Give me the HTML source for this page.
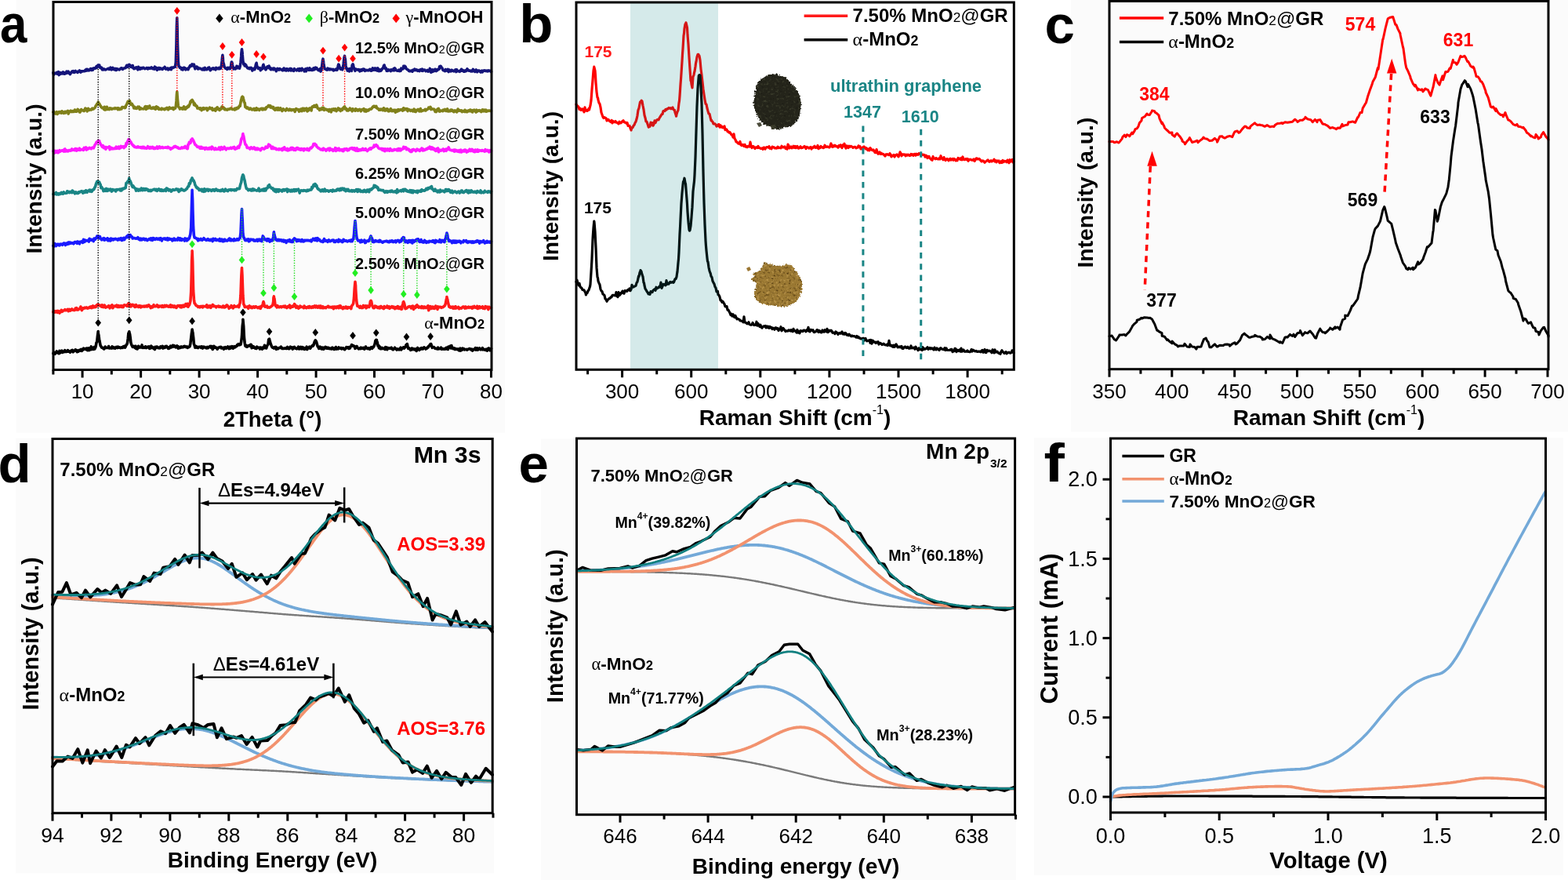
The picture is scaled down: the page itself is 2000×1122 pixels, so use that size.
<!DOCTYPE html>
<html><head><meta charset="utf-8"><title>Figure</title>
<style>html,body{margin:0;padding:0;background:#fff;}svg{display:block;}</style>
</head><body>
<svg width="2000" height="1122" viewBox="0 0 2000 1122">
<rect x="0" y="0" width="2000" height="1122" fill="#fff"/>
<rect x="20.7" y="0" width="623.3" height="551.7" fill="#fbfbfb" stroke="none" stroke-width="0"/>
<rect x="1366" y="0" width="634" height="550.5" fill="#fbfbfb" stroke="none" stroke-width="0"/>
<rect x="20" y="558.5" width="610" height="555" fill="#fbfbfb" stroke="none" stroke-width="0"/>
<rect x="690" y="559.5" width="605.8" height="562.5" fill="#fbfbfb" stroke="none" stroke-width="0"/>
<rect x="1319" y="558.4" width="674.8" height="557.5" fill="#fbfbfb" stroke="none" stroke-width="0"/>
<text x="0" y="54.3" font-size="69" font-weight="bold" text-anchor="start" fill="#000" font-family="'Liberation Sans', Arial, sans-serif" textLength="34.4" lengthAdjust="spacingAndGlyphs">a</text>
<text x="662.3" y="54.4" font-size="68.5" font-weight="bold" text-anchor="start" fill="#000" font-family="'Liberation Sans', Arial, sans-serif" textLength="43.2" lengthAdjust="spacingAndGlyphs">b</text>
<text x="1332.5" y="55" font-size="69" font-weight="bold" text-anchor="start" fill="#000" font-family="'Liberation Sans', Arial, sans-serif">c</text>
<text x="-2.5" y="615" font-size="69" font-weight="bold" text-anchor="start" fill="#000" font-family="'Liberation Sans', Arial, sans-serif">d</text>
<text x="661.5" y="615" font-size="69" font-weight="bold" text-anchor="start" fill="#000" font-family="'Liberation Sans', Arial, sans-serif">e</text>
<text x="1331.5" y="613.5" font-size="69" font-weight="bold" text-anchor="start" fill="#000" font-family="'Liberation Sans', Arial, sans-serif" textLength="26.3" lengthAdjust="spacingAndGlyphs">f</text>
<polyline points="67.9,92.7 68.6,95.1 69.3,93.1 70.1,93.6 70.8,93.7 71.6,93.1 72.3,92.4 73.1,94.2 73.8,93.9 74.6,91.7 75.3,95.6 76,94.3 76.8,92.6 77.5,94.1 78.3,92.8 79,93.1 79.8,93.8 80.5,91.9 81.3,93.5 82,94.2 82.8,94 83.5,92.5 84.2,93.5 85,91.2 85.7,92.4 86.5,92.9 87.2,91.2 88,92.3 88.7,93.9 89.5,94.6 90.2,92.9 90.9,92.8 91.7,91.2 92.4,90.9 93.2,90.6 93.9,92.3 94.7,92.4 95.4,91.1 96.2,90.5 96.9,91.8 97.7,91.7 98.4,91.3 99.1,92.4 99.9,91.1 100.6,91.1 101.4,90 102.1,91.1 102.9,92.1 103.6,90.8 104.4,90.7 105.1,90.9 105.8,90.7 106.6,90.8 107.3,90.7 108.1,90.7 108.8,89.3 109.6,90.2 110.3,88.4 111.1,89.9 111.8,88.5 112.5,89.4 113.3,89.8 114,88.9 114.8,89.3 115.5,87.6 116.3,88.2 117,89.5 117.8,87.7 118.5,89.2 119.3,87.1 120,87.2 120.7,86.7 121.5,87.1 122.2,86.9 123,84.6 123.7,84.5 123.7,86.2 124.5,83.7 125.2,83 125.2,84.1 126,83.8 126.7,83.9 126.7,83 127.4,86.1 128.2,85.6 128.9,86.8 129.7,86.3 130.4,88.8 131.2,88.5 131.9,88.9 132.7,88 133.4,88.5 134.2,88.9 134.9,89 135.6,88.4 136.4,88.1 137.1,87.8 137.9,87.4 138.6,87.2 139.4,88.4 140.1,87.8 140.9,86.2 141.6,87.9 142.3,88.9 143.1,87.7 143.8,86.3 144.6,87.8 145.3,88.6 146.1,88.1 146.8,87.5 147.6,89.5 148.3,89.5 149,87.7 149.8,88.5 150.5,88.1 151.3,88.4 152,89 152.8,88.4 153.5,87.7 154.3,86.9 155,86.7 155.8,87.4 156.5,88.3 157.2,87.4 158,87 158.7,87 159.5,86.5 160.2,86.6 161,84.6 161.7,83.3 162.5,84.2 162.8,83.3 163.2,85.5 163.9,83.6 164.7,83.3 164.7,82.2 165.4,83.9 166.2,83.5 166.6,85.3 166.9,85.3 167.7,84.3 168.4,85.9 169.2,83.5 169.9,85.7 170.7,87.7 171.4,87.5 172.1,87.1 172.9,87 173.6,85.9 174.4,86 175.1,87.4 175.9,88.8 176.6,85.3 177.4,87.9 178.1,87.8 178.8,88.2 179.6,86.5 180.3,86.9 181.1,87.4 181.8,86.4 182.6,86.2 183.3,86.5 184.1,87.3 184.8,87.7 185.5,87.3 186.3,87.3 187,86.6 187.8,86.5 188.5,88 189.3,86.8 190,86.6 190.8,87.3 191.5,87.3 191.5,87.4 192.3,86.4 193,85.9 193,86.2 193.7,86.2 194.5,87.5 194.5,86.5 195.2,87 196,86.7 196.7,88.1 197.5,85.2 198.2,87.5 199,87.9 199.7,86.3 200.4,89.3 201.2,87.2 201.9,87.2 202.7,86.4 203.4,88.2 204.2,87.6 204.9,86.9 205.7,87.6 206.4,88.1 207.2,88.5 207.9,87.6 208.6,86.6 209.4,86.9 210.1,85.4 210.9,86.8 211.6,88.1 212.4,87.8 213.1,87.3 213.9,87.1 214.6,88.8 215.3,87.6 216.1,88.2 216.8,87.7 217.6,86.7 218.3,88.6 219.1,86 219.8,86 220.6,86.5 221.3,86 222,85.8 222.8,85.1 223.5,85.2 224.3,79.2 225,55.9 225.4,33.6 225.8,22.8 225.8,24.5 226.1,34 226.5,56.6 227.3,78.2 228,84.6 228.8,84.9 229.5,86.5 230.2,85.9 231,86.7 231.7,88.5 232.5,86.8 233.2,89 234,86.8 234.7,86.2 235.5,87.3 236.2,86.9 236.9,88.8 237.7,87.9 238.4,88 239.2,87.3 239.9,88.7 240.7,86.8 241.4,86 242.2,84.1 242.9,83.3 243.5,83.8 243.7,84.3 244.4,83.9 245.1,81.9 245.1,83.2 245.9,83.1 246.6,82.5 246.8,84.1 247.4,82.1 248.1,85.2 248.9,87.8 249.6,85.2 250.4,86.6 251.1,85.2 251.8,86.5 252.6,88 253.3,86.5 254.1,87.5 254.8,87.2 255.6,87.3 256.3,87.8 257.1,88.1 257.8,88.8 258.5,88.5 259.3,87.2 260,89 260.8,88.9 261.5,86.4 262.3,88.4 263,88.6 263.8,88.7 264.5,88.3 265.3,86.7 266,87.6 266.7,86 267.5,87.7 268.2,89.7 269,88.5 269.7,88.6 270.5,87.4 271.2,87 272,86.9 272.7,88 273.4,87.2 274.2,87.3 274.9,88.9 275.7,86.4 276.4,86.7 277.2,87.4 277.9,87.7 278.7,87.6 279.4,86.4 280.2,87.7 280.9,87.2 281.6,87.1 282.4,83.6 283.1,78 283.4,74.3 283.9,70.4 283.9,70.8 284.3,73.6 284.6,79 285.4,81.7 286.1,85.4 286.9,85.8 287.6,87.2 288.3,87.1 289.1,87.4 289.8,88.4 290.6,86.3 291.3,87 292.1,87.5 292.8,86.5 293.6,87.6 294.3,86.4 295,81.9 295.3,79 295.8,80.4 295.8,79.4 296.2,80.9 296.5,82.6 297.3,86.1 298,87.9 298.8,87.4 299.5,86.9 300.3,87.9 301,86.7 301.8,84.8 301.9,84.3 302.5,85.6 302.5,85.1 303.1,86.7 303.2,84.8 304,85.5 304.7,86.8 305.5,87.1 306.2,84.5 307,79.5 307.7,71.9 307.9,67.7 308.5,62.8 308.5,63.2 309.1,67.2 309.2,69.4 309.9,77.7 310.7,81.1 310.7,82.1 311.4,81.1 312.2,84 312.2,81.5 312.9,83.9 313.7,82.8 313.7,84 314.4,84.6 315.2,86 315.9,86.9 316.7,86.6 317.4,87.2 318.1,87.7 318.9,86.5 319.6,87.2 320.4,86.4 321.1,88 321.9,90 322.6,88.7 323.4,87.2 324.1,87.3 324.8,88.6 325.6,86.4 326.3,82.6 326.6,81.6 327.1,80.3 327.1,80.3 327.5,83.1 327.8,84.1 328.6,85.5 329.3,87.3 330.1,87 330.8,87 331.5,86.7 332.3,89.7 333,87.7 333.8,88.3 334.5,87.8 335.3,84.3 335.6,83.8 336,82.7 336,82.4 336.5,85.2 336.8,84.8 337.5,86.6 338.3,88 339,88.9 339.7,87.7 340.5,85.8 340.9,85.2 341.2,84.8 342,84.9 342,85.8 342.7,86.5 343.1,84 343.5,86.3 344.2,86 345,88.2 345.7,88.7 346.4,87.4 347.2,87.9 347.9,87.5 348.7,88.8 349.4,87 350.2,87.5 350.9,87.9 351.7,89.6 352.4,90.7 353.2,88.6 353.9,87.5 354.6,88.6 355.4,87.8 356.1,89 356.9,87.6 357.6,88.3 358.4,88.6 359.1,89.1 359.9,88.6 360.6,89.8 361.3,88.8 362.1,87 362.8,89.5 363.6,88.4 364.3,88.1 365.1,90 365.8,87.8 366.6,88.8 367.3,88.1 368,89.9 368.8,88.4 369.5,88.9 370.3,87.5 371,90 371.8,87.8 372.5,89.6 373.3,89.7 374,89.9 374.8,90.4 375.5,87.7 376.2,89.1 377,88.9 377.7,89.1 378.5,89.8 379.2,88.9 380,88 380.7,88.7 381.5,90.2 382.2,87.7 382.9,88.9 383.7,87.9 384.4,89.8 385.2,87.3 385.9,88.5 386.7,88.7 387.4,88.9 388.2,90.9 388.9,90.2 389.7,87.9 390.4,90.8 391.1,87.7 391.9,87.1 392.6,87.5 393.4,89 394.1,89.3 394.9,86.8 395.6,89.2 396.4,88.5 397.1,89.3 397.8,88.3 398.6,89.3 399.3,88.7 400.1,86.8 400.8,88.8 401.2,87.4 401.6,87.7 402.3,88 402.3,86 403.1,87 403.4,86.5 403.8,86.6 404.5,88.1 405.3,88.5 406,89.6 406.8,89.7 407.5,88.5 408.3,87.6 409,91.1 409.8,89.6 410.5,85.4 411.3,79 411.5,77.1 412,75.2 412,76 412.5,78.3 412.7,80.3 413.5,85.3 414.2,87.8 415,88 415.7,88.6 416.5,88.6 417.2,89.2 418,87.1 418.7,88.5 419.4,88.6 420.2,87.9 420.9,88.8 421.7,88 422.4,88.3 423.2,88.7 423.9,88.7 424.7,88.4 425.4,89.9 426.2,89.1 426.9,89.2 427.6,89.1 428.4,88.2 429.1,87.9 429.9,89.3 430.6,87.4 431.4,83.7 431.7,82 432.1,83.1 432.1,82.3 432.6,83.9 432.9,84.8 433.6,87.2 434.3,88.1 435.1,87.2 435.8,88.2 436.6,88.8 437.3,87.4 438.1,81.8 438.8,75.4 439,73.5 439.6,71.4 439.6,72.4 440.1,75 440.3,75 441,83.5 441.8,87.5 442.5,87.6 443.3,90.1 444,88 444.8,89.7 445.5,90.9 446.3,87.6 447,88.4 447.8,88.9 448.5,90.3 449.2,83 449.5,83.9 450,82.4 450,81.8 450.5,82.6 450.7,84.2 451.5,87.2 452.2,87.4 453,90.3 453.7,88 454.5,88.7 455.2,88.5 455.9,88.8 456.7,89.2 457.4,88.5 458.2,89 458.9,90.8 459.7,90.2 460.4,89 461.2,90.1 461.9,88.6 462.7,89.5 463.4,88 464.1,88.2 464.9,88.5 465.6,90.4 466.4,89.5 467.1,89.8 467.9,89.4 468.6,89.6 469.4,89.6 470.1,89.9 470.8,89.4 471.6,88.4 472.3,88.5 473.1,90.2 473.8,90.2 474.6,89.2 475.3,86.9 476.1,89.4 476.4,88 476.8,87.5 477.5,87.4 477.5,87 478.3,89.1 478.7,89.3 479,87 479.8,88.2 480.5,89 481.3,90.1 482,86.9 482.8,90 483.5,90.7 484.3,88.9 485,89.2 485.7,90.3 486.5,89.5 487.2,87.8 488,87.6 488.7,86.5 489.5,83.9 489.7,84.5 490.2,83 490.2,83.5 490.8,85.2 491,86.8 491.7,87.7 492.4,87 493.2,90.3 493.9,89.1 494.7,90.3 495.4,88.9 496.2,89.7 496.9,89.3 497.7,89.4 498.4,90.6 499.2,88.9 499.9,89.6 500.6,89.7 501.4,89.1 502.1,87.5 502.9,89.8 503.6,86.9 504.4,88.1 505.1,89.1 505.9,89.9 506.6,90.2 507.3,90.2 508.1,90 508.8,89.1 509.6,90.5 510.3,89.1 511.1,90.3 511.8,87.2 512.6,88.1 513.3,88 514.1,87.7 514.8,84.3 515.4,86.3 515.5,86.1 516.3,85.3 516.3,84.2 517,86.6 517.2,85 517.8,87.3 518.5,87.6 519.3,88.5 520,88.9 520.8,89.2 521.5,90.4 522.2,90.7 523,90.8 523.7,90.3 524.5,90.2 525.2,90 526,91.2 526.7,89.2 527.5,89.1 528.2,89.7 528.9,88.1 529.7,89.4 530.4,89.6 531.2,88.8 531.9,89.2 532.7,90.3 533.4,89.5 534.2,89.8 534.9,90.6 535.7,89.2 536.4,88.7 537.1,89.7 537.9,90.1 538.6,88.1 539.4,90.3 540.1,89.5 540.9,89.4 541.6,89 542.4,89.6 543.1,90.6 543.8,90.2 544.6,90.5 545.3,89.4 546.1,91.2 546.8,90.9 547.6,89.7 548.3,87.4 549.1,89.8 549.8,92.2 550.6,89.7 551.3,88.8 552,91.3 552.8,89.2 553.5,90.1 554.3,90.4 555,88.3 555.8,89.7 556.5,90.5 557.3,88.9 558,89.5 558.7,88.2 559.5,88.3 560.2,88 560.6,84.8 561,85.1 561.7,85.3 561.7,84.3 562.5,84.6 562.8,85.5 563.2,86.1 564,86.8 564.7,88.6 565.4,89.6 566.2,90 566.9,90.1 567.7,90.7 568.4,88.5 569.2,89.7 569.9,90 570.7,90.3 571.4,88.4 572.2,91.6 572.9,89.1 573.6,90.1 574.4,90.6 575.1,90.9 575.9,89.3 576.6,89.5 577.4,90.3 578.1,90.5 578.9,90.8 579.6,89.9 580.3,89.4 581.1,88.8 581.8,91.6 582.6,88.8 583.3,90.7 584.1,90.3 584.8,90.7 585.6,90.9 586.3,91.3 587.1,90 587.8,90.4 588.5,88.3 589.3,90.1 590,89.3 590.8,89.9 591.5,91.2 592.3,90.2 593,91.1 593.8,89.9 594.5,90.5 595.2,89.7 596,87.8 596.7,89.5 597.5,89.9 598.2,90.3 599,90.1 599.7,90 600.5,91 601.2,90.7 601.9,89.8 602.7,90.9 603.4,88.4 604.2,89.9 604.9,90 605.7,91.4 606.4,89.7 607.2,88.9 607.9,90.4 608.7,91.7 609.4,90 610.1,90.1 610.9,90 611.6,90.3 612.4,91.4 613.1,92 613.9,90.7 614.6,90.1 615.4,91.9 616.1,90.3 616.8,90.3 617.6,89.9 618.3,90 619.1,90.5 619.8,90 620.6,90.6 621.3,90.4 622.1,90.8 622.8,89.9 623.6,90.1 624.3,90.5 625,90.4 625.8,90.4 626.5,91.4" fill="none" stroke="#14147a" stroke-width="3.6" stroke-linejoin="round" stroke-linecap="round"/>
<polyline points="67.9,143 68.6,142.2 69.3,144.5 70.1,143.6 70.8,145 71.6,143.6 72.3,142.6 73.1,145.5 73.8,143.9 74.6,143 75.3,142.7 76,143.8 76.8,142.6 77.5,143.5 78.3,144.2 79,141.8 79.8,142.7 80.5,143.4 81.3,144.4 82,143.6 82.8,142.3 83.5,144 84.2,142.3 85,142.4 85.7,142.8 86.5,141.4 87.2,145.1 88,143.4 88.7,142.4 89.5,141.7 90.2,141.1 90.9,142.4 91.7,142.6 92.4,141.5 93.2,141.7 93.9,142.3 94.7,141.6 95.4,140 96.2,142.2 96.9,141.7 97.7,142.1 98.4,140.7 99.1,139.4 99.9,140.1 100.6,141.4 101.4,142.9 102.1,143.1 102.9,141.2 103.6,139.5 104.4,140.4 105.1,141 105.8,140.9 106.6,140.5 107.3,141.6 108.1,139.5 108.8,138.2 109.6,139.3 110.3,138.9 111.1,141.9 111.8,139.6 112.5,138.4 113.3,140.2 114,140.4 114.8,139.5 115.5,139.5 116.3,140.1 117,139.5 117.8,138.2 118.5,139.1 119.3,139 120,138 120.7,137.8 121.5,136.7 122.2,134.9 123,133.9 123.5,133.7 123.7,132.4 124.5,133.2 125.2,132.9 125.2,130 126,132 126.7,132.2 126.9,132.5 127.4,134 128.2,134.8 128.9,136.4 129.7,137 130.4,137.7 131.2,137.1 131.9,137.8 132.7,139.6 133.4,136.2 134.2,140.1 134.9,138.1 135.6,139.7 136.4,136.3 137.1,138.3 137.9,139.4 138.6,138.8 139.4,139.6 140.1,137.9 140.9,138.2 141.6,138.1 142.3,139.1 143.1,139 143.8,138.5 144.6,138.4 145.3,138.3 146.1,138.6 146.8,137.7 147.6,138.5 148.3,138.3 149,138 149.8,137.9 150.5,139.7 151.3,137.8 152,138.7 152.8,139.5 153.5,138.8 154.3,138.1 155,138.9 155.8,136.6 156.5,136.6 157.2,137.1 158,136.8 158.7,136.5 159.5,137.6 160.2,136.6 161,134 161.7,133.1 162.5,130.9 162.8,131.4 163.2,129.4 163.9,131.1 164.7,129 164.7,130 165.4,128.6 166.2,131.8 166.6,131.7 166.9,133.4 167.7,132.9 168.4,132.5 169.2,134.3 169.9,134.7 170.7,137.9 171.4,136.4 172.1,136.6 172.9,138.1 173.6,137.9 174.4,138.3 175.1,137.5 175.9,136.2 176.6,136.8 177.4,136.1 178.1,139.3 178.8,139 179.6,137.8 180.3,138.7 181.1,138.8 181.8,138.8 182.6,138.7 183.3,139 184.1,138.3 184.8,136.2 185.5,135.7 186.3,139.3 187,138.7 187.8,135.8 188.5,138.1 189.3,137 190,137.1 190.8,135 191.5,137.8 191.5,137.1 192.3,137.7 193,137.9 193,138.1 193.7,138.5 194.5,137.4 194.5,137.4 195.2,136.8 196,138.1 196.7,137.7 197.5,137 198.2,139.2 199,138.9 199.7,135.9 200.4,136.6 201.2,138.1 201.9,137.1 202.7,139.5 203.4,138.5 204.2,138.9 204.9,139.3 205.7,139.6 206.4,138.2 207.2,139 207.9,138.7 208.6,139.2 209.4,138.9 210.1,139.7 210.9,138.9 211.6,138 212.4,138.5 213.1,137.4 213.9,138.7 214.6,139.8 215.3,137.9 216.1,136.9 216.8,138.3 217.6,137.9 218.3,138.4 219.1,137.8 219.8,138.4 220.6,137.3 221.3,139.6 222,137.9 222.8,138.3 223.5,138.1 224.3,135.6 225,128.4 225.4,121 225.8,117 225.8,117.2 226.1,121.7 226.5,126.8 227.3,134.8 228,136.6 228.8,137.3 229.5,139 230.2,138 231,137.8 231.7,138.3 232.5,139.1 233.2,137.4 234,139 234.7,135.9 235.5,137.1 236.2,139.1 236.9,139 237.7,137.4 238.4,136.4 239.2,137 239.9,135.1 240.7,135.9 241.4,134.3 242.2,132.6 242.9,129.7 243.3,130.6 243.7,128.9 244.4,127.9 245.1,127.4 245.1,127.7 245.9,128.6 246.6,129.9 247,130.6 247.4,133.6 248.1,131.6 248.9,134.4 249.6,134 250.4,135.4 251.1,135.3 251.8,138.1 252.6,137.7 253.3,137.9 254.1,137.9 254.8,139 255.6,137.8 256.3,138.7 257.1,140.7 257.8,138.4 258.5,138 259.3,137.7 260,139.4 260.8,138.7 261.5,138 262.3,138 263,138.8 263.8,137.9 264.5,140.7 265.3,138.6 266,138.7 266.7,138.8 267.5,137.2 268.2,137.6 269,138.6 269.7,138.9 270.5,137.8 271.2,140.5 272,139.3 272.7,140.1 273.4,140 274.2,138.8 274.9,141.2 275.7,139.1 276.4,137.3 277.2,136.9 277.9,139 278.7,139.7 279.4,139 280.2,140.5 280.9,138.6 281.6,139.2 282.4,138.7 283.1,136 283.3,136.9 283.9,136.4 283.9,137 284.4,137.7 284.6,137.8 285.4,137.4 286.1,139.3 286.9,139.8 287.6,139 288.3,139.7 289.1,139.7 289.8,140.1 290.6,139.1 291.3,139.4 292.1,139.2 292.8,139.1 293.6,138.4 294.3,138.7 295,138 295.8,138.8 296.5,139.5 297.3,139.5 298,139.5 298.8,138.7 299.5,140 300.3,138.2 301,139.2 301.8,138.8 302.5,137.5 303.2,137.2 304,137.9 304.7,136.3 305.5,135 306.2,135.4 307,130.4 307.7,127.1 307.9,126.9 308.5,123.9 309.2,123.2 309.2,123.8 309.9,123.7 310.5,126.2 310.7,126.8 311.4,130.1 312.2,131.1 312.9,136.4 313.7,136.3 314.4,137.8 315.2,137 315.9,137.1 316.7,138.5 317.4,138.4 318.1,139.4 318.9,138.1 319.6,138.1 320.4,139.3 321.1,139.7 321.9,140 322.6,139.1 323.4,139.4 324.1,138.5 324.8,140.4 325.6,140.3 326.3,140.3 327.1,137.8 327.8,140.1 328.6,138.6 329.3,139.8 330.1,139.7 330.8,140.4 331.5,139.1 332.3,139 333,138.4 333.8,138.2 334.5,139.8 335.3,138.4 336,139.7 336.8,138.7 337.5,138.4 338.3,139.5 339,139 339.7,136.8 340.5,136.9 341.2,136.3 342,136.1 342,134.8 342.7,134.5 343.5,134.5 343.5,135.2 344.2,135.6 345,135 345,137.1 345.7,136.7 346.4,136.4 347.2,136.4 347.9,137.9 348.7,136.6 349.4,139.1 350.2,139.6 350.9,140.4 351.7,139.8 352.4,137.9 353.2,139.2 353.9,140.1 354.6,137.6 355.4,138.8 356.1,140.1 356.9,139.6 357.6,137.8 358.4,139.1 359.1,139.6 359.9,141.5 360.6,139.2 361.3,138.8 362.1,139.9 362.8,140 363.6,140.2 364.3,141 365.1,139.6 365.8,138.5 366.6,139.7 367.3,139.7 368,140.6 368.8,140.5 369.5,139.1 370.3,140.4 371,140.6 371.8,139.6 372.5,140.6 373.3,139.9 374,139.9 374.8,139.6 375.5,140.5 376.2,142.4 377,140 377.7,138.7 378.5,139.6 379.2,139.3 380,140.1 380.7,139.7 381.5,142.1 382.2,140.5 382.9,141.5 383.7,139.2 384.4,139.6 385.2,141.6 385.9,138.3 386.7,139.9 387.4,138.4 388.2,141.1 388.9,138.5 389.7,139.5 390.4,139.6 391.1,138.2 391.9,141.9 392.6,139.5 393.4,141 394.1,138.8 394.9,138 395.6,139.3 396.4,138.9 397.1,141 397.8,136.8 398.6,135.7 399.3,135.8 399.9,136.2 400.1,136.2 400.8,134.5 401.6,134.7 401.6,135.5 402.3,136.2 403.1,135.2 403.2,136 403.8,133.9 404.5,136.3 405.3,138.2 406,138.4 406.8,138.6 407.5,140.5 408.3,139 409,138.4 409.8,139.6 410.5,139.3 411.3,137.3 411.4,139.1 412,139.4 412,137.3 412.6,137.4 412.7,138.4 413.5,140.4 414.2,139.1 415,139.1 415.7,139.3 416.5,140.1 417.2,140.1 418,139.8 418.7,141.1 419.4,142 420.2,139.5 420.9,141 421.7,140.3 422.4,142.8 423.2,139.3 423.9,139.8 424.7,140.2 425.4,138.8 426.2,139.9 426.9,140.7 427.6,138.8 428.4,140.2 429.1,141.7 429.9,139.6 430.6,139.3 431.4,137.8 432.1,140 432.9,138.6 433.6,140.6 434.3,141.5 435.1,140.5 435.8,139.2 436.6,140.3 437.3,138.7 438.1,137.2 438.8,136.5 438.8,137.2 439.6,135.9 439.6,136.7 440.3,138.9 440.3,137.5 441,138.9 441.8,138.6 442.5,140.9 443.3,140.3 444,141 444.8,139.4 445.5,140.3 446.3,138 447,139.9 447.8,139.4 448.5,139.3 449.2,141.8 450,138.8 450.7,140.1 451.5,140.1 452.2,140.7 453,141.2 453.7,138.8 454.5,139.8 455.2,139.6 455.9,140.9 456.7,141.1 457.4,139.9 458.2,139.8 458.9,139.4 459.7,140.6 460.4,141.8 461.2,140.6 461.9,139.6 462.7,139.5 463.4,139.6 464.1,138.7 464.9,141.8 465.6,140.2 466.4,139.9 467.1,142.1 467.9,140.3 468.6,141.3 469.4,140.2 470.1,140.8 470.8,139.7 471.6,139 472.3,139.3 473.1,139.2 473.8,138.9 474.6,137.5 475.3,136.5 475.7,136 476.1,136.4 476.8,135.2 477.5,135.2 477.5,136 478.3,136.2 479,136.6 479.4,135.7 479.8,135.4 480.5,137.6 481.3,138.1 482,138.2 482.8,139.2 483.5,140.2 484.3,139.5 485,140.2 485.7,139.1 486.5,139.9 487.2,139.5 488,139 488.7,140.7 489.5,137.8 490.2,140.3 491,141.1 491.7,140.8 492.4,139 493.2,140.7 493.9,138.8 494.7,139.7 495.4,141.8 496.2,140.6 496.9,141.6 497.7,139.5 498.4,138.6 499.2,139.9 499.9,141.7 500.6,141.4 501.4,141.5 502.1,140.4 502.9,140.5 503.6,140.4 504.4,143.2 505.1,140.6 505.9,142.1 506.6,140.4 507.3,141.8 508.1,139.6 508.8,140.1 509.6,140.8 510.3,139.9 511.1,139.9 511.8,140 512.6,139.5 513.3,141.1 514.1,140.4 514.8,137.8 514.8,140.6 515.5,138.8 516.3,138.7 516.3,138.6 517,139.6 517.8,139.7 517.8,138.6 518.5,139.5 519.3,138.6 520,141.7 520.8,139.5 521.5,139.6 522.2,139.9 523,140.7 523.7,141.3 524.5,140.3 525.2,140.7 526,140.4 526.7,141.9 527.5,140.9 528.2,139.2 528.9,142.1 529.7,141.1 530.4,142.5 531.2,140.2 531.9,140.3 532.7,140.6 533.4,139.5 534.2,140.4 534.9,141.9 535.7,141.4 536.4,138.6 537.1,141.9 537.9,141.1 538.6,141.4 539.4,140.7 540.1,140.8 540.9,140.6 541.6,140.5 542.4,139.3 543.1,141 543.8,140 544.6,139.8 545.3,139.4 546.1,138.4 546.5,138.5 546.8,137.1 547.6,138.3 548.3,138.2 548.3,137.8 549.1,136.5 549.8,139.6 550.2,138.4 550.6,138.7 551.3,138.9 552,139 552.8,139.5 553.5,139.1 554.3,139.8 555,142.4 555.8,141.7 556.5,142.5 557.3,140.2 558,139.1 558.7,139.7 559.5,138.5 560.2,141.9 561,142.1 561.7,141.1 562.5,141.3 563.2,141.3 564,140.9 564.7,141.7 565.4,140.1 566.2,140.7 566.9,140.9 567.7,139.5 568.4,140.2 569.2,141.5 569.9,141.4 570.7,138.9 571.4,141.9 572.2,141.4 572.9,141.8 573.6,141.1 574.4,141.7 575.1,140 575.9,141 576.6,140.2 577.4,140.7 578.1,142.2 578.9,142.6 579.6,141.2 580.3,140.8 581.1,141.9 581.8,141.6 582.6,142.9 583.3,141.8 584.1,139.1 584.8,141.3 585.6,140.9 586.3,140.5 587.1,141.4 587.8,141.3 588.5,140.9 589.3,142.6 590,141.6 590.8,141.6 591.5,141.4 592.3,142.4 593,140.3 593.8,142.4 594.5,141.1 595.2,142.6 596,142.6 596.7,141.8 597.5,140.9 598.2,141.6 599,141.7 599.7,140 600.5,141.1 601.2,140.7 601.9,142.6 602.7,142.9 603.4,140.7 604.2,140.9 604.9,140.2 605.7,141.6 606.4,142.1 607.2,143 607.9,140.2 608.7,142.2 609.4,141.3 610.1,140.8 610.9,141.1 611.6,140.7 612.4,141.8 613.1,141.4 613.9,142.5 614.6,141 615.4,139.8 616.1,140.6 616.8,141.8 617.6,140.1 618.3,140.8 619.1,141.9 619.8,140.2 620.6,142.2 621.3,141.8 622.1,141 622.8,141.5 623.6,141 624.3,141.1 625,141.2 625.8,141.5 626.5,141.4" fill="none" stroke="#80801a" stroke-width="3.6" stroke-linejoin="round" stroke-linecap="round"/>
<polyline points="67.9,192.8 68.6,192.5 69.3,195.2 70.1,192.3 70.8,193.1 71.6,194.2 72.3,194 73.1,192.4 73.8,194.7 74.6,194.5 75.3,192.5 76,191.6 76.8,193.2 77.5,192.4 78.3,192.3 79,191.8 79.8,191.9 80.5,192.5 81.3,193.1 82,190.4 82.8,190 83.5,193 84.2,191.3 85,192.6 85.7,192 86.5,193 87.2,192.6 88,191.5 88.7,191.5 89.5,191.9 90.2,192.2 90.9,190.9 91.7,190 92.4,191.4 93.2,191.2 93.9,191.1 94.7,190.3 95.4,191.6 96.2,189.5 96.9,190.6 97.7,192.1 98.4,189.9 99.1,191.2 99.9,191.1 100.6,191.1 101.4,189.1 102.1,191.5 102.9,190.6 103.6,190.9 104.4,190.6 105.1,190.3 105.8,191.3 106.6,191.4 107.3,188.4 108.1,189.3 108.8,189.8 109.6,187.9 110.3,191.1 111.1,189 111.8,190.1 112.5,189.7 113.3,189.3 114,188.4 114.8,188.9 115.5,189.2 116.3,189.7 117,188.6 117.8,188.2 118.5,188 119.3,188.9 120,187.4 120.7,185.6 121.5,184 122.2,183.4 123,181.4 123.5,180.8 123.7,182.1 124.5,180.4 125.2,179.5 125.2,179.7 126,181.3 126.7,179.7 126.9,181.5 127.4,181.9 128.2,183.7 128.9,184.9 129.7,185.7 130.4,187.3 131.2,185.5 131.9,188.1 132.7,188.7 133.4,187.4 134.2,187.5 134.9,190.2 135.6,187.7 136.4,188.2 137.1,187.9 137.9,188.1 138.6,188 139.4,186.8 140.1,190.8 140.9,188 141.6,189 142.3,188.6 143.1,189.8 143.8,189.2 144.6,189.6 145.3,189.6 146.1,189.3 146.8,188.6 147.6,189.3 148.3,187.1 149,189.3 149.8,189.1 150.5,188.7 151.3,187.2 152,189.5 152.8,187.6 153.5,188.7 154.3,186.4 155,187.8 155.8,187.3 156.5,187 157.2,186.8 158,188.6 158.7,186.4 159.5,186.1 160.2,186.8 161,182.5 161.7,184 162.5,181 162.8,180.2 163.2,179.8 163.9,177.7 164.7,177.7 164.7,178 165.4,178.8 166.2,180.8 166.6,181.7 166.9,181 167.7,182.9 168.4,184.2 169.2,184.6 169.9,185.9 170.7,185.8 171.4,187.4 172.1,187 172.9,187.5 173.6,187.9 174.4,188 175.1,187.3 175.9,186.8 176.6,188 177.4,187.6 178.1,187.7 178.8,188.1 179.6,187.6 180.3,188.6 181.1,188.6 181.8,187.5 182.6,188.6 183.3,187.4 184.1,189 184.8,188.9 185.5,188.3 186.3,189.1 187,189.3 187.8,188.8 188.5,186.7 189.3,188.5 190,188.6 190.8,189.1 191.5,187.5 192.3,189 193,188.7 193.7,188.8 194.5,187.3 195.2,187.7 196,189.4 196.7,189.2 197.5,188.4 198.2,189.4 199,188.7 199.7,188.1 200.4,187 201.2,189.4 201.9,188.3 202.7,188.7 203.4,186.9 204.2,188 204.9,188.7 205.7,188.3 206.4,187.8 207.2,187.5 207.9,188.7 208.6,188.2 209.4,188.2 210.1,188.2 210.9,187.9 211.6,188.2 212.4,188 213.1,188.5 213.9,187.3 214.6,187.5 215.3,188.6 216.1,188.4 216.8,188.7 217.6,190.3 218.3,189.2 219.1,189.5 219.8,188.9 220.6,188.4 221.3,187.8 222,186.9 222.8,187.3 223.5,186.4 224.3,187.5 225,187.1 225.8,187.7 226.5,188.5 227.3,188.1 228,189.3 228.8,189.3 229.5,189.4 230.2,189.2 231,188.7 231.7,187.9 232.5,188.8 233.2,188.1 234,188.1 234.7,188.5 235.5,187.1 236.2,186.5 236.9,188 237.7,189 238.4,188 239.2,189.7 239.9,184.4 240.7,184 241.4,181.3 242.2,181.3 242.9,182.3 243.3,181.3 243.7,178.3 244.4,178 245.1,177.2 245.1,176.7 245.9,178.1 246.6,179 247,180 247.4,180.9 248.1,182.7 248.9,184.7 249.6,184.6 250.4,185.5 251.1,186.5 251.8,187.5 252.6,187.5 253.3,187 254.1,187.7 254.8,189 255.6,187.5 256.3,189.2 257.1,187.3 257.8,189.2 258.5,189.2 259.3,188.6 260,188.8 260.8,188.6 261.5,190.4 262.3,188.5 263,188.3 263.8,189.3 264.5,190 265.3,189.3 266,188.9 266.7,190 267.5,188.4 268.2,188.4 269,188 269.7,190.2 270.5,187.2 271.2,188 272,189.4 272.7,189.5 273.4,190.7 274.2,189.6 274.9,188.8 275.7,190.5 276.4,190.2 277.2,190.3 277.9,190.2 278.7,189.7 279.4,188 280.2,188.3 280.9,191 281.6,189.3 282.4,187.7 283.1,189.4 283.9,190.2 284.6,189.7 285.4,189.4 286.1,187.3 286.9,189.4 287.6,189.2 288.3,190.8 289.1,189.4 289.8,189.3 290.6,189 291.3,189.2 292.1,189.6 292.8,188.9 293.6,188.6 294.3,188.2 295,189.4 295.8,189 296.5,189 297.3,187.9 298,188.5 298.8,187.5 299.5,190 300.3,190.1 301,189.3 301.8,188.8 302.5,189.1 303.2,187.1 304,186.9 304.7,188.5 305.5,185.5 306.2,184.8 307,182 307.7,177.5 308.5,175.9 308.6,176.5 309.2,175 309.9,170.5 309.9,171.3 310.7,173.3 311.3,176.7 311.4,177.7 312.2,181.2 312.9,184.2 313.7,184.5 314.4,185.6 315.2,188.4 315.9,188 316.7,188.6 317.4,188.5 318.1,188.7 318.9,190 319.6,188.4 320.4,187.8 321.1,188.8 321.9,189.6 322.6,189.2 323.4,189.4 324.1,187.8 324.8,188.8 325.6,190.6 326.3,189.5 327.1,189.1 327.8,190.7 328.6,189.2 329.3,190.4 330.1,189.9 330.8,190.1 331.5,190.6 332.3,191.7 333,190.8 333.8,188.9 334.5,188.7 335.3,189.3 336,189.4 336.8,190.1 337.5,189.3 338.3,189.2 339,187.1 339.7,188.1 340.5,188 341.2,188.2 342,186.6 342,186 342.7,184.2 343.5,185 343.5,185 344.2,185.1 345,186.1 345,186.4 345.7,187.1 346.4,189.5 347.2,187.4 347.9,187.4 348.7,189.5 349.4,188.3 350.2,189.4 350.9,189.6 351.7,189.1 352.4,190.6 353.2,190.5 353.9,190.1 354.6,190.5 355.4,190.8 356.1,189.7 356.9,190.6 357.6,190.2 358.4,190.1 359.1,189.7 359.9,191.6 360.6,190.4 361.3,188.8 362.1,190.6 362.8,187.8 363.6,190.4 364.3,190.8 365.1,191.4 365.8,190.4 366.6,189.5 367.3,191.9 368,191.1 368.8,191.4 369.5,190 370.3,190.8 371,188.6 371.8,190.7 372.5,188.3 373.3,189.3 374,188.9 374.8,191.3 375.5,191.1 376.2,189.7 377,191.4 377.7,190.3 378.5,188.5 379.2,189.9 380,188.7 380.7,190.3 381.5,190.6 382.2,189.6 382.9,191 383.7,191.2 384.4,189.5 385.2,190.8 385.9,190.2 386.7,190 387.4,191.8 388.2,189.6 388.9,189.9 389.7,190.2 390.4,190.7 391.1,190.9 391.9,189.3 392.6,191.3 393.4,191.6 394.1,191.7 394.9,189.8 395.6,189 396.4,188.1 397.1,188.9 397.8,187.8 398.6,187.1 399.3,185.7 399.9,183.6 400.1,185.2 400.8,184.6 401.6,184.2 401.6,183.3 402.3,184.5 403.1,185.3 403.2,184.6 403.8,186.9 404.5,187.1 405.3,188.1 406,189 406.8,188.9 407.5,189.5 408.3,190.3 409,190.7 409.8,190.9 410.5,190.1 411.3,191 412,191.4 412.7,189.1 413.5,190.1 414.2,190.4 415,190.5 415.7,192.1 416.5,191.6 417.2,190.4 418,190.5 418.7,189.3 419.4,189.7 420.2,191.8 420.9,189.1 421.7,191.2 422.4,190 423.2,190.4 423.9,190.6 424.7,192.3 425.4,191 426.2,191.2 426.9,191.6 427.6,188.7 428.4,192.4 429.1,189.2 429.9,190.1 430.6,191.4 431.4,189.6 432.1,189.2 432.9,191.8 433.6,190.5 434.3,191.6 435.1,191.2 435.8,190.6 436.6,192.3 437.3,190.5 438.1,192.6 438.8,190 439.6,189.9 440.3,190.1 441,190.9 441.8,189.7 442.5,190 443.3,191.9 444,190.6 444.8,191.4 445.5,190.5 446.3,189.4 447,189 447.8,189.6 448.1,189.4 448.5,188.7 449.2,188.5 450,190.3 450,189.9 450.7,189.3 451.5,188.9 451.9,188.9 452.2,191.3 453,189.2 453.7,192.1 454.5,189.6 455.2,189 455.9,192.3 456.7,190.5 457.4,192.1 458.2,191.2 458.9,190.6 459.7,191.7 460.4,190.6 461.2,191.3 461.9,190.8 462.7,189.3 463.4,191.2 464.1,190.4 464.9,190.7 465.6,191.2 466.4,189.6 467.1,191.3 467.9,191.3 468.6,192.5 469.4,191.4 470.1,190.9 470.8,189.9 471.6,190.3 472.3,188.9 473.1,190.2 473.8,189.2 474.6,188.5 475.3,188.2 476.1,187.8 476.8,186.9 477.2,185.2 477.5,187.1 478.3,185.4 479,185.5 479,185.2 479.8,184.6 480.5,186.2 480.9,185.9 481.3,185.9 482,187.6 482.8,188.9 483.5,189.4 484.3,189.6 485,189.3 485.7,189.9 486.5,190.3 487.2,189.4 488,191.5 488.7,190.9 489.5,189.8 490.2,192.3 491,192.7 491.7,189.9 492.4,190.9 493.2,190.4 493.9,191.8 494.7,189.9 495.4,191.6 496.2,191.5 496.9,192.2 497.7,189.5 498.4,190.5 499.2,191 499.9,192.1 500.6,191.3 501.4,191.9 502.1,191.6 502.9,190.4 503.6,191.1 504.4,190.9 505.1,191 505.9,190.4 506.6,191.9 507.3,191.5 508.1,189.5 508.8,191.8 509.6,190.6 510.3,189.7 511.1,191.9 511.8,190.6 512.6,190.6 513.3,189.8 514.1,189.4 514.8,187.3 514.8,189.6 515.5,187.9 516.3,188.4 516.3,188.4 517,187.7 517.8,187.9 517.8,188.8 518.5,190.6 519.3,189.4 520,189.8 520.8,190.8 521.5,190.4 522.2,192.2 523,191.6 523.7,193.5 524.5,191.5 525.2,193.3 526,190.8 526.7,191.6 527.5,190.4 528.2,191.1 528.9,191.1 529.7,192 530.4,192.6 531.2,191.2 531.9,190.1 532.7,191.4 533.4,191.3 534.2,191 534.9,192.2 535.7,192.4 536.4,190.7 537.1,190.7 537.9,189 538.6,190.7 539.4,191.9 540.1,190.2 540.9,191.7 541.6,191.3 542.4,190.9 543.1,190.7 543.8,189.6 544.6,190.2 545.3,189.8 546.1,188.8 546.1,188.4 546.8,189.3 547.6,189.2 548.3,187.2 548.3,188.5 549.1,187.9 549.8,190.2 550.6,188.2 550.6,187.9 551.3,188.1 552,190.2 552.8,188.8 553.5,190.7 554.3,190 555,192 555.8,192.4 556.5,192.2 557.3,189.5 558,190.1 558.7,189 559.5,193.8 560.2,191 561,191.2 561.7,191.6 562.5,192.1 563.2,191.2 564,191.5 564.7,191.3 565.4,190 566.2,192.7 566.9,192.4 567.7,190.6 568.4,190.2 568.8,191.9 569.2,192.3 569.9,190 570.7,190.4 570.7,189.5 571.4,190.3 572.2,187.9 572.5,188.3 572.9,190.8 573.6,190.5 574.4,191.3 575.1,191.2 575.9,191.9 576.6,191.8 577.4,191.5 578.1,192.1 578.9,191.2 579.6,193.1 580.3,191 581.1,191.5 581.8,192.7 582.6,191.6 583.3,192.8 584.1,193.3 584.8,192.7 585.6,191.6 586.3,193.7 587.1,192.5 587.8,191.2 588.5,193.9 589.3,192.2 590,192.6 590.8,192.9 591.5,191.6 592.3,192.9 593,191 593.8,191.2 594.5,191.8 595.2,194.1 596,192.7 596.7,193.2 597.5,191.8 598.2,192.7 599,190.3 599.7,192 600.5,192.6 601.2,191.7 601.9,190.4 602.7,190.7 603.4,192.8 604.2,193.4 604.9,191.9 605.7,193.7 606.4,191.1 607.2,192.8 607.9,192.5 608.7,193.2 609.4,190.9 610.1,193.2 610.9,192.4 611.6,191.5 612.4,191.9 613.1,192.1 613.9,192.5 614.6,191.5 615.4,191.5 616.1,192.4 616.8,192.2 617.6,192.7 618.3,193.1 619.1,190.6 619.8,192.2 620.6,192.5 621.3,192.3 622.1,191.3 622.8,192.9 623.6,193.8 624.3,192.1 625,191.6 625.8,193 626.5,192.3" fill="none" stroke="#ff1aff" stroke-width="3.6" stroke-linejoin="round" stroke-linecap="round"/>
<polyline points="67.9,247.6 68.6,247.6 69.3,246.9 70.1,247.3 70.8,246.6 71.6,245.4 72.3,248 73.1,247.3 73.8,246.9 74.6,248.1 75.3,246.7 76,247.7 76.8,247.4 77.5,246.3 78.3,245.4 79,246.9 79.8,246.6 80.5,247.2 81.3,244.9 82,246.1 82.8,246.3 83.5,246.4 84.2,246.1 85,246.2 85.7,243.8 86.5,245.5 87.2,245.1 88,244.3 88.7,245.7 89.5,245.2 90.2,244.5 90.9,244.2 91.7,245.7 92.4,243 93.2,245.2 93.9,244.2 94.7,245.3 95.4,246.8 96.2,245.9 96.9,244.9 97.7,246.3 98.4,246.5 99.1,245.7 99.9,246.4 100.6,244.8 101.4,245.2 102.1,244.4 102.9,244.1 103.6,244.4 104.4,243.6 105.1,244.1 105.8,246.2 106.6,244.7 107.3,243.8 108.1,245.5 108.8,245.2 109.6,242.8 110.3,243.1 111.1,245.2 111.8,243.6 112.5,243.6 113.3,242.9 114,242.2 114.8,244.2 115.5,242.3 116.3,243.3 117,244.3 117.8,242.8 118.5,241.8 119.3,242 120,241.1 120.7,239.1 121.5,238.4 122.2,235.5 123,233.2 123.5,233 123.7,231.5 124.5,231.2 125.2,231.2 125.2,231.5 126,233.5 126.7,232.2 126.9,233 127.4,234.2 128.2,235.5 128.9,239.8 129.7,238.5 130.4,240 131.2,240.8 131.9,243.7 132.7,241.6 133.4,241.4 134.2,243.4 134.9,241.7 135.6,240.5 136.4,243.5 137.1,243.3 137.9,241.2 138.6,241.4 139.4,242.5 140.1,241.6 140.9,241.1 141.6,241.4 142.3,244.1 143.1,243.5 143.8,241.5 144.6,242.3 145.3,242.5 146.1,242.1 146.8,242.3 147.6,244 148.3,241.7 149,241.6 149.8,242.2 150.5,241.6 151.3,241.7 152,241.7 152.8,241.1 153.5,243 154.3,241.2 155,242.9 155.8,240.7 156.5,240.4 157.2,241.1 158,240.1 158.7,240.4 159.5,239.3 160.2,239.6 161,233.3 161.7,233.4 162.5,232.6 162.8,231.6 163.2,231 163.9,232.3 164.7,227.4 164.7,230.1 165.4,229.7 166.2,231 166.6,232.8 166.9,232.5 167.7,235 168.4,237.1 169.2,238.5 169.9,236.8 170.7,238.9 171.4,239 172.1,240 172.9,240.9 173.6,243.2 174.4,240.9 175.1,241.3 175.9,241.6 176.6,243.2 177.4,241.3 178.1,242.3 178.8,242.7 179.6,242.5 180.3,240.1 181.1,240.8 181.8,242.7 182.6,240.5 183.3,241.9 184.1,240.7 184.8,242.5 185.5,242.1 186.3,240.7 187,241.9 187.8,241.2 188.5,241.7 189.3,243.4 190,242.5 190.8,242.5 191.5,243.6 192.3,242.3 193,243.4 193.7,242.6 194.5,242.5 195.2,241.9 196,241.5 196.7,241.3 197.5,241.4 198.2,242.7 199,242.6 199.7,241.5 200.4,243.4 201.2,241.7 201.9,241.9 202.7,241 203.4,241.5 204.2,243.1 204.9,242.7 205.7,241.7 206.4,243.4 207.2,242.2 207.9,242.4 208.6,243.3 209.4,242.7 210.1,242 210.9,241.3 211.6,243.5 212.4,240.1 213.1,241.7 213.9,240.7 214.6,241.7 215.3,243 216.1,242 216.8,241.9 217.6,242.2 218.3,244.1 219.1,243.5 219.8,242.5 220.6,241.6 221.3,241.9 222,242.5 222.8,242 223.5,242.1 224.3,241.2 225,240.9 225.8,241.2 226.5,242.4 227.3,241.3 228,244.4 228.8,242.6 229.5,242.7 230.2,242.9 231,241 231.7,240.9 232.5,241.7 233.2,242.4 234,242.2 234.7,243.1 235.5,242.8 236.2,242.2 236.9,242 237.7,240.8 238.4,240.8 239.2,238.9 239.9,237.7 240.7,237.6 241.4,233.6 242.2,234.5 242.9,232.9 243.3,229.9 243.7,230.1 244.4,228.3 245.1,226.8 245.1,228 245.9,228.6 246.6,230.4 247,230.1 247.4,231.4 248.1,232.7 248.9,236.1 249.6,236.8 250.4,239 251.1,238.7 251.8,240.2 252.6,239.9 253.3,240.5 254.1,242.5 254.8,241.5 255.6,241.7 256.3,242.6 257.1,241.3 257.8,243.9 258.5,241.5 259.3,241.9 260,244.3 260.8,240.8 261.5,244 262.3,242.7 263,242.9 263.8,241.5 264.5,242.6 265.3,241.3 266,243.4 266.7,242.3 267.5,241.9 268.2,242.1 269,242.4 269.7,243.4 270.5,242.9 271.2,241.9 272,241.8 272.7,241.7 273.4,243.3 274.2,243 274.9,241.6 275.7,241.1 276.4,242.6 277.2,242.1 277.9,243.1 278.7,242.5 279.4,243 280.2,243.4 280.9,243.6 281.6,242.4 282.4,243.3 283.1,242.1 283.9,241.5 284.6,242.8 285.4,243.7 286.1,243.9 286.9,242.6 287.6,241.1 288.3,242.9 289.1,242.4 289.8,243.2 290.6,243.6 291.3,242.2 292.1,241.9 292.8,242.2 293.6,241.9 294.3,241.6 295,242.7 295.8,241.8 296.5,242.2 297.3,242.1 298,241.8 298.8,242.8 299.5,241.8 300.3,242 301,242.7 301.8,241.7 302.5,240.4 303.2,241 304,240.5 304.7,240.8 305.5,240.5 306.2,237.3 307,234.3 307.7,232.4 308.5,226.7 308.6,226.7 309.2,224.6 309.9,222.8 309.9,222.7 310.7,224.3 311.3,227.8 311.4,227.8 312.2,230.5 312.9,234.7 313.7,238 314.4,240.6 315.2,240.9 315.9,241.1 316.7,242.7 317.4,242.5 318.1,242.1 318.9,241.5 319.6,242.3 320.4,243.1 321.1,241.4 321.9,241 322.6,242.9 323.4,241.1 324.1,241.4 324.8,242.4 325.6,242.4 326.3,242.6 327.1,242.7 327.8,243.1 328.6,242.5 329.3,241.9 330.1,240.1 330.8,243.7 331.5,243.3 332.3,243.2 333,242.6 333.8,241.8 334.5,242.9 335.3,242.4 336,241.2 336.8,243.2 337.5,240.8 338.3,241.4 339,242.9 339.7,240 340.5,240 341.2,239.9 342,238 342,236.7 342.7,236.8 343.5,236.9 343.5,235.6 344.2,238.5 345,238.3 345,238.6 345.7,239.2 346.4,240.3 347.2,240.4 347.9,240 348.7,242.4 349.4,242.2 350.2,243.8 350.9,241.4 351.7,242.7 352.4,244.6 353.2,241.5 353.9,241.7 354.6,243 355.4,244.3 356.1,241.7 356.9,242.9 357.6,242.7 358.4,242.4 359.1,242.6 359.9,244 360.6,243 361.3,241.7 362.1,242.3 362.8,243 363.6,241.7 364.3,242.3 365.1,242.6 365.8,241 366.6,244.6 367.3,241.5 368,243 368.8,242.8 369.5,242.4 370.3,244 371,243 371.8,242.2 372.5,244 373.3,243.5 374,242 374.8,241.6 375.5,243.8 376.2,242.9 377,241.7 377.7,243.5 378.5,241.7 379.2,242.4 380,242.2 380.7,241.2 381.5,243.6 382.2,246.1 382.9,243.5 383.7,243.3 384.4,242.7 385.2,242.9 385.9,243.2 386.7,243.5 387.4,242.5 388.2,242.9 388.9,242.7 389.7,243.4 390.4,243.7 391.1,243.8 391.9,242.3 392.6,242.2 393.4,243.2 394.1,242.2 394.9,242 395.6,242.2 396.4,241.6 397.1,241.8 397.8,238.6 398.6,239.7 399.3,237.1 399.9,237.3 400.1,235.3 400.8,235.5 401.6,234.7 401.6,236.9 402.3,234.7 403.1,237.5 403.2,236 403.8,236.6 404.5,239 405.3,240.8 406,240.6 406.8,241.9 407.5,242.1 408.3,242.2 409,243.8 409.8,242.7 410.5,243.6 411.3,241.8 412,242.8 412.7,243.8 413.5,242.6 414.2,241.1 415,243.8 415.7,243.6 416.5,242.9 417.2,243.3 418,242.9 418.7,243.5 419.4,244.2 420.2,243.5 420.9,243.1 421.7,242.8 422.4,243.1 423.2,242.8 423.9,244.1 424.7,242.2 425.4,242.6 426.2,243.4 426.9,243.4 427.6,243.2 428.4,242.6 429.1,243 429.9,241.4 430.6,241.1 431.4,241.1 432.1,242.3 432.9,242.9 433.6,240.9 434.3,240.5 434.3,240.8 435.1,242.4 435.8,240.8 436.6,240.6 436.6,240 437.3,241 438.1,242 438.8,241.2 438.8,240.3 439.6,242.6 440.3,241.7 441,243.7 441.8,241.4 442.5,242.4 443.3,243 444,241.4 444.8,243.2 445.5,243.7 446.3,243.1 447,243.7 447.8,243.5 448.5,242.6 449.2,244.1 450,242.8 450.7,243.2 451.5,242.8 452.2,244 453,243.1 453.7,243.1 454.5,241.6 455.2,243.3 455.9,244.4 456.7,241.6 457.4,243.8 458.2,243.5 458.9,242 459.7,243.1 460.4,244.4 461.2,243.5 461.9,243.8 462.7,244.5 463.4,243.2 464.1,244.3 464.9,242.3 465.6,242.7 466.4,244.7 467.1,244.6 467.9,244.2 468.6,242 469.4,243.1 470.1,242.4 470.8,244.7 471.6,241.6 472.3,241.4 473.1,241.7 473.8,242 474.6,240.5 475.3,240 476.1,239.7 476.8,238.5 477.2,236.4 477.5,236.5 478.3,238.5 479,236.9 479,238.5 479.8,238.4 480.5,238.7 480.9,238.2 481.3,239.9 482,239.1 482.8,242.4 483.5,241.7 484.3,242.3 485,242 485.7,242.2 486.5,242.8 487.2,242.7 488,242.6 488.7,242.5 489.5,243.7 490.2,244.7 491,245.4 491.7,244.4 492.4,243.6 493.2,244.3 493.9,245.3 494.7,243.9 495.4,244.7 496.2,244.2 496.9,244 497.7,243.4 498.4,244.5 499.2,243.2 499.9,243 500.6,244.2 501.4,244.8 502.1,244.8 502.9,244.7 503.6,243.7 504.4,243.8 505.1,245 505.9,245.8 506.6,241.6 507.3,245 508.1,244.1 508.8,243.9 509.6,243.3 510.3,243.3 511.1,242.7 511.8,243.9 512.6,242.7 513.3,243.2 514.1,241.7 514.8,243.8 515.5,243.1 515.5,241.4 516.3,242.6 517,241.7 517,241.3 517.8,242.3 518.5,243.2 518.5,243.8 519.3,243 520,244.2 520.8,244 521.5,244.2 522.2,244.6 523,242.6 523.7,243.6 524.5,245.3 525.2,242.8 526,243.3 526.7,245.7 527.5,243.1 528.2,244.2 528.9,244.3 529.7,243.8 530.4,244.9 531.2,244.8 531.9,243.4 532.7,245.6 533.4,243.3 534.2,243.6 534.9,243.9 535.7,244.1 536.4,242.9 537.1,244.1 537.9,241.8 538.6,243.3 539.4,242.8 540.1,242.8 540.9,243.1 541.6,243.2 542.4,242 543.1,242.2 543.8,240.4 544.6,240.9 545.3,241.5 546.1,239.5 546.1,239.9 546.8,239.7 547.6,240.1 548.3,239.6 548.3,239.1 549.1,238.5 549.8,239.9 550.6,237.6 550.6,240.5 551.3,240 552,241.8 552.8,241.7 553.5,243.4 554.3,242.1 555,241.2 555.8,243.3 556.5,243 557.3,243.5 558,244.8 558.7,243 559.5,244.5 560.2,244.7 561,244.9 561.7,242.2 562.5,244.1 563.2,243.3 564,243.7 564.7,243.1 565.4,243.4 566.2,244.3 566.9,244.8 567.7,243.7 568.4,241.7 568.8,243.8 569.2,241.5 569.9,242.1 570.7,243.4 570.7,241.8 571.4,243.1 572.2,242.4 572.5,241.7 572.9,243.1 573.6,242.7 574.4,245 575.1,245.3 575.9,245.2 576.6,243.1 577.4,245.8 578.1,244.5 578.9,244.7 579.6,244.5 580.3,243.9 581.1,244.5 581.8,245.2 582.6,245.8 583.3,245 584.1,244.5 584.8,244.1 585.6,244.2 586.3,246 587.1,245.1 587.8,244.7 588.5,243.1 589.3,243 590,245.2 590.8,245.1 591.5,245.6 592.3,244.8 593,244 593.8,243.1 594.5,243.8 595.2,242.6 596,244.9 596.7,245.1 597.5,245.9 598.2,243 599,243.4 599.7,245.2 600.5,245 601.2,242.9 601.9,244.1 602.7,244.8 603.4,244.4 604.2,245.1 604.9,244.8 605.7,244.2 606.4,245.1 607.2,244.7 607.9,245.8 608.7,243.5 609.4,244.6 610.1,244.2 610.9,244.6 611.6,245.2 612.4,245.4 613.1,242.9 613.9,245.8 614.6,245.3 615.4,245.3 616.1,244.9 616.8,245.7 617.6,245.2 618.3,243.3 619.1,244.3 619.8,244.6 620.6,244.6 621.3,244.5 622.1,245.4 622.8,243.9 623.6,244.2 624.3,244 625,244.9 625.8,245.3 626.5,244.1" fill="none" stroke="#1a8585" stroke-width="3.6" stroke-linejoin="round" stroke-linecap="round"/>
<polyline points="67.9,313.3 68.6,312.4 69.3,314 70.1,310.6 70.8,312.5 71.6,313.5 72.3,312 73.1,311.2 73.8,311.4 74.6,312.5 75.3,311.5 76,312.8 76.8,311.8 77.5,311.1 78.3,311.2 79,311.9 79.8,312.3 80.5,310.5 81.3,310.1 82,310 82.8,311.4 83.5,312.5 84.2,310.3 85,311.3 85.7,310.2 86.5,311.3 87.2,309 88,310.8 88.7,309 89.5,309.3 90.2,310.3 90.9,309.6 91.7,309.7 92.4,310.1 93.2,309.7 93.9,310.8 94.7,310 95.4,308.5 96.2,309.1 96.9,308.6 97.7,308.6 98.4,310.4 99.1,308 99.9,309.8 100.6,309.9 101.4,310.8 102.1,308.3 102.9,308.4 103.6,308.3 104.4,307.6 105.1,309.4 105.8,309.4 106.6,305.4 107.3,307.1 108.1,308.3 108.8,306.2 109.6,306.4 110.3,306.9 111.1,306.7 111.8,306.5 112.5,306.4 113.3,308.1 114,304.2 114.8,305.7 115.5,305.1 116.3,306.2 117,305.5 117.8,306.2 118.5,305.6 119.3,307.6 120,304 120.7,304.5 121.5,305.2 122.2,303.5 123,303.4 123.7,301.2 123.7,303.2 124.5,301.9 125.2,302.3 125.2,300.9 126,301.5 126.7,301.7 126.7,304 127.4,301.5 128.2,304.1 128.9,304.4 129.7,305.8 130.4,305.1 131.2,304.1 131.9,305.6 132.7,303.7 133.4,306.2 134.2,305.2 134.9,304.6 135.6,304.9 136.4,305.8 137.1,303.8 137.9,306.8 138.6,304.6 139.4,306.7 140.1,305.4 140.9,307 141.6,304.1 142.3,306 143.1,305.2 143.8,304.6 144.6,305.9 145.3,304.9 146.1,304.5 146.8,304.9 147.6,304.4 148.3,304.9 149,305 149.8,306 150.5,304.9 151.3,304.3 152,305.6 152.8,304.6 153.5,304 154.3,303.7 155,306.4 155.8,304.6 156.5,306.1 157.2,303.6 158,303.3 158.7,305.6 159.5,303.5 160.2,303.1 161,302.6 161.7,301.3 162.5,302.5 162.8,300.2 163.2,301.7 163.9,299.7 164.7,302.9 164.7,301.1 165.4,301.6 166.2,299.5 166.6,301.6 166.9,301 167.7,301.4 168.4,301.9 169.2,304 169.9,303.7 170.7,303.5 171.4,303.6 172.1,303.8 172.9,304 173.6,304.3 174.4,303.6 175.1,303.8 175.9,302.7 176.6,304.7 177.4,305.3 178.1,304.3 178.8,306 179.6,304.1 180.3,304.8 181.1,305.9 181.8,305 182.6,304.1 183.3,305.2 184.1,304.5 184.8,305.9 185.5,305.6 186.3,304.7 187,305.4 187.8,306.5 188.5,305.9 189.3,305.7 190,304.7 190.8,304.4 191.5,304.2 192.3,305.9 193,303.9 193.7,305.3 194.5,306.4 195.2,303.5 196,305.3 196.7,304 197.5,304.8 198.2,305.4 199,304.1 199.7,303.8 200.4,304.6 201.2,305.2 201.9,304.6 202.7,304.1 203.4,305.6 204.2,304 204.9,303.7 205.7,305.1 206.4,307 207.2,304.6 207.9,304.9 208.6,304.1 209.4,304.5 210.1,304 210.9,305.3 211.6,304.4 212.4,304.3 213.1,305.9 213.9,303.7 214.6,305.9 215.3,304.9 216.1,304.2 216.8,305.1 217.6,304.8 218.3,305.4 219.1,304.9 219.8,306.8 220.6,306.1 221.3,306.1 222,304 222.8,304.8 223.5,306.2 224.3,305.7 225,305.1 225.8,305.1 226.5,306.1 227.3,303.4 228,304.3 228.8,303.9 229.5,306.2 230.2,303.9 231,304.9 231.7,306.4 232.5,304.8 233.2,305.4 234,305.1 234.7,305.7 235.5,307 236.2,303.9 236.9,304.9 237.7,306.3 238.4,306.9 239.2,304.4 239.9,305.6 240.7,304.6 241.4,304 242.2,301.1 242.9,298.3 243.7,290.3 244.4,265.3 244.7,254.5 245.1,242.4 245.1,244.8 245.6,254.4 245.9,267.9 246.6,290 247.4,300.1 248.1,303.2 248.9,303.2 249.6,303.2 250.4,304 251.1,304.7 251.8,304.4 252.6,306.8 253.3,304.7 254.1,305.9 254.8,306 255.6,305.5 256.3,304.4 257.1,305.9 257.8,306.3 258.5,305.6 259.3,305.5 260,303.6 260.8,304.5 261.5,305.4 262.3,305.8 263,306.3 263.8,305.3 264.5,305.8 265.3,304.7 266,306.2 266.7,306.3 267.5,305.6 268.2,306.6 269,305.4 269.7,305.3 270.5,305.5 271.2,307.6 272,304.3 272.7,306 273.4,305.5 274.2,305.9 274.9,304.5 275.7,306.5 276.4,306.4 277.2,305.6 277.9,305.5 278.7,305.9 279.4,306.8 280.2,304.5 280.9,307.2 281.6,305.6 282.4,306.7 283.1,305.2 283.9,307.7 284.6,306.2 285.4,307.6 286.1,305.4 286.9,305.4 287.6,307 288.3,306.7 289.1,306.3 289.8,307.2 290.6,306.4 291.3,305.7 292.1,304.3 292.8,304 293.6,306.6 294.3,306.6 295,305.2 295.8,306.5 296.5,305.9 297.3,306.1 298,306.9 298.8,304.6 299.5,306.3 300.3,306.4 301,305.7 301.8,306 302.5,304.7 303.2,305.7 304,306 304.7,305.7 305.5,303.7 306.2,303.4 307,296.8 307.7,281.1 308,273.5 308.5,266.9 308.5,266.5 308.9,275.7 309.2,280.2 309.9,297.6 310.7,302.7 311.4,303.1 312.2,305.5 312.9,306.6 313.7,306.4 314.4,306.6 315.2,305.2 315.9,306.3 316.7,304.9 317.4,307.8 318.1,307.6 318.9,305.3 319.6,305.9 320.4,305.2 321.1,305.6 321.9,305.9 322.6,305.3 323.4,305.9 324.1,307 324.8,306.1 325.6,307.1 326.3,306.3 327.1,306.5 327.8,305.3 328.6,307.3 329.3,305.4 330.1,306.1 330.8,305.2 331.5,306.8 332.3,305.3 333,306.7 333.8,307.6 334.5,305.2 335.3,300.9 335.5,303.3 336,301.7 336,302.1 336.6,302.8 336.8,304 337.5,305.8 338.3,305.8 339,305.1 339.7,306.3 340.5,307.1 341.2,304.7 342,306.6 342.7,304.8 343.5,307.5 344.2,308.1 345,307.2 345.7,305.9 346.4,306.9 347.2,307 347.9,305.7 348.7,301.5 348.9,299.5 349.4,295.8 349.4,296.6 349.9,298.9 350.2,300.3 350.9,302.5 351.7,305.6 352.4,305.6 353.2,306.6 353.9,306.8 354.6,305.3 355.4,305.9 356.1,306.8 356.9,305.7 357.6,306.7 358.4,305.9 359.1,306.1 359.9,307.5 360.6,306.6 361.3,306.2 362.1,308.1 362.8,306.5 363.6,306.7 364.3,306.8 365.1,309.5 365.8,307.4 366.6,307.6 367.3,306.4 368,307.6 368.8,307.8 369.5,305.7 370.3,307.2 371,308.2 371.8,308.4 372.5,306.8 373.3,308.5 374,305.3 374.8,306.2 374.8,305.7 375.5,303.9 375.5,305.8 376.2,304.1 376.2,304.7 377,305.8 377.7,305.3 378.5,307.7 379.2,306.4 380,305.7 380.7,307.1 381.5,306.9 382.2,305.9 382.9,306.4 383.7,307.7 384.4,307.7 385.2,305.5 385.9,307.8 386.7,307.8 387.4,308 388.2,306.5 388.9,306.2 389.7,306.9 390.4,306.4 391.1,306.7 391.9,306.4 392.6,306.7 393.4,306.4 394.1,306.9 394.9,306.9 395.6,306.5 396.4,306.1 397.1,307.8 397.8,306.9 398.6,306.1 399.3,304.3 400.1,305.2 400.1,304.5 400.8,304.8 401.6,304.3 401.6,306.4 402.3,304.3 403.1,303.8 403.1,305.7 403.8,306.2 404.5,306.9 405.3,303.7 406,305.5 406.8,305.9 407.5,305.3 408.3,307 409,307.5 409.8,308 410.5,307.9 411.3,307.1 412,308.5 412.7,307.3 413.5,304.5 414.2,306.8 415,306.4 415.7,307.4 416.5,306.8 417.2,306.8 418,308.4 418.7,306.5 419.4,305.9 420.2,307.4 420.9,307.8 421.7,307.1 422.4,307.2 423.2,306.6 423.9,306 424.7,306.5 425.4,306.2 426.2,308.3 426.9,307 427.6,308.5 428.4,307.1 429.1,306.4 429.9,307.4 430.6,307.4 431.4,308.4 432.1,305.4 432.9,306.8 433.6,307.6 434.3,306.5 435.1,307.3 435.8,307 436.6,308.6 437.3,308.4 438.1,305.4 438.8,305.8 439.6,306.5 440.3,307.2 441,307.1 441.8,306.8 442.5,307.8 443.3,308 444,307.3 444.8,306.9 445.5,307.1 446.3,306.3 447,307.7 447.8,307.6 448.5,305.8 449.2,307.7 450,305.7 450.7,304.9 451.5,299.3 452.2,289.4 452.4,287.6 453,281.5 453,282.2 453.5,285.8 453.7,290.1 454.5,299.1 455.2,303.9 455.9,305.3 456.7,307 457.4,307 458.2,306.7 458.9,306.6 459.7,308.8 460.4,308.6 461.2,306.2 461.9,308.4 462.7,307.8 463.4,307.6 464.1,307.8 464.9,306.1 465.6,309.6 466.4,309.3 467.1,307.4 467.9,307.4 468.6,307.5 469.4,306.7 470.1,307.6 470.8,306.7 471.6,304.6 472.3,302.8 472.5,302 473.1,301 473.1,301.2 473.6,303.2 473.8,302.9 474.6,304.1 475.3,308.1 476.1,306.6 476.8,308.6 477.5,307.6 478.3,308 479,306.7 479.8,307.6 480.5,307.2 481.3,307.5 482,308 482.8,307.2 483.5,308.3 484.3,306.3 485,306.6 485.7,308 486.5,308.1 487.2,308.6 488,309.1 488.7,308.1 489.5,308.4 490.2,307.9 491,307.8 491.7,307.6 492.4,307.8 493.2,307.2 493.9,307.6 494.7,308.4 495.4,308.2 496.2,308.8 496.9,307.3 497.7,307.4 498.4,308.1 499.2,307 499.9,306.9 500.6,308.3 501.4,307.5 502.1,308.5 502.9,307.8 503.6,307.4 504.4,306.8 505.1,308.8 505.9,307.7 506.6,306.9 507.3,306.4 508.1,306.6 508.8,307.4 509.6,308.8 510.3,306.8 511.1,307.9 511.8,307.7 512.6,304.3 513.3,305.3 514.1,305.7 514.2,302.6 514.8,304.8 514.8,303.8 515.4,303 515.5,306.6 516.3,306.4 517,308.7 517.8,307.7 518.5,306.9 519.3,308.7 520,309.3 520.8,308.9 521.5,306.7 522.2,308.3 523,306.7 523.7,307.2 524.5,309 525.2,306.5 526,310 526.7,306.4 527.5,306.6 528.2,308.4 528.9,307.4 529.7,307.2 530.4,306 531.2,306.9 531.2,306.4 531.9,305.8 531.9,305.1 532.7,304.9 532.7,306.2 533.4,304.9 534.2,306.8 534.9,308.2 535.7,308.4 536.4,307.4 537.1,305.5 537.9,308.4 538.6,308.7 539.4,307.9 540.1,309.1 540.9,308.8 541.6,306.4 542.4,307.7 543.1,307.5 543.8,309.4 544.6,308.9 545.3,308 546.1,308.5 546.8,308.8 547.6,307.3 548.3,307.8 549.1,307.9 549.8,307.6 550.6,307.7 551.3,308.2 552,306.8 552.8,306.9 553.5,308.7 554.3,309.4 555,309.7 555.8,306.4 556.5,308.3 557.3,307.2 558,307.5 558.7,307.8 559.5,308.3 560.2,308.5 561,305.7 561.7,307.4 562.5,308.9 563.2,308 564,306.3 564.7,306.9 565.4,306.9 566.2,308.4 566.9,308.7 567.7,305 568.4,304.2 569.2,300 569.2,300.4 569.9,297.9 569.9,297.1 570.6,299.3 570.7,299.6 571.4,305.1 572.2,305.4 572.9,307.6 573.6,306.7 574.4,307.1 575.1,308 575.9,307.4 576.6,309.7 577.4,309.2 578.1,307 578.9,308.5 579.6,309.4 580.3,307 581.1,307.7 581.8,309.4 582.6,307.3 583.3,308.7 584.1,308 584.8,308.3 585.6,307.2 586.3,308.1 587.1,307.7 587.8,309.8 588.5,308.7 589.3,308.3 590,308.2 590.8,308.8 591.5,306.7 592.3,307.3 593,307.3 593.8,307.5 594.5,306.7 595.2,308.7 596,307.8 596.7,309.4 597.5,308.1 598.2,307.9 599,308.6 599.7,308.6 600.5,308 601.2,308.8 601.9,309.4 602.7,307.8 603.4,309.4 604.2,308.1 604.9,309 605.7,308.2 606.4,307.9 607.2,308.5 607.9,307.2 608.7,306.8 609.4,308.2 610.1,308.1 610.9,307.3 611.6,310.2 612.4,308.7 613.1,307.6 613.9,308.8 614.6,308.8 615.4,307.9 616.1,308.1 616.8,306.6 617.6,308.5 618.3,310 619.1,309.4 619.8,309.3 620.6,307.8 621.3,307.3 622.1,309.1 622.8,308.6 623.6,308.2 624.3,308.1 625,309.2 625.8,308.9 626.5,307.9" fill="none" stroke="#1a1aff" stroke-width="3.6" stroke-linejoin="round" stroke-linecap="round"/>
<polyline points="67.9,397.8 68.6,396.3 69.3,396.6 70.1,398.1 70.8,397.1 71.6,396.7 72.3,397.6 73.1,398.4 73.8,396.4 74.6,396.8 75.3,396.8 76,399.2 76.8,397.8 77.5,397 78.3,395.4 79,397.3 79.8,397 80.5,396.3 81.3,395.7 82,395.8 82.8,394.7 83.5,395.7 84.2,395.6 85,395.1 85.7,395.5 86.5,394.3 87.2,396.7 88,395.4 88.7,394.4 89.5,396.1 90.2,395.8 90.9,394.7 91.7,393.9 92.4,394.9 93.2,395.3 93.9,395.4 94.7,395.6 95.4,395.4 96.2,393.2 96.9,394.5 97.7,392.6 98.4,395.1 99.1,394.5 99.9,394.9 100.6,394 101.4,393.8 102.1,393.2 102.9,391 103.6,393.3 104.4,395.6 105.1,394.4 105.8,392.9 106.6,393.2 107.3,393.2 108.1,392.2 108.8,392.6 109.6,392.8 110.3,391.9 111.1,392.6 111.8,393.2 112.5,392.7 113.3,392.1 114,391.6 114.8,392.3 115.5,391.1 116.3,390.9 117,392.6 117.8,391 118.5,390 119.3,391.9 120,391.6 120.7,391.8 121.5,390.5 122.2,391.3 123,389.8 123.7,388.7 123.7,389.4 124.5,389.6 125.2,388.2 125.2,389 126,389.5 126.7,389.1 126.7,389.6 127.4,389.8 128.2,389.4 128.9,390.7 129.7,391.1 130.4,388.9 131.2,390.2 131.9,391.6 132.7,391.3 133.4,389.2 134.2,391.1 134.9,392.1 135.6,391.6 136.4,391.5 137.1,390.7 137.9,390.9 138.6,389.8 139.4,390.8 140.1,392.9 140.9,390.8 141.6,389.9 142.3,391.2 143.1,388.9 143.8,392.8 144.6,391.3 145.3,390.5 146.1,390.4 146.8,389.9 147.6,390.8 148.3,390.7 149,389.2 149.8,391.5 150.5,390.3 151.3,389.6 152,391.4 152.8,391.2 153.5,390 154.3,389.9 155,391.5 155.8,390.1 156.5,390.6 157.2,391.6 158,389.1 158.7,388.8 159.5,389.2 160.2,389.3 161,389.6 161.7,390.2 162.5,388.6 162.8,390.4 163.2,389 163.9,386.8 164.7,388.5 164.7,389.2 165.4,389.6 166.2,388.1 166.6,388.8 166.9,391 167.7,389.4 168.4,388.7 169.2,388.4 169.9,389.5 170.7,390.4 171.4,389.2 172.1,391.5 172.9,389.6 173.6,388.6 174.4,390.9 175.1,390.4 175.9,390.2 176.6,391.5 177.4,389.9 178.1,391 178.8,389.9 179.6,391.9 180.3,390.4 181.1,390.5 181.8,391 182.6,390.4 183.3,390.9 184.1,390.2 184.8,391 185.5,390.5 186.3,390 187,391 187.8,390.9 188.5,389.5 189.3,390.2 190,389 190.8,390.6 191.5,391.2 192.3,392.7 193,390.8 193.7,391.4 194.5,391.8 195.2,391.2 196,388.8 196.7,390.1 197.5,390.8 198.2,390.8 199,390.6 199.7,389.7 200.4,388.8 201.2,390.9 201.9,391.6 202.7,390.1 203.4,391 204.2,390.1 204.9,390.4 205.7,390 206.4,391.3 207.2,389.7 207.9,390.7 208.6,391.4 209.4,390.5 210.1,389.5 210.9,390.9 211.6,390.4 212.4,389.4 213.1,390.4 213.9,390.3 214.6,391.1 215.3,390.1 216.1,390.7 216.8,391.1 217.6,388.9 218.3,391.5 219.1,390.6 219.8,389.7 220.6,390.7 221.3,391.5 222,390 222.8,390.1 223.5,391.8 224.3,392 225,392.4 225.8,390.6 226.5,389.7 227.3,389.7 228,390.3 228.8,389.7 229.5,391 230.2,391.7 231,389.6 231.7,391.8 232.5,389.7 233.2,389.9 234,389.2 234.7,391.1 235.5,390.3 236.2,390.3 236.9,387.6 237.7,389.6 238.4,390.2 239.2,387.3 239.9,391.2 240.7,389.3 241.4,389.2 242.2,386.6 242.9,383.9 243.7,372 244.4,345.4 244.6,332.5 245.1,322.7 245.1,319.9 245.7,333.6 245.9,342.8 246.6,370.7 247.4,381.5 248.1,386.7 248.9,387.3 249.6,388.9 250.4,389.8 251.1,390 251.8,390 252.6,391.5 253.3,390.7 254.1,391 254.8,391.8 255.6,390.6 256.3,390.8 257.1,391.3 257.8,390.5 258.5,391.9 259.3,390.3 260,390.7 260.8,390.8 261.5,390.6 262.3,390.9 263,390.5 263.8,388.8 264.5,392 265.3,390.6 266,391.7 266.7,390 267.5,391.5 268.2,389.9 269,392.3 269.7,390.9 270.5,390.6 271.2,388.5 272,389 272.7,390.6 273.4,390.5 274.2,390.5 274.9,390.6 275.7,391.9 276.4,390.7 277.2,390.7 277.9,390.4 278.7,390.1 279.4,391.4 280.2,390.7 280.9,390.8 281.6,391.4 282.4,391.2 283.1,391.8 283.9,391.8 284.6,390 285.4,390.4 286.1,392 286.9,390.8 287.6,391.7 288.3,390.4 289.1,389 289.8,389.2 290.6,390.5 291.3,390.8 292.1,393.3 292.8,391.8 293.6,391.8 294.3,392 295,389.7 295.8,391.2 296.5,391 297.3,392.9 298,390.5 298.8,389.7 299.5,391.1 300.3,390.8 301,391 301.8,391 302.5,390.8 303.2,389.9 304,389.7 304.7,391.7 305.5,388 306.2,386.4 307,376.2 307.7,355.8 307.9,351.2 308.5,341.6 308.5,342.6 309,351.4 309.2,357.6 309.9,376.5 310.7,387.7 311.4,388.8 312.2,391.6 312.9,390.9 313.7,391.4 314.4,391.4 315.2,391.4 315.9,390.9 316.7,393.3 317.4,390.5 318.1,390 318.9,391.6 319.6,390.8 320.4,392.3 321.1,391.3 321.9,392.5 322.6,391.6 323.4,390.8 324.1,391.2 324.8,392.2 325.6,391 326.3,390.8 327.1,391.4 327.8,391.8 328.6,392.6 329.3,391.9 330.1,392.3 330.8,391.3 331.5,393.1 332.3,393.3 333,390.6 333.8,391.1 334.5,389.6 335.3,387.6 335.5,386.4 336,385 336,384.5 336.6,386.3 336.8,387.4 337.5,390.6 338.3,391.3 339,390.9 339.7,390.8 340.5,390.1 341.2,392.1 342,391.6 342.7,392 343.5,392.1 344.2,391.9 345,391.2 345.7,391 346.4,390.1 347.2,389.8 347.9,388.6 348.7,384.7 348.9,379.8 349.4,377.9 349.4,380.5 349.9,380.3 350.2,382.3 350.9,388.3 351.7,390.2 352.4,389.3 353.2,392 353.9,389.8 354.6,390.9 355.4,391.1 356.1,391.9 356.9,391.3 357.6,391.1 358.4,390.8 359.1,391.8 359.9,391.3 360.6,390.9 361.3,390.4 362.1,390.8 362.8,391.7 363.6,390.2 364.3,391.7 365.1,391.7 365.8,392.6 366.6,391 367.3,390.7 368,391.5 368.8,391.2 369.5,389.2 370.3,392.6 371,391.7 371.8,391.5 372.5,390.5 373.3,391.2 374,389.9 374.8,390.6 374.8,389.8 375.5,389.9 375.5,387.5 376.2,388.4 376.2,388.8 377,389.6 377.7,392.3 378.5,391.6 379.2,390.5 380,391.3 380.7,393.2 381.5,391.3 382.2,392.1 382.9,390.1 383.7,391.1 384.4,391.5 385.2,391.4 385.9,391.6 386.7,392 387.4,392.7 388.2,390.1 388.9,391.7 389.7,392.3 390.4,391.9 391.1,392.7 391.9,391.6 392.6,391.3 393.4,391 394.1,392.5 394.9,390.6 395.6,391.3 396.4,391.7 397.1,392.3 397.8,391.4 398.6,390.9 399.3,392.2 400.1,390.7 400.8,391.1 401.6,389.9 402.3,391.9 403.1,391.8 403.8,390.2 404.5,391.5 405.3,392.2 406,391.1 406.8,390.2 407.5,391.6 408.3,392.3 409,390 409.8,392.5 410.5,391.7 411.3,392.5 412,390.8 412.7,392.6 413.5,392 414.2,392.4 415,391.8 415.7,392.6 416.5,391.6 417.2,391.3 418,390.8 418.7,390.3 419.4,391.8 420.2,391.4 420.9,391.7 421.7,391.5 422.4,392.1 423.2,391.8 423.9,391.2 424.7,392.4 425.4,393.6 426.2,391 426.9,391.4 427.6,392.3 428.4,391.1 429.1,392.7 429.9,391.2 430.6,390.7 431.4,390.9 432.1,392.7 432.9,390 433.6,391.9 434.3,389.9 435.1,392.4 435.8,392.1 436.6,392.4 437.3,393.7 438.1,391.7 438.8,392.8 439.6,392.3 440.3,392.7 441,391.1 441.8,392.8 442.5,391.5 443.3,393.1 444,392.5 444.8,391.7 445.5,392.1 446.3,392 447,391.6 447.8,393.6 448.5,390.2 449.2,389.3 450,388.4 450.7,386.8 451.5,380 452.2,368.2 452.4,365.9 453,359.3 453,359.2 453.6,364.2 453.7,368.5 454.5,381.3 455.2,386.9 455.9,390.3 456.7,390 457.4,391 458.2,391.4 458.9,392.3 459.7,390.3 460.4,391.8 461.2,392.6 461.9,392.1 462.7,392.4 463.4,389.6 464.1,391.1 464.9,391.5 465.6,391.2 466.4,389.8 467.1,392.8 467.9,392 468.6,390 469.4,391.2 470.1,391.4 470.8,391.5 471.6,389.4 472.3,384.5 472.5,384.1 473.1,383.3 473.1,383.9 473.7,384.3 473.8,384.8 474.6,389.3 475.3,390.8 476.1,392.6 476.8,392.1 477.5,392.7 478.3,390.1 479,390.7 479.8,390.6 480.5,391.3 481.3,392.3 482,391.7 482.8,392.5 483.5,391.3 484.3,392.9 485,392.8 485.7,390.5 486.5,391.1 487.2,391.5 488,392.8 488.7,392.7 489.5,393.7 490.2,390.7 491,392.2 491.7,392 492.4,391.8 493.2,391.9 493.9,390.2 494.7,392.3 495.4,391.7 496.2,390.9 496.9,393.3 497.7,391.4 498.4,392.3 499.2,391.4 499.9,390.6 500.6,391.6 501.4,392.3 502.1,391.1 502.9,392.5 503.6,393.6 504.4,393.1 505.1,391.7 505.9,391.3 506.6,392.9 507.3,390.7 508.1,391 508.8,393.5 509.6,392.3 510.3,392.3 511.1,391.5 511.8,394.2 512.6,394 513.3,389.4 514.1,387.2 514.2,385.3 514.8,384.6 514.8,385.4 515.4,386.8 515.5,386.3 516.3,390 517,393.7 517.8,392.6 518.5,393.2 519.3,392.5 520,391.9 520.8,391.1 521.5,391.2 522.2,390.6 523,391.1 523.7,391.3 524.5,392.8 525.2,390.6 526,392.5 526.7,390.2 527.5,394.4 528.2,391.3 528.9,391.7 529.7,392.7 530.4,390.2 531,389.9 531.2,389.7 531.9,389.8 531.9,388.8 532.7,391.2 532.9,390.8 533.4,390.5 534.2,392.2 534.9,391.5 535.7,391.4 536.4,391.9 537.1,392.5 537.9,390.7 538.6,391.9 539.4,392.6 540.1,391.2 540.9,392.5 541.6,391.2 542.4,392.4 543.1,392.2 543.8,392.5 544.6,391.6 545.3,390.4 546.1,389.8 546.8,395.7 547.6,390.9 548.3,391.4 549.1,390.7 549.8,393.5 550.6,392.9 551.3,393 552,391.2 552.8,393.2 553.5,391.5 554.3,393.4 555,392.1 555.8,390.1 556.5,392.1 557.3,391.4 558,394.4 558.7,390.9 559.5,391.9 560.2,391.9 561,391.3 561.7,391.4 562.5,392 563.2,392.3 564,391.5 564.7,391.5 565.4,391.6 566.2,390.4 566.9,390.3 567.7,388.9 568.4,386.7 569.2,382.2 569.2,382.1 569.9,380.1 569.9,378.5 570.7,382.7 570.7,381.3 571.4,385.6 572.2,388.5 572.9,391.2 573.6,390.7 574.4,392.1 575.1,391.5 575.9,391.4 576.6,392.3 577.4,391.2 578.1,393.2 578.9,391.4 579.6,391.7 580.3,393.2 581.1,390.8 581.8,393 582.6,392.2 583.3,392.3 584.1,392.4 584.8,391.4 585.6,393.7 586.3,392.7 587.1,392.8 587.8,393 588.5,393.1 589.3,392.5 590,391.4 590.8,391 591.5,391 592.3,391.8 593,393.1 593.8,391 594.5,391.9 595.2,392.8 596,391.9 596.7,392 597.5,391.2 598.2,392.4 599,391.7 599.7,391.6 600.5,391.8 601.2,392.6 601.9,393.1 602.7,391.2 603.4,392.7 604.2,391.2 604.9,390.5 605.7,391.6 606.4,392.3 607.2,392.2 607.9,392.6 608.7,390.4 609.4,393.5 610.1,393 610.9,392.8 611.6,390.8 612.4,392.6 613.1,391.8 613.9,391.8 614.6,392.2 615.4,390.8 616.1,393.2 616.8,393.2 617.6,393 618.3,393.5 619.1,390.7 619.8,392 620.6,391.9 621.3,391.1 622.1,393 622.8,394.6 623.6,391.3 624.3,392.8 625,392.3 625.8,392.4 626.5,392.4" fill="none" stroke="#ff1a1a" stroke-width="3.6" stroke-linejoin="round" stroke-linecap="round"/>
<polyline points="67.9,450.6 68.6,449.3 69.3,449.5 70.1,451.3 70.8,449.7 71.6,449.6 72.3,447.9 73.1,449.9 73.8,449.9 74.6,449.6 75.3,450.7 76,447.4 76.8,449.9 77.5,447.5 78.3,448 79,447.1 79.8,449.5 80.5,448.6 81.3,448.2 82,448.6 82.8,446.6 83.5,447.8 84.2,448.5 85,447.7 85.7,448.1 86.5,446.6 87.2,448.1 88,447.6 88.7,448 89.5,449.2 90.2,447.7 90.9,447 91.7,447.9 92.4,446.4 93.2,448.8 93.9,447.3 94.7,447.2 95.4,447.5 96.2,445.9 96.9,446.9 97.7,446.6 98.4,448.7 99.1,448 99.9,448.2 100.6,446.5 101.4,446.5 102.1,447.2 102.9,445.6 103.6,445.3 104.4,447.4 105.1,446.3 105.8,446.2 106.6,444.1 107.3,445.2 108.1,445 108.8,444.7 109.6,445.5 110.3,444.3 111.1,444 111.8,446.7 112.5,445.3 113.3,443.8 114,446.6 114.8,445.1 115.5,444.8 116.3,441.9 117,445.6 117.8,444.3 118.5,445.1 119.3,445.4 120,442.5 120.7,445 121.5,443.6 122.2,441.7 123,436.9 123.7,435.8 124.5,427.7 124.5,428 125.2,422.6 125.2,424.3 126,427.9 126,428.7 126.7,433.1 127.4,436.8 128.2,440.8 128.9,441.6 129.7,443.2 130.4,443.1 131.2,443.5 131.9,444.6 132.7,445 133.4,443.6 134.2,442.1 134.9,443.6 135.6,443.4 136.4,443.5 137.1,443.4 137.9,443.5 138.6,441.5 139.4,444 140.1,443.9 140.9,443.8 141.6,443.3 142.3,444.2 143.1,441.9 143.8,443.3 144.6,443.9 145.3,442.9 146.1,443.2 146.8,444.2 147.6,443.1 148.3,442.4 149,442.7 149.8,443.5 150.5,442.2 151.3,443.1 152,442.7 152.8,443 153.5,443.6 154.3,443.6 155,442.9 155.8,443 156.5,443.4 157.2,441.9 158,442.6 158.7,441.3 159.5,443.2 160.2,441.9 161,439.9 161.7,439.2 162.5,437.3 163.2,431.9 163.9,424.7 163.9,427.2 164.7,422.7 164.7,422.8 165.4,425.3 165.5,425.4 166.2,430.2 166.9,436.7 167.7,439.5 168.4,440.8 169.2,442.4 169.9,442.3 170.7,441.3 171.4,442 172.1,443.5 172.9,441.3 173.6,444.5 174.4,442.1 175.1,445 175.9,443.1 176.6,441.3 177.4,443.2 178.1,442.9 178.8,442.4 179.6,442.9 180.3,442.9 181.1,439.9 181.8,443.5 182.6,442.6 183.3,442.9 184.1,443.5 184.8,442.9 185.5,441.8 186.3,443.6 187,442.6 187.8,443.1 188.5,442.2 189.3,442.7 190,442 190.8,444.3 191.5,442 192.3,443.8 193,441.2 193.7,443.1 194.5,442.7 195.2,443.8 196,443.1 196.7,444.9 197.5,445.5 198.2,442.4 199,443.5 199.7,442.1 200.4,442.1 201.2,442.9 201.9,443.7 202.7,443.5 203.4,442.8 204.2,443.9 204.9,441.9 205.7,442.1 206.4,442.9 207.2,441.3 207.9,444.1 208.6,442.8 209.4,442.6 210.1,443.3 210.9,441.7 211.6,442.8 212.4,441.4 213.1,442.8 213.9,443 214.6,444.3 215.3,442.9 216.1,444 216.8,442.7 217.6,441.1 218.3,443 219.1,442.1 219.8,441.1 220.2,442.2 220.6,440.2 221.3,440.6 221.3,441.6 222,441.9 222.4,440.8 222.8,441.8 223.5,442.1 224.3,442.9 225,442.4 225.8,440.8 226.5,442.5 227.3,444.2 228,442.1 228.8,442.7 229.5,443.6 230.2,442.7 231,441.9 231.7,442.9 232.5,442.7 233.2,442.1 234,442.7 234.7,441.6 235.5,441.4 236.2,441.7 236.9,442.5 237.7,442.6 238.4,442 239.2,443.4 239.9,442.7 240.7,442 241.4,442.4 242.2,441.4 242.9,437.8 243.7,431.1 244.4,425 244.4,425.3 245.1,420.5 245.1,420 245.9,424.5 245.9,424.6 246.6,430 247.4,438.6 248.1,440.2 248.9,443.2 249.6,442 250.4,441.6 251.1,443.2 251.8,442.7 252.6,443.5 253.3,442.4 254.1,442.4 254.8,442.3 255.6,442.3 256.3,443.3 257.1,441.9 257.8,443.2 258.5,444 259.3,442.2 260,442.9 260.8,442.4 261.5,442.7 262.3,443.2 263,443.7 263.8,443.9 264.5,442.5 265.3,443.7 266,442.6 266.7,442.1 267.5,442.3 268.2,441.4 269,443.2 269.7,441.5 270.5,443.3 271.2,445.5 272,442.3 272.7,441.3 273.4,443.5 274.2,442.2 274.9,443.1 275.7,443.2 276.4,443.4 277.2,445.2 277.9,443.5 278.7,443.4 279.4,443.1 280.2,442.5 280.9,442.6 281.6,442.3 282.4,444 283.1,443.1 283.9,443.8 284.6,443.5 285.4,445.2 286.1,443.1 286.9,443.8 287.6,442.7 288.3,444.3 289.1,443 289.8,443.3 290.6,442 291.3,443.7 292.1,444.7 292.8,444.4 293.6,442.2 294.3,444 295,442.5 295.8,441.6 296.5,442 297.3,444.2 298,442.7 298.8,441.7 299.5,443 300.3,442.6 301,441.5 301.8,441.5 302.5,439.8 302.9,440.7 303.2,439.9 304,438.7 304,439 304.7,439.7 305.1,439 305.5,439.8 306.2,439.6 307,439.1 307.7,435.4 308.5,429 309.2,416.2 309.4,414.3 309.9,410.4 309.9,407.2 310.5,414 310.7,416 311.4,430 312.2,437.5 312.9,441.1 313.7,440.2 314.4,442.3 315.2,442.3 315.9,441.8 316.7,440.7 317.4,440.5 318.1,440.7 318.5,441.1 318.9,440.2 319.6,439.4 319.6,440.4 320.4,439.5 320.7,441.4 321.1,443.7 321.9,441.2 322.6,443.2 323.4,441.8 324.1,443 324.8,443.5 325.6,444.2 326.3,443.2 327.1,444.4 327.8,442.1 328.6,443.1 329.3,443.3 330.1,443.4 330.8,443.2 331.5,445 332.3,443 333,444.2 333.8,443.7 334.5,445.1 335.3,443.1 336,443.9 336.8,443.7 337.5,440.2 338.3,443.4 339,443.8 339.7,444 340.5,441 341.2,440.3 342,438.7 342.7,432.7 342.7,433 343.5,432.1 343.5,432.2 344.2,434.9 344.2,434.8 345,437.8 345.7,439.5 346.4,441.4 347.2,442.7 347.9,443.3 348.7,443.2 349.4,444 350.2,442.7 350.9,443 351.7,442.3 352.4,445.3 353.2,443.4 353.9,444.4 354.6,444.7 355.4,443.9 356.1,443.4 356.9,443.2 357.6,443.4 358.4,442.1 359.1,443.2 359.9,444.4 360.6,443.9 361.3,444.4 362.1,444.4 362.8,444.3 363.6,443.8 364.3,443.9 365.1,444.5 365.8,443.4 366.6,442.5 367.3,444.5 368,443.8 368.8,444.7 369.5,443.1 370.3,442.2 371,443.6 371.8,443.2 372.5,442.9 373.3,445.1 374,444 374.8,442.7 375.5,442.3 376.2,443.7 377,444.3 377.7,444 378.5,444.8 379.2,444.1 380,444.2 380.7,442.1 381.5,444.9 382.2,443.3 382.9,444.6 383.7,442.4 384.4,443 385.2,444.9 385.9,442.7 386.7,443.9 387.4,443.4 388.2,445.4 388.9,444.1 389.7,444.9 390.4,443.7 391.1,442.2 391.9,445.6 392.6,443.2 393.4,443.7 394.1,443.6 394.9,442.2 395.6,444.2 396.4,443.1 397.1,441.7 397.8,441.7 398.6,440.5 399.3,441 400.1,439.8 400.8,436.8 401.4,435.7 401.6,434.8 402.3,434.4 402.3,433.9 403.1,435 403.2,435 403.8,436.6 404.5,439.2 405.3,442 406,442.2 406.8,444.4 407.5,444.1 408.3,442.2 409,444 409.8,444.8 410.5,443.1 411.3,444.9 412,443.1 412.7,445.2 413.5,444.3 414.2,443.6 415,442.3 415.7,443.8 416.5,443.2 417.2,444.2 418,443.1 418.7,444.3 419.4,443.5 420.2,444.5 420.9,444.7 421.7,444.1 422.4,444.4 423.2,445 423.9,443.1 424.7,444.5 425.4,444.2 426.2,445.4 426.9,443.8 427.6,444.9 428.4,442.5 429.1,445.1 429.9,444.4 430.6,444.4 431.4,444.8 432.1,442.9 432.9,443.8 433.6,444.1 434.3,443.7 435.1,443.5 435.8,444.9 436.6,444 437.3,443.8 438.1,444 438.8,445.2 439.6,445.7 440.3,444.9 441,444.4 441.8,442.7 442.5,443.3 443.3,442.9 444,442.8 444.8,444.5 445.5,442.6 446.3,444 447,442.3 447.8,441.4 448.5,440.7 448.5,439.6 449.2,440 450,441 450,440.8 450.7,440.5 451.5,441.5 451.5,441.1 452.2,441.9 453,444.4 453.7,442.9 454.5,441.6 455.2,441.6 455.9,443 456.7,444 457.4,444.8 458.2,444 458.9,444.2 459.7,444.6 460.4,443.2 461.2,444.1 461.9,444.4 462.7,443.8 463.4,443.4 464.1,444.6 464.9,445.2 465.6,444.2 466.4,442 467.1,443.4 467.9,443.8 468.6,444.5 469.4,443.7 470.1,443.7 470.8,445 471.6,445.2 472.3,444.1 473.1,442.9 473.8,442.7 474.6,444.3 475.3,442.7 476.1,442.9 476.8,441.7 477.5,440.2 478.3,437.8 478.9,434.4 479,434.1 479.8,433.5 479.8,433.4 480.5,433.5 480.7,437.1 481.3,436.2 482,441 482.8,440.4 483.5,443.8 484.3,441.9 485,444.6 485.7,444.1 486.5,444.7 487.2,443.4 488,444.4 488.7,444.4 489.5,444.4 490.2,443.8 491,445.5 491.7,442.7 492.4,442.9 493.2,443 493.9,445.7 494.7,443.6 495.4,443.7 496.2,443.7 496.9,444.1 497.7,444.2 498.4,444 499.2,443.1 499.9,444.8 500.6,444.5 501.4,445.8 502.1,444.9 502.9,444.4 503.6,443.2 504.4,444.6 505.1,445 505.9,446 506.6,444.9 507.3,445.2 508.1,445.1 508.8,446 509.6,445.5 510.3,444.6 511.1,443.2 511.8,446 512.6,444.5 513.3,443.7 514.1,443.1 514.8,442.6 515.5,444.2 516.3,443.2 517,442.4 517.8,441.7 517.8,440 518.5,439.9 518.5,439.2 519.3,439.8 519.3,438.5 520,441.5 520.8,444.4 521.5,443.6 522.2,444.6 523,444.5 523.7,446.4 524.5,445.9 525.2,444 526,444.2 526.7,445.7 527.5,444.9 528.2,444.8 528.9,445.8 529.7,445.2 530.4,444.9 531.2,447.5 531.9,445.1 532.7,443.5 533.4,445.1 534.2,445 534.9,446.3 535.7,445.1 536.4,444.2 537.1,445.1 537.9,443.6 538.6,444.4 539.4,445 540.1,443.9 540.9,442.8 541.6,443.7 542.4,443.8 543.1,445 543.8,443.9 544.6,444 545.3,442.8 546.1,443 546.8,441.3 547.6,441.1 547.9,440.2 548.3,440.7 549.1,439.4 549.1,438.6 549.8,438.6 550.2,440.2 550.6,441.3 551.3,443.3 552,442.5 552.8,442.5 553.5,442.5 554.3,443.5 555,444.3 555.8,444.4 556.5,444.4 557.3,444.7 558,445 558.7,443.2 559.5,444.8 560.2,444.6 561,444.6 561.7,444.4 562.5,443.1 563.2,445.2 564,444.4 564.7,444.7 565.4,445.1 566.2,444.8 566.9,445.1 567.7,445.1 568.4,443.8 569.2,443.4 569.9,445 570.7,443.2 571.4,445.5 572.2,442.1 572.9,442.7 572.9,442.5 573.6,442.4 574.4,441.2 574.4,442.4 575.1,444 575.9,442.1 575.9,440.6 576.6,443.7 577.4,444 578.1,444.6 578.9,443.6 579.6,444.9 580.3,445.5 581.1,444.4 581.8,445 582.6,445.4 583.3,445.7 584.1,444.8 584.8,445.2 585.6,446.9 586.3,446.9 587.1,444.2 587.8,447.1 588.5,444.8 589.3,446.1 590,444.1 590.8,445 591.5,444.6 592.3,445.9 593,445.4 593.8,445.6 594.5,445.6 595.2,445.4 596,446.1 596.7,445.4 597.5,445.2 598.2,444.7 599,444.5 599.7,444.8 600.5,445.6 601.2,446.2 601.9,445.2 602.7,447.1 603.4,446.4 604.2,445.4 604.9,445.7 605.7,445.3 606.4,443.7 607.2,446.1 607.9,445.6 608.7,443.9 609.4,446.2 610.1,444.9 610.9,445.2 611.6,443.9 612.4,445.4 613.1,445.8 613.9,445 614.6,445.4 615.4,443.7 616.1,445.9 616.8,445.4 617.6,445.4 618.3,446.1 619.1,446.4 619.8,445.4 620.6,446.3 621.3,447.1 622.1,444.5 622.8,445.6 623.6,444 624.3,445.8 625,446.8 625.8,445.4 626.5,444.5" fill="none" stroke="#000" stroke-width="3.6" stroke-linejoin="round" stroke-linecap="round"/>
<line x1="125.2" y1="88" x2="125.2" y2="410" stroke="#000" stroke-width="1.4" stroke-dasharray="1.4,1.8"/>
<line x1="164.7" y1="87" x2="164.7" y2="406" stroke="#000" stroke-width="1.4" stroke-dasharray="1.4,1.8"/>
<line x1="225.8" y1="22" x2="225.8" y2="118" stroke="#ff0000" stroke-width="1.4" stroke-dasharray="1.4,1.8"/>
<line x1="283.9" y1="72" x2="283.9" y2="137" stroke="#ff0000" stroke-width="1.4" stroke-dasharray="1.4,1.8"/>
<line x1="295.8" y1="80" x2="295.8" y2="138" stroke="#ff0000" stroke-width="1.4" stroke-dasharray="1.4,1.8"/>
<line x1="412" y1="76" x2="412" y2="136" stroke="#ff0000" stroke-width="1.4" stroke-dasharray="1.4,1.8"/>
<line x1="439.6" y1="71" x2="439.6" y2="134" stroke="#ff0000" stroke-width="1.4" stroke-dasharray="1.4,1.8"/>
<line x1="308.5" y1="266" x2="308.5" y2="331" stroke="#22dd22" stroke-width="1.4" stroke-dasharray="1.4,1.8"/>
<line x1="336" y1="302" x2="336" y2="373" stroke="#22dd22" stroke-width="1.4" stroke-dasharray="1.4,1.8"/>
<line x1="349.4" y1="297" x2="349.4" y2="367" stroke="#22dd22" stroke-width="1.4" stroke-dasharray="1.4,1.8"/>
<line x1="375.5" y1="306" x2="375.5" y2="378" stroke="#22dd22" stroke-width="1.4" stroke-dasharray="1.4,1.8"/>
<line x1="453" y1="282" x2="453" y2="348" stroke="#22dd22" stroke-width="1.4" stroke-dasharray="1.4,1.8"/>
<line x1="473.1" y1="301" x2="473.1" y2="370" stroke="#22dd22" stroke-width="1.4" stroke-dasharray="1.4,1.8"/>
<line x1="514.8" y1="303" x2="514.8" y2="375" stroke="#22dd22" stroke-width="1.4" stroke-dasharray="1.4,1.8"/>
<line x1="531.9" y1="306" x2="531.9" y2="376" stroke="#22dd22" stroke-width="1.4" stroke-dasharray="1.4,1.8"/>
<line x1="569.9" y1="298" x2="569.9" y2="368" stroke="#22dd22" stroke-width="1.4" stroke-dasharray="1.4,1.8"/>
<polygon points="225.8,8.9 229.6,13.8 225.8,18.7 222,13.8" fill="#ff0000"/>
<polygon points="283.9,54.1 287.7,59 283.9,63.9 280.1,59" fill="#ff0000"/>
<polygon points="295.8,64.9 299.6,69.8 295.8,74.7 292,69.8" fill="#ff0000"/>
<polygon points="308.5,49.1 312.3,54 308.5,58.9 304.7,54" fill="#ff0000"/>
<polygon points="327.1,64.1 330.9,69 327.1,73.9 323.3,69" fill="#ff0000"/>
<polygon points="336,67.5 339.8,72.4 336,77.3 332.2,72.4" fill="#ff0000"/>
<polygon points="412,59.7 415.8,64.6 412,69.5 408.2,64.6" fill="#ff0000"/>
<polygon points="432.1,69.8 435.9,74.7 432.1,79.6 428.3,74.7" fill="#ff0000"/>
<polygon points="439.6,55.7 443.4,60.6 439.6,65.5 435.8,60.6" fill="#ff0000"/>
<polygon points="450,69.8 453.8,74.7 450,79.6 446.2,74.7" fill="#ff0000"/>
<polygon points="245.1,306.4 248.9,311.3 245.1,316.2 241.3,311.3" fill="#22ee22"/>
<polygon points="308.5,326.5 312.3,331.4 308.5,336.3 304.7,331.4" fill="#22ee22"/>
<polygon points="336,368.8 339.8,373.7 336,378.6 332.2,373.7" fill="#22ee22"/>
<polygon points="349.4,362.1 353.2,367 349.4,371.9 345.6,367" fill="#22ee22"/>
<polygon points="375.5,373.3 379.3,378.2 375.5,383.1 371.7,378.2" fill="#22ee22"/>
<polygon points="453,343.2 456.8,348.1 453,353 449.2,348.1" fill="#22ee22"/>
<polygon points="473.1,365.1 476.9,370 473.1,374.9 469.3,370" fill="#22ee22"/>
<polygon points="514.8,370 518.6,374.9 514.8,379.8 511,374.9" fill="#22ee22"/>
<polygon points="531.9,371.1 535.7,376 531.9,380.9 528.1,376" fill="#22ee22"/>
<polygon points="569.9,363.7 573.7,368.6 569.9,373.5 566.1,368.6" fill="#22ee22"/>
<polygon points="125.2,406.7 129,411.6 125.2,416.5 121.4,411.6" fill="#000"/>
<polygon points="164.7,403.4 168.5,408.3 164.7,413.2 160.9,408.3" fill="#000"/>
<polygon points="245.1,404.5 248.9,409.4 245.1,414.3 241.3,409.4" fill="#000"/>
<polygon points="309.9,393.4 313.7,398.3 309.9,403.2 306.1,398.3" fill="#000"/>
<polygon points="343.5,417.9 347.3,422.8 343.5,427.7 339.7,422.8" fill="#000"/>
<polygon points="402.3,419 406.1,423.9 402.3,428.8 398.5,423.9" fill="#000"/>
<polygon points="450,423 453.8,427.9 450,432.8 446.2,427.9" fill="#000"/>
<polygon points="479.8,419.4 483.6,424.3 479.8,429.2 476,424.3" fill="#000"/>
<polygon points="518.5,424.6 522.3,429.5 518.5,434.4 514.7,429.5" fill="#000"/>
<polygon points="549.1,424.1 552.9,429 549.1,433.9 545.3,429" fill="#000"/>
<rect x="68" y="2.5" width="559" height="469" fill="none" stroke="#000" stroke-width="3"/>
<line x1="105.1" y1="471.5" x2="105.1" y2="481.5" stroke="#000" stroke-width="3"/>
<line x1="179.6" y1="471.5" x2="179.6" y2="481.5" stroke="#000" stroke-width="3"/>
<line x1="254.1" y1="471.5" x2="254.1" y2="481.5" stroke="#000" stroke-width="3"/>
<line x1="328.6" y1="471.5" x2="328.6" y2="481.5" stroke="#000" stroke-width="3"/>
<line x1="403.1" y1="471.5" x2="403.1" y2="481.5" stroke="#000" stroke-width="3"/>
<line x1="477.5" y1="471.5" x2="477.5" y2="481.5" stroke="#000" stroke-width="3"/>
<line x1="552" y1="471.5" x2="552" y2="481.5" stroke="#000" stroke-width="3"/>
<line x1="626.5" y1="471.5" x2="626.5" y2="481.5" stroke="#000" stroke-width="3"/>
<line x1="67.9" y1="471.5" x2="67.9" y2="477.5" stroke="#000" stroke-width="3"/>
<line x1="142.3" y1="471.5" x2="142.3" y2="477.5" stroke="#000" stroke-width="3"/>
<line x1="216.8" y1="471.5" x2="216.8" y2="477.5" stroke="#000" stroke-width="3"/>
<line x1="291.3" y1="471.5" x2="291.3" y2="477.5" stroke="#000" stroke-width="3"/>
<line x1="365.8" y1="471.5" x2="365.8" y2="477.5" stroke="#000" stroke-width="3"/>
<line x1="440.3" y1="471.5" x2="440.3" y2="477.5" stroke="#000" stroke-width="3"/>
<line x1="514.8" y1="471.5" x2="514.8" y2="477.5" stroke="#000" stroke-width="3"/>
<line x1="589.3" y1="471.5" x2="589.3" y2="477.5" stroke="#000" stroke-width="3"/>
<text x="105.1" y="508" font-size="26" font-weight="normal" text-anchor="middle" fill="#000" font-family="'Liberation Sans', Arial, sans-serif">10</text>
<text x="179.6" y="508" font-size="26" font-weight="normal" text-anchor="middle" fill="#000" font-family="'Liberation Sans', Arial, sans-serif">20</text>
<text x="254.1" y="508" font-size="26" font-weight="normal" text-anchor="middle" fill="#000" font-family="'Liberation Sans', Arial, sans-serif">30</text>
<text x="328.6" y="508" font-size="26" font-weight="normal" text-anchor="middle" fill="#000" font-family="'Liberation Sans', Arial, sans-serif">40</text>
<text x="403.1" y="508" font-size="26" font-weight="normal" text-anchor="middle" fill="#000" font-family="'Liberation Sans', Arial, sans-serif">50</text>
<text x="477.5" y="508" font-size="26" font-weight="normal" text-anchor="middle" fill="#000" font-family="'Liberation Sans', Arial, sans-serif">60</text>
<text x="552" y="508" font-size="26" font-weight="normal" text-anchor="middle" fill="#000" font-family="'Liberation Sans', Arial, sans-serif">70</text>
<text x="626.5" y="508" font-size="26" font-weight="normal" text-anchor="middle" fill="#000" font-family="'Liberation Sans', Arial, sans-serif">80</text>
<text x="347.5" y="543.5" font-size="27.5" font-weight="bold" text-anchor="middle" fill="#000" font-family="'Liberation Sans', Arial, sans-serif">2Theta (°)</text>
<text x="53.3" y="228" font-size="28.2" font-weight="bold" text-anchor="middle" fill="#000" font-family="'Liberation Sans', Arial, sans-serif" transform="rotate(-90 53.3 228)">Intensity (a.u.)</text>
<text x="618" y="68" font-size="20" font-weight="bold" text-anchor="end" fill="#000" font-family="'Liberation Sans', Arial, sans-serif">12.5% MnO<tspan font-size="14.4" font-weight="normal">2</tspan><tspan font-weight="normal">@</tspan>GR</text>
<text x="618" y="124.8" font-size="20" font-weight="bold" text-anchor="end" fill="#000" font-family="'Liberation Sans', Arial, sans-serif">10.0% MnO<tspan font-size="14.4" font-weight="normal">2</tspan><tspan font-weight="normal">@</tspan>GR</text>
<text x="618" y="178.3" font-size="20" font-weight="bold" text-anchor="end" fill="#000" font-family="'Liberation Sans', Arial, sans-serif">7.50% MnO<tspan font-size="14.4" font-weight="normal">2</tspan><tspan font-weight="normal">@</tspan>GR</text>
<text x="618" y="227.8" font-size="20" font-weight="bold" text-anchor="end" fill="#000" font-family="'Liberation Sans', Arial, sans-serif">6.25% MnO<tspan font-size="14.4" font-weight="normal">2</tspan><tspan font-weight="normal">@</tspan>GR</text>
<text x="618" y="277.5" font-size="20" font-weight="bold" text-anchor="end" fill="#000" font-family="'Liberation Sans', Arial, sans-serif">5.00% MnO<tspan font-size="14.4" font-weight="normal">2</tspan><tspan font-weight="normal">@</tspan>GR</text>
<text x="618" y="343.2" font-size="20" font-weight="bold" text-anchor="end" fill="#000" font-family="'Liberation Sans', Arial, sans-serif">2.50% MnO<tspan font-size="14.4" font-weight="normal">2</tspan><tspan font-weight="normal">@</tspan>GR</text>
<text x="618" y="419.2" font-size="22" font-weight="bold" text-anchor="end" fill="#000" font-family="'Liberation Sans', Arial, sans-serif"><tspan font-family="'Liberation Serif', 'Times New Roman', serif" font-weight="normal">α</tspan>-MnO<tspan font-size="16.3">2</tspan></text>
<polygon points="279.9,17.5 284.6,23.4 279.9,29.2 275.2,23.4" fill="#000"/>
<text x="294.3" y="28.8" font-size="22" font-weight="bold" text-anchor="start" fill="#000" font-family="'Liberation Sans', Arial, sans-serif"><tspan font-family="'Liberation Serif', 'Times New Roman', serif" font-weight="normal">α</tspan>-MnO<tspan font-size="16.3">2</tspan></text>
<polygon points="394.2,17.5 398.9,23.4 394.2,29.2 389.5,23.4" fill="#22ee22"/>
<text x="407.7" y="28.8" font-size="22" font-weight="bold" text-anchor="start" fill="#000" font-family="'Liberation Sans', Arial, sans-serif"><tspan font-family="'Liberation Serif', 'Times New Roman', serif" font-weight="normal">β</tspan>-MnO<tspan font-size="16.3">2</tspan></text>
<polygon points="505.2,17.5 509.9,23.4 505.2,29.2 500.5,23.4" fill="#ff0000"/>
<text x="517.5" y="28.8" font-size="22" font-weight="bold" text-anchor="start" fill="#000" font-family="'Liberation Sans', Arial, sans-serif"><tspan font-family="'Liberation Serif', 'Times New Roman', serif" font-weight="normal">γ</tspan>-MnOOH</text>
<polyline points="735,132.9 736,135.8 737,135.2 738,136.5 739,139.6 740,138.3 741,140.4 742,139.5 743,139 744,140.9 745,142.8 746,136.9 747,141.1 748,140.2 749,141.4 750,140.6 751,138.3 751.5,140 752,138 753,134.4 754,128 755,114.2 756,102.5 757,90 757.8,85.2 758,86.4 759,90.2 759.5,96.3 760,105.6 761,117.1 762,124.4 762.5,124.6 763,127.4 764,131.1 765,132.5 766,136.8 767,143.5 768,146.2 769,149 770,150.5 771,149.6 772,150.1 773,150.6 774,153.9 775,152.3 776,152.3 777,154 778,154.8 779,155.5 780,153.3 781,156.9 782,154.5 783,155.7 784,155.6 785,154.5 786,156.1 787,156.1 788,157 789,157.9 790,155.2 791,157 792,156.8 793,155.7 794,154.4 795,153.7 796,155.6 797,156.1 798,156 799,157.2 800,156.4 801,160.3 802,160.2 803,160.3 804,163.4 805,166 806,162.5 807,162.7 808,160.3 809,159.4 810,156.8 811,155.1 812,151.8 813,147.3 814,140.3 815,137.8 816,132.5 816.5,130.2 817,129.7 818,130 818.1,128 819,129 820,134.7 821,139.6 822,146.7 823,150.2 824,154.8 825,155.3 826,158.1 827,161.4 827.3,162.2 828,160.5 829,161.3 830,156 831,159 832,156.6 833,160.2 834,158.5 835,153.9 836,156.6 837,154.2 838,152.8 839,152.4 840,152.8 841,150.6 842,149 843,147.5 844,145.8 845,145.5 846,141.5 847,141.2 848,141.5 849,139.4 850,140.1 851,138.7 852,138.7 853,137.5 854,138.1 855,137.6 856,138.8 857,138 858,137 859,139.6 860,140.4 860.5,140.4 861,143.3 862,146.1 862.6,148.2 863,145.7 864,142.6 864.5,141.6 865,140.4 866,131.4 866.5,128.6 867,122.5 868,107.3 868.5,101.1 869,93.6 870,78.2 870.5,69.3 871,62.4 872,45.5 872.5,42.6 873,36.5 874,30.8 874.8,29.9 875,28.8 876,33.1 876.5,35.3 877,44.5 878,56.7 879,73 880,87.9 881,102.8 881.5,103.5 882,107.4 883,112 884,97.7 885,95.6 885.5,92.5 886,90.9 887,84.7 887.5,80.7 888,78.7 889,72.4 890,69.4 890.9,69.4 891,69.9 892,71.2 892.5,73.7 893,77 894,88.1 895,95.7 896,104.7 897,113.7 898,120.7 899,126.9 900,132.4 901,133.1 902,138 903,141.7 904,144.9 905,145.2 906,149.5 907,153.7 907.5,153.2 908,154.5 909,155.2 910,157.9 911,157.7 912,157.9 913,159.1 914,161.1 915,160.6 916,158.8 917,158.7 918,162.1 919,159.8 920,162.1 921,161.4 922,162.9 923,162.3 924,160.9 925,165.7 926,164.7 927,165.2 928,167.8 929,167.6 930,169 931,168.6 932,170.2 933,171.9 934,172.1 935,175 936,170.9 937,176.6 938,178.1 939,180.9 940,180.9 941,182.4 942,183.1 943,183.3 944,180.5 945,184.8 946,185.6 947,184.3 948,184.5 949,186.4 950,184.3 951,187.2 952,186.7 953,187.7 954,186.3 955,186.7 956,187 957,181.2 958,186.1 959,188.5 960,186.7 961,186.6 962,188.2 963,189.4 964,187.9 965,187.8 965.3,188 966,188.5 967,186.4 968,188.5 969,188.6 970,189.3 971,189.3 972,188.9 973,190.4 974,188.2 975,188.1 976,190 977,188.3 978,187.6 979,187.6 980,188.2 981,186.7 982,189.3 983,188.6 984,189.7 985,187.1 986,187.9 987,187.6 988,188.8 989,188.7 990,189.1 991,189 992,187.1 993,188.6 994,188.4 995,188.3 996,188.8 997,186.2 998,187.5 999,188 1000,187.3 1001,187 1002,189.3 1003,189.2 1004,190.1 1005,184.2 1006,185.7 1007,188.9 1008,187.8 1009,187 1010,188.8 1011,188.1 1012,186.3 1013,188.3 1014,186.4 1015,188.7 1016,186.8 1017,186.5 1018,188.9 1019,189.1 1020,187.8 1021,186.8 1022,188.7 1023,188.2 1024,188.3 1025,187.6 1026,186.4 1027,187.5 1028,189.6 1029,187.3 1030,187.9 1031,188 1032,189 1033,188.3 1034,187.5 1035,190 1036,188.2 1037,188.3 1038,187.2 1039,186.3 1040,188.4 1041,187.6 1042,188.3 1043,185.5 1044,189.7 1045,187.8 1046,188.6 1047,186.5 1048,187.8 1049,187.7 1050,188.7 1051,188.3 1052,185.2 1053,187.5 1054,187.4 1055,186.8 1056,187.3 1057,187.7 1058,188 1059,185.6 1060,182.9 1061,186.8 1062,187.4 1063,185.6 1064,186.6 1065,185.2 1066,186.6 1067,186.3 1068,187 1069,188 1070,185.6 1071,186.9 1072,184.8 1073,186.8 1074,188.5 1075,184.9 1076,186 1077,183.2 1078,187.2 1079,189.1 1080,185.8 1081,187.2 1082,188.5 1083,186.2 1084,187.3 1085,186.3 1086,186.7 1087,187.3 1088,188.3 1089,187.7 1090,187.4 1091,187.4 1092,188.8 1093,188.2 1094,188.2 1095,185.8 1096,187.6 1097,186.8 1098,189.9 1099,188.8 1100,189.8 1101,187.4 1102,186.9 1103,187.9 1104,189.7 1105,188.6 1106,190.5 1107,191.5 1108,190 1109,191.8 1110,188.6 1111,190 1112,191.1 1113,191.8 1114,191 1115,192.6 1116,194.5 1117,194.7 1118,190.6 1119,193.5 1120,196.3 1121,195.7 1122,194 1123,196.4 1124,195.2 1125,196.3 1126,196.3 1127,196.7 1128,197.9 1129,199.1 1130,196.9 1131,196.8 1132,196.7 1133,197.4 1134,197.6 1135,195.7 1136,197.3 1137,199.8 1138,198.2 1139,198.6 1140,197.5 1141,200 1142,198.3 1143,197.4 1144,197 1145,198.4 1146,199.9 1147,197.2 1148,193.9 1149,195.5 1150,198.8 1151,196.8 1152,197.2 1153,196.8 1154,197 1155,198.8 1156,197.1 1157,198.1 1158,197 1159,197.4 1160,198.5 1161,198.4 1162,196.4 1163,197.7 1164,196.6 1165,198.3 1166,196.8 1167,196.3 1168,198.1 1169,196.3 1170,196.9 1171,197.3 1172,195.7 1173,195.8 1174,196.7 1175,198.5 1176,196.8 1177,197.4 1178,197.2 1179,197.7 1180,200.1 1181,198.2 1182,198.8 1183,201.6 1184,199.5 1185,199.3 1186,201.6 1187,202.5 1188,203.6 1189,204.3 1190,199.5 1191,201.9 1192,201.9 1193,202.7 1194,201.4 1195,202.5 1196,202.8 1197,202.8 1198,201.7 1199,202.9 1200,198.7 1201,201.8 1202,202.5 1203,203.7 1204,200.6 1205,202.8 1206,204.5 1207,203.1 1208,202.4 1209,203.3 1210,204.8 1211,202.9 1212,202.3 1213,204 1214,202.9 1215,202.4 1216,204.2 1217,202.4 1218,203 1219,204.8 1220,203.6 1221,204.8 1222,201.5 1223,201.8 1224,202.6 1225,203.4 1226,201.4 1227,203.8 1228,200 1229,203.1 1230,203.7 1231,203.4 1232,202.4 1233,203.5 1234,202.5 1235,205.3 1236,203.3 1237,203.6 1238,203.2 1239,204 1240,204.2 1241,203.9 1242,202.9 1243,205.4 1244,204.1 1245,202.1 1246,201.8 1247,203 1248,203 1249,202.5 1250,203.4 1251,204.9 1252,205.9 1253,204.8 1254,205 1255,206 1256,207.2 1257,206.1 1258,205.5 1259,204.8 1260,203.9 1261,205.5 1262,206.4 1263,205.5 1264,204.6 1265,205.9 1266,205.2 1267,204.7 1268,203.2 1269,206 1270,204.7 1271,206.8 1272,204.9 1273,205.7 1274,205 1275,207.7 1276,207.2 1277,205.8 1278,207.4 1279,204.5 1280,206.6 1281,205.3 1282,205.8 1283,205.5 1284,206.7 1285,204.1 1286,205.6 1287,207.7 1288,203.7 1289,206 1290,204.8 1291,203.4 1292,206.8 1293,205.9" fill="none" stroke="#ff0000" stroke-width="3.2" stroke-linejoin="round" stroke-linecap="round"/>
<polyline points="735,359.3 736,357.2 737,361.1 738,363.8 739,361.3 740,365.5 741,366.8 742,367.3 743,369.5 744,369.8 745,369.9 746,371.8 747,373.8 747.4,376 748,373.7 749,373.7 750,370.9 751,369.8 752,366.7 752.5,365.4 753,362.5 754,347.2 754.5,338.8 755,329.8 756,305.5 756.3,300.3 757,290.3 757.8,282.2 758,283.1 759,295.3 759.3,301.3 760,315.8 761,341.4 762,353.2 762.5,354.2 763,358.4 764,360.8 765,363 766,368.6 767,370.8 768,371.7 769,375 770,375.6 771,376.6 772,381.1 773,381.7 774,384.3 775,382.3 776,381.8 777,380.6 778,380.3 779,378.8 780,378.9 781,376.8 782,376.3 783,376.4 784,376.8 785,377 786,372.5 787,377.6 788,378.6 789,372.7 790,376.6 791,375.6 792,373.4 793,373.8 794,371.1 795,372.6 796,374.2 797,370.6 798,370.8 799,371.1 799.5,371.5 800,370.5 801,369.3 802,370 803,368 804,370.7 805,369 806,363.4 807,366.1 808,366 809,365.2 810,364.8 811,364.3 812,360.6 813,359.2 814,354.9 814.5,352 815,352.5 816,347.5 816.9,345.6 817,344.6 818,346.2 819,350.1 820,352.8 821,360.2 821.5,360.8 822,363.9 823,368.2 824,369.7 825,371.3 826,372.9 827,374.9 827.4,373.6 828,374.7 829,375.4 830,371.6 831,372.1 832,372.6 833,370.3 834,369.6 835,368.6 836,370.3 837,366.2 838,367.8 839,367.1 840,366.7 841,365.3 841.3,366 842,365 843,360.1 844,367.4 845,365.2 846,362.4 847,362.4 848,363.2 849,363.9 850,357.7 851,362.4 852,361.5 853,362.2 854,360 855,359.4 856,360.3 857,359.9 858,359.4 859,360.3 859.8,359.2 860,358.4 861,355.7 862,355.7 863,352.9 863.5,349.1 864,346.4 865,335.1 865.5,330.1 866,321.6 867,298.5 867.5,290 868,279.4 869,259.4 869.5,253.1 870,246.1 871,236 871.5,231.6 872,231.6 873,227.2 874,233.1 874.5,234.3 875,241.1 876,253.7 876.5,260.4 877,270.1 878,283.2 879,292.9 879.5,294.2 880,293.6 881,288 882,276.9 882.5,270.1 883,264.2 884,243.9 885,235.2 885.5,231 886,223.1 887,200.6 888,167.7 888.5,151.3 889,135.4 890,112.8 891,100.1 891.3,96.7 892,95.6 893,96 894,110.9 894.5,120.9 895,132 896,170.1 897,218.8 897.5,239.1 898,258.2 899,286.1 900,306.9 900.4,312.6 901,319.5 902,329 902.5,333.3 903,333.7 904,340.8 905,345.5 906,348.2 906.2,348.4 907,352.2 908,353.5 909,358.3 910,360.4 911,362 912,365.7 913,367.2 913.1,367.6 914,372 915,372.3 915.4,371.3 916,375.7 917,376.3 918,378.5 919,383 920,382.9 921,385.4 922,384.4 923,386.1 924,387.7 925,390.8 926,390.7 927,390.7 928,395.2 929,395.1 930,397.1 931,399 932,401.6 933,400.3 934,403.1 935,400.8 936,403.5 937,404.5 938,402.5 938.6,404.3 939,404.8 940,406.9 941,406.4 942,407 943,407.3 944,409 945,408.9 946,409.3 947,409.5 948,410.9 949,403.8 950,410.9 951,411.2 952,411.9 953,412.9 954,412.4 955,410.8 956,413.6 957,414 958,414.3 959,414 960,411.5 961,413.3 961.8,414.5 962,414.6 963,413.8 964,414.3 965,410.2 966,415.1 967,412.6 968,414.8 969,416.4 970,414.2 971,417.2 972,418.1 973,416.8 974,415.8 975,416.1 976,415.5 977,417.8 978,415.9 979,417.6 980,416.3 981,418.3 982,416.4 983,417.9 984,417.5 985,419.5 986,418.1 987,418.6 988,420.2 989,417.9 990,417.9 991,419.3 992,418.4 993,421.5 993.5,419.9 994,420.1 995,419.7 996,416.7 997,421.8 998,420.4 999,418.5 1000,419.7 1001,421.1 1002,422.6 1003,421.8 1004,422 1005,422.1 1006,420.8 1007,421.2 1008,422 1009,420.6 1010,422.1 1011,422.8 1012,419.4 1013,421.8 1014,421.7 1015,422.2 1016,424 1017,420.5 1018,424.2 1019,422.8 1020,424.8 1021,421.6 1022,422.4 1023,421.9 1024,422.6 1025,421.1 1026,421.2 1027,421.8 1028,422.7 1029,420.6 1030,421.6 1031,417.3 1032,422.3 1033,422.9 1034,420.3 1035,420.8 1036,421.5 1037,420.8 1038,423.4 1039,423.7 1040,422.7 1041,422.4 1042,420.6 1042.7,420.7 1043,422.3 1044,423.5 1045,421.5 1046,422.2 1047,423.8 1048,424 1049,421 1050,422.6 1051,423.2 1052,420.7 1053,422.1 1054,422.9 1055,419.3 1056,423.6 1057,422.7 1058,421.3 1059,422 1060,421.1 1061,422.1 1062,424.3 1063,424.1 1064,424.5 1065,425.5 1066,422.9 1067,423.7 1068,424.5 1069,426.4 1070,425 1071,424.6 1072,425.3 1073,424.1 1074,423 1075,425.9 1076,425 1077,426.2 1078,424.5 1079,425 1080,427.1 1081,426.7 1082,427.7 1083,426.2 1084,427.3 1085,428.2 1086,428.8 1087,428 1088,428.7 1089,428.5 1090,428.8 1091,429.2 1092,430.1 1093,428.5 1094,430.3 1095,429.5 1096,431.1 1097,431.1 1098,431.9 1099,431.8 1100,432.2 1101,431.2 1102,434.5 1103,431.8 1104,431.5 1105,434.2 1106,434.8 1107,434.3 1108,434.3 1109,433.6 1110,437.2 1111,433.5 1112,438.2 1113,434.1 1114,435 1115,436.1 1116,436.1 1117,437.4 1118,436.1 1119,436.9 1120,435.7 1121,439 1122,437.6 1123,437.3 1124,438.3 1125,439.5 1126,439.1 1127,438.1 1128,439.3 1129,439.7 1130,439.9 1131,439.3 1132,440.6 1132.5,438.7 1133,440.1 1134,434.3 1135,440.4 1136,439.9 1137,441.4 1138,440.4 1139,442.3 1140,440.1 1141,442.4 1142,440.5 1143,438.9 1144,440.6 1145,442.8 1146,442.2 1147,442.7 1148,441.8 1149,442.7 1150,441.4 1151,444.5 1152,444.4 1153,443.2 1154,442.2 1155,442.2 1156,443.7 1157,443.5 1158,442.2 1159,444.1 1160,444.3 1161,444 1162,440.9 1163,443.8 1164,443.7 1165,443.4 1166,443.1 1167,445.2 1168,442.2 1169,444.1 1170,445 1171,446.6 1172,443.8 1173,445.7 1174,445.7 1175,445.4 1176,446.5 1177,442.7 1178,445.6 1179,444.5 1180,445.2 1181,444.6 1182,443.9 1183,442.8 1184,445.3 1185,444.7 1186,443.5 1187,444.9 1188,443.8 1189,444.1 1190,445.3 1191,446 1192,443.1 1193,445.1 1194,445.9 1195,443.9 1196,445 1197,445.8 1198,446.5 1199,444.2 1200,443.7 1201,444.9 1202,445.1 1203,445.6 1204,445.8 1205,443.6 1206,446.6 1207,444 1208,446.3 1209,446.5 1210,446.5 1211,446.4 1212,446.5 1213,445.3 1214,445.3 1215,448.6 1216,448 1217,447.8 1218,444.3 1219,444.7 1220,448.6 1221,446.3 1222,446.6 1223,447.5 1224,446 1225,448.2 1226,444.1 1227,448.2 1228,447.5 1229,446 1230,447.9 1231,448.3 1232,448 1233,448.2 1234,446.9 1235,448.4 1236,448.5 1237,448.8 1238,448.1 1239,445.6 1240,448.1 1241,446.1 1242,446.7 1243,447.5 1244,447.9 1245,447.4 1246,448.1 1247,448.4 1248,448.1 1249,448 1250,448.4 1251,448.8 1252,447 1253,446.4 1254,449.3 1255,448.3 1256,445.6 1257,449.5 1258,449.6 1259,446.3 1260,447.1 1261,447.8 1262,447.1 1263,447.8 1264,448.5 1265,449.7 1266,445.8 1267,448.7 1268,449.9 1269,446 1270,449.1 1271,448.7 1272,448.2 1273,449.7 1274,450.4 1275,450.2 1276,451.3 1277,448.2 1278,446.8 1279,448.5 1280,449.3 1281,450.5 1282,449.8 1283,448.6 1284,450.8 1285,449.8 1286,449.6 1287,449.1 1288,449.9 1289,450.1 1290,449.5 1291,446.8 1292,448.5 1293,450" fill="none" stroke="#000" stroke-width="3.2" stroke-linejoin="round" stroke-linecap="round"/>
<rect x="804" y="3" width="112" height="468.3" fill="#088484" stroke="none" stroke-width="0" fill-opacity="0.17"/>
<line x1="1100.9" y1="160.4" x2="1100.9" y2="457" stroke="#1a8585" stroke-width="3" stroke-dasharray="7.5,6.8"/>
<line x1="1174.7" y1="164.7" x2="1174.7" y2="462" stroke="#1a8585" stroke-width="3" stroke-dasharray="7.5,6.8"/>
<text x="1155.5" y="116.6" font-size="22" font-weight="bold" text-anchor="middle" fill="#1a8585" font-family="'Liberation Sans', Arial, sans-serif">ultrathin graphene</text>
<text x="1100" y="149.7" font-size="21.5" font-weight="bold" text-anchor="middle" fill="#1a8585" font-family="'Liberation Sans', Arial, sans-serif">1347</text>
<text x="1173.7" y="156.1" font-size="21.5" font-weight="bold" text-anchor="middle" fill="#1a8585" font-family="'Liberation Sans', Arial, sans-serif">1610</text>
<text x="763" y="72.7" font-size="21" font-weight="bold" text-anchor="middle" fill="#ff1a1a" font-family="'Liberation Sans', Arial, sans-serif">175</text>
<text x="762.4" y="272.2" font-size="21" font-weight="bold" text-anchor="middle" fill="#000" font-family="'Liberation Sans', Arial, sans-serif">175</text>
<filter id="pw1" x="-15%" y="-15%" width="130%" height="130%" color-interpolation-filters="sRGB"><feTurbulence type="fractalNoise" baseFrequency="0.5" numOctaves="1" seed="14" result="e"/><feDisplacementMap in="SourceGraphic" in2="e" scale="5" xChannelSelector="R" yChannelSelector="G" result="sg"/><feTurbulence type="fractalNoise" baseFrequency="0.32" numOctaves="2" seed="3" result="t"/><feColorMatrix in="t" type="matrix" values="0 0 0 0 0.07  0 0 0 0 0.07  0 0 0 0 0.05  -2.6 0 0 0 1.0" result="d"/><feColorMatrix in="t" type="matrix" values="0 0 0 0 0.27  0 0 0 0 0.28  0 0 0 0 0.2  0 2.6 0 0 -1.42" result="l"/><feMerge result="m"><feMergeNode in="sg"/><feMergeNode in="d"/><feMergeNode in="l"/></feMerge><feComposite in="m" in2="sg" operator="in"/></filter>
<polygon points="980,95 990,94 997,97 1003,99 1007,104 1012,109 1016,114 1019,119 1021,125 1022,133 1021,141 1020,148 1017,154 1013,158 1006,162 998,163.5 993,166 988,164 984,162 978,160 972,157 968,152 965,146 962,139 961,131 962,124 963,117 965,110 967,104 972,100" fill="#24241a" filter="url(#pw1)"/>
<polygon points="965,157 970,156 972,160 968,162" fill="#4a4a3a"/>
<polygon points="983,160 987,159 988,165 984,165" fill="#3a3a2a"/>
<filter id="pw2" x="-15%" y="-15%" width="130%" height="130%" color-interpolation-filters="sRGB"><feTurbulence type="fractalNoise" baseFrequency="0.5" numOctaves="1" seed="18" result="e"/><feDisplacementMap in="SourceGraphic" in2="e" scale="5" xChannelSelector="R" yChannelSelector="G" result="sg"/><feTurbulence type="fractalNoise" baseFrequency="0.32" numOctaves="2" seed="7" result="t"/><feColorMatrix in="t" type="matrix" values="0 0 0 0 0.33  0 0 0 0 0.23  0 0 0 0 0.06  -3.2 0 0 0 1.5" result="d"/><feColorMatrix in="t" type="matrix" values="0 0 0 0 0.78  0 0 0 0 0.63  0 0 0 0 0.33  0 3.0 0 0 -1.62" result="l"/><feMerge result="m"><feMergeNode in="sg"/><feMergeNode in="d"/><feMergeNode in="l"/></feMerge><feComposite in="m" in2="sg" operator="in"/></filter>
<polygon points="975,334 980,336 993,339 1003,337 1010,338 1015,346 1020,352 1023,360 1023,370 1020,378 1016,385 1008,389 1000,391.5 988,390 978,389 968,386 963,380 963,370 965,362 958,356 962,351 960,348 969,345 972,340" fill="#9a7832" filter="url(#pw2)"/>
<polygon points="952,342 956,340 958,344 954,346" fill="#9a7632"/>
<line x1="1025.6" y1="20.3" x2="1081.2" y2="20.3" stroke="#ff1a1a" stroke-width="3.5"/>
<text x="1087.6" y="28.4" font-size="24" font-weight="bold" text-anchor="start" fill="#000" font-family="'Liberation Sans', Arial, sans-serif">7.50% MnO<tspan font-size="17.3" font-weight="normal">2</tspan><tspan font-weight="normal">@</tspan>GR</text>
<line x1="1025.6" y1="50.7" x2="1081.2" y2="50.7" stroke="#000" stroke-width="3.5"/>
<text x="1087.6" y="58.2" font-size="24" font-weight="bold" text-anchor="start" fill="#000" font-family="'Liberation Sans', Arial, sans-serif"><tspan font-family="'Liberation Serif', 'Times New Roman', serif" font-weight="normal">α</tspan>-MnO<tspan font-size="17.8">2</tspan></text>
<rect x="735" y="3" width="558.3" height="468.3" fill="none" stroke="#000" stroke-width="3"/>
<line x1="793.6" y1="471.3" x2="793.6" y2="481.3" stroke="#000" stroke-width="3"/>
<line x1="881.7" y1="471.3" x2="881.7" y2="481.3" stroke="#000" stroke-width="3"/>
<line x1="969.8" y1="471.3" x2="969.8" y2="481.3" stroke="#000" stroke-width="3"/>
<line x1="1057.9" y1="471.3" x2="1057.9" y2="481.3" stroke="#000" stroke-width="3"/>
<line x1="1146" y1="471.3" x2="1146" y2="481.3" stroke="#000" stroke-width="3"/>
<line x1="1234.1" y1="471.3" x2="1234.1" y2="481.3" stroke="#000" stroke-width="3"/>
<line x1="749.6" y1="471.3" x2="749.6" y2="477.3" stroke="#000" stroke-width="3"/>
<line x1="837.7" y1="471.3" x2="837.7" y2="477.3" stroke="#000" stroke-width="3"/>
<line x1="925.8" y1="471.3" x2="925.8" y2="477.3" stroke="#000" stroke-width="3"/>
<line x1="1013.9" y1="471.3" x2="1013.9" y2="477.3" stroke="#000" stroke-width="3"/>
<line x1="1102" y1="471.3" x2="1102" y2="477.3" stroke="#000" stroke-width="3"/>
<line x1="1190.1" y1="471.3" x2="1190.1" y2="477.3" stroke="#000" stroke-width="3"/>
<line x1="1278.2" y1="471.3" x2="1278.2" y2="477.3" stroke="#000" stroke-width="3"/>
<text x="793.6" y="507.8" font-size="26" font-weight="normal" text-anchor="middle" fill="#000" font-family="'Liberation Sans', Arial, sans-serif">300</text>
<text x="881.7" y="507.8" font-size="26" font-weight="normal" text-anchor="middle" fill="#000" font-family="'Liberation Sans', Arial, sans-serif">600</text>
<text x="969.8" y="507.8" font-size="26" font-weight="normal" text-anchor="middle" fill="#000" font-family="'Liberation Sans', Arial, sans-serif">900</text>
<text x="1057.9" y="507.8" font-size="26" font-weight="normal" text-anchor="middle" fill="#000" font-family="'Liberation Sans', Arial, sans-serif">1200</text>
<text x="1146" y="507.8" font-size="26" font-weight="normal" text-anchor="middle" fill="#000" font-family="'Liberation Sans', Arial, sans-serif">1500</text>
<text x="1234.1" y="507.8" font-size="26" font-weight="normal" text-anchor="middle" fill="#000" font-family="'Liberation Sans', Arial, sans-serif">1800</text>
<text x="1014" y="541.7" font-size="28" font-weight="bold" text-anchor="middle" fill="#000" font-family="'Liberation Sans', Arial, sans-serif">Raman Shift (cm<tspan font-size="16" font-weight="normal" dy="-14">-1</tspan><tspan dy="14">)</tspan></text>
<text x="712.3" y="237.5" font-size="28.2" font-weight="bold" text-anchor="middle" fill="#000" font-family="'Liberation Sans', Arial, sans-serif" transform="rotate(-90 712.3 237.5)">Intensity (a.u.)</text>
<polyline points="1415,180.6 1418.2,180.5 1420,180.6 1421.4,181.8 1424.6,180.8 1426.7,182 1427.8,181.2 1431,177.1 1432,174.6 1434.2,172.2 1436,174.6 1437.4,171.7 1440,172.8 1440.6,173.8 1443.8,169 1444.6,170.8 1447,167.2 1448,164.6 1450.2,163.8 1452,161.1 1453.4,156.8 1456,153.8 1456.6,150.5 1459.8,148.7 1460.2,148.7 1463,145 1464,146.2 1466.2,146.6 1469.4,141.7 1469.5,140.9 1472.6,141.6 1473,142.9 1475.8,144.8 1478,146.8 1479,151.2 1482,157.6 1482.2,155.9 1485,161.2 1485.4,163 1488.6,166.1 1489.1,166.4 1491.8,169.2 1495,169.1 1495,171.5 1498.2,174.2 1500,171.1 1501.4,170 1504.6,173.9 1504.7,173.6 1507.8,178.3 1508,180 1511,181.9 1511.4,183.8 1514.2,179.8 1516,178.2 1517.4,175.6 1520.6,181.5 1522.6,180.8 1523.8,180.7 1527,179.2 1528,181.6 1530.2,179.6 1533.4,177.3 1535,175 1536.6,176.6 1539.8,177.3 1543,179.6 1544.9,179.3 1546.2,179.2 1549.4,176.3 1552,178.6 1552.6,181.1 1555.8,174.1 1559,173.8 1560,175.2 1562.2,176.1 1565.4,174.3 1568.6,173.4 1571.8,174.6 1573.8,170.1 1575,168 1578.2,166.9 1580,169.3 1581.4,168.7 1584.6,164.4 1587.8,161 1589.4,161.4 1591,163.1 1594.2,163.6 1595,161.1 1597.4,159.1 1600.6,156.8 1600.6,157.3 1603.8,159.4 1607,159.1 1608,159.5 1610.2,159.8 1613.4,161.3 1616.2,159.6 1616.6,159.9 1619.8,161.7 1623,161.1 1625,161.6 1626.2,159.6 1629.4,157.4 1632.6,157.3 1635,156.6 1635.8,157.6 1639,155.8 1642.2,156.3 1645.2,155.7 1645.4,155.7 1648.6,155.2 1651.8,152.2 1655,154.8 1655,155.6 1658.2,153.3 1661.4,153.3 1664.6,150.8 1665,149.3 1667.8,151.8 1671,152.6 1671.9,152.7 1674.2,155.7 1677.4,152.3 1680,155.7 1680.6,153.3 1683.8,152.6 1687,157.9 1690,158.4 1690.2,158.7 1693.4,160.4 1696.6,163.4 1698,162.9 1699.8,162.6 1703,163.8 1704.5,164.8 1706.2,163.1 1709.4,163.2 1712,158.3 1712.6,160.9 1715.8,159.6 1719,159 1720,155.7 1722.2,155.8 1725.4,154.9 1728.6,156.3 1731.8,149.5 1732.4,149.5 1735,143.5 1737,143.6 1738.2,138 1741.4,132.4 1742.4,131 1744.6,123.1 1747.8,113.6 1750,107.8 1751,104.3 1754.2,98.6 1757.4,86.5 1758,88.3 1760.6,71.1 1763.8,50.1 1764,50.5 1767,36.5 1770.2,23.8 1771.4,23.2 1773.4,22.2 1776.6,21.4 1777,22.4 1779.8,31.3 1781,31.6 1783,36.9 1785.9,42.5 1786.2,44.8 1789.4,59.7 1790,61.7 1792.6,80.9 1793.7,86.3 1795.8,90.4 1799,98 1799,99.1 1802.2,106.5 1804.8,110 1805.4,108.3 1808.6,115 1809,113.2 1811.8,114.8 1813.7,113.9 1815,116.8 1818,113 1818.2,113.4 1821.4,114.6 1824.6,121.5 1824.9,122.1 1827.8,111.6 1828,111.1 1831,95.6 1831.1,97.4 1833,102.9 1834.2,105.7 1836,108.2 1837.4,104 1840,96.8 1840.6,101.8 1843.8,91.5 1844.9,91.7 1847,91.2 1849,87.1 1850.2,87.4 1853.4,76.4 1853.8,79.3 1856.6,80 1858,82.3 1859.8,79.7 1863,71.3 1864.5,72.6 1866.2,72.3 1868,71.2 1869.4,73.4 1871.7,78.5 1872.6,78.2 1875,82.6 1875.8,84.3 1878.4,86.1 1879,85 1880,86.5 1882.2,94 1883,97.5 1885.4,98 1887.3,100.8 1888.6,103.8 1890,104.2 1891.8,107.4 1895,116.2 1895,117.5 1898.2,124.3 1901.4,136 1902.9,137 1904.6,136.1 1907.8,141.6 1908,138.4 1911,143.9 1914.2,146.5 1916.2,146.4 1917.4,148.8 1920,143.5 1920.6,145.7 1923.8,153.1 1925.2,153.3 1927,154.8 1930.2,158.6 1933.4,159.8 1935,158.4 1936.6,161.2 1939.8,161.8 1942,163 1943,162.3 1946.2,166.5 1947.4,169.1 1949.4,170.3 1952.6,173.6 1953,173.1 1955.8,175.1 1958,175.8 1959,171.5 1962,175.5 1962.2,177 1965.4,174.8 1966,172.4 1968.6,168.6 1969.7,170.5 1971.8,174.2 1975,177.8 1975,178.3" fill="none" stroke="#ff0000" stroke-width="3.0" stroke-linejoin="round" stroke-linecap="round"/>
<polyline points="1415,428.7 1418.2,428 1421.4,432.8 1423.4,434 1424.6,432.5 1427.8,427.6 1427.9,426.9 1431,427 1434.2,426.6 1435.7,427.9 1437.4,426 1440.6,422.9 1443.8,417.1 1444.6,415.4 1447,412.8 1450,410.3 1450.2,408.2 1453.4,407.3 1455.7,405.4 1456.6,406 1459.8,404.7 1463,404.9 1466.2,405.4 1466.9,405.3 1469.4,406.9 1472,411.7 1472.6,412.7 1475.8,421.3 1475.8,420.8 1479,423.2 1482,424.7 1482.2,428.3 1485.4,429.2 1488.6,433.6 1489.1,432.7 1491.8,435.3 1495,437.9 1495,435.1 1498.2,438.6 1501.4,440.4 1502.5,442 1504.6,440.9 1507.8,441 1510,440.9 1511,438.3 1514.2,442.1 1517.4,442.6 1518,439 1520.6,442.1 1523.8,442.5 1525.9,445.1 1527,442.2 1530.2,442.2 1532,442.1 1533.4,437.9 1535.5,432.6 1536.6,432 1538.2,431.1 1539.8,434.8 1541,435.9 1543,442.8 1544.9,442.8 1546.2,441.7 1549.4,438.8 1552,441.8 1552.6,442.1 1555.8,440.3 1559,440.6 1560,440.6 1562.2,439.3 1565.4,439 1568,439.5 1568.6,441.1 1571.8,438.4 1575,436.7 1576.1,438.9 1578.2,437.6 1581,434.2 1581.4,434.1 1584.6,427.1 1587.2,425.2 1587.8,426 1591,428.4 1593,430.1 1594.2,430.3 1597.4,429.2 1600.6,428.5 1600.6,427.3 1603.8,429 1607,429.2 1610,431.3 1610.2,432.9 1613.4,432.5 1616.6,429.4 1619.8,431.9 1620,426.9 1623,431.9 1626.2,433.1 1629.4,435 1632.6,436.9 1632.9,435.8 1635.8,437.5 1639,430.2 1640,429.8 1642.2,430.1 1645.4,426.4 1648.6,428.4 1650,426.2 1651.8,429.4 1655,424.7 1658.2,424 1658.5,421.6 1661.4,427.6 1664.6,423.7 1665,424.1 1667.8,424.8 1671,422 1672,423.3 1674.2,425.7 1677.4,430.8 1678.6,431.2 1680.6,425.3 1683.8,419.1 1684.5,420.5 1687,423.6 1690,424 1690.2,424.8 1693.4,422 1696.6,418.7 1696.7,418.1 1699.8,420.3 1703,416.8 1703,418.8 1706.2,417.1 1709,420.2 1709.4,417 1712.6,407.8 1715.7,406.1 1715.8,402.1 1719,402.7 1722.2,396.1 1724.6,389.9 1725.4,390.1 1728.6,385.6 1731.8,381 1732.4,377.4 1735,366.7 1738.2,348.3 1739,345.3 1741.4,336.6 1744.6,330.1 1746.9,323.3 1747.8,319.9 1751,302.2 1753.5,293.2 1754.2,291.5 1757.4,288.1 1760.2,282.6 1760.6,281.6 1763.8,267.8 1765.8,263.5 1767,267.5 1769.1,276.4 1770.2,281.4 1773.4,284.1 1774.7,285.1 1776.6,292.7 1779.8,306.5 1780.3,309.2 1783,317 1786.2,325.3 1787,328 1789.4,335 1792.6,339.6 1793.7,342.4 1795.8,343.7 1797,341.6 1799,343.1 1802.2,341.2 1802.6,343.7 1805.4,341.1 1808.6,333.9 1809.3,337 1811.8,335.2 1815,330.7 1816,327.5 1818.2,321.8 1820.4,314.8 1821.4,315.1 1824.6,311.4 1826,310 1827.8,295.9 1828.2,293.7 1830.4,267.5 1831,268.4 1833.3,282.3 1834.2,279.8 1837.4,263.6 1839.3,257.7 1840.6,255.3 1843.8,248.9 1844.9,246.5 1847,238.3 1848.3,228.9 1850.2,209.6 1851,199.5 1853.4,180.6 1856,163.7 1856.6,160.5 1859.8,134.1 1860,130.7 1863,113.4 1865,107.6 1866.2,106.1 1868.3,102.7 1869.4,103.8 1872,110.8 1872.6,107.4 1875.8,113.4 1878.4,121.3 1879,123.5 1882.2,139.4 1885,157.1 1885.4,158.3 1888.6,181.3 1890,190.2 1891.8,205.2 1895,227.5 1895,228.7 1898.2,244.3 1899.5,253.2 1901.4,272 1904,299.8 1904.6,303.2 1907.8,318.1 1910,319.8 1911,325.2 1914.2,333.2 1916.2,341.2 1917.4,344.8 1920,354.5 1920.6,358.5 1923.8,370.7 1925.2,372.1 1927,373.5 1930,378.2 1930.2,380.3 1933.4,381.5 1936.3,386.2 1936.6,388.1 1939.8,397 1943,409.1 1943,405.8 1946.2,407 1948,410.3 1949.4,412.3 1952.6,410.8 1954.1,414.5 1955.8,417.8 1958,418.3 1959,422.3 1962.2,423.5 1963,426.9 1965.4,421.7 1968.6,417.4 1969.7,417.3 1971.8,422.3 1975,427.6 1975,429.2" fill="none" stroke="#000" stroke-width="3.0" stroke-linejoin="round" stroke-linecap="round"/>
<line x1="1467.3" y1="212" x2="1460.2" y2="369.3" stroke="#ff0000" stroke-width="3.5" stroke-dasharray="7.8,6.5"/>
<polygon points="1469.5,192.8 1475.8,211.7 1463.3,211.7" fill="#ff0000"/>
<line x1="1774.6" y1="94" x2="1765.8" y2="250" stroke="#ff0000" stroke-width="3.5" stroke-dasharray="7.8,6.5"/>
<polygon points="1775.2,74.7 1781.4,93.6 1769.0,93.6" fill="#ff0000"/>
<text x="1472.4" y="128.1" font-size="23" font-weight="bold" text-anchor="middle" fill="#ff0000" font-family="'Liberation Sans', Arial, sans-serif">384</text>
<text x="1735" y="39" font-size="23" font-weight="bold" text-anchor="middle" fill="#ff0000" font-family="'Liberation Sans', Arial, sans-serif">574</text>
<text x="1860" y="59" font-size="23" font-weight="bold" text-anchor="middle" fill="#ff0000" font-family="'Liberation Sans', Arial, sans-serif">631</text>
<text x="1830.5" y="157.1" font-size="23" font-weight="bold" text-anchor="middle" fill="#000" font-family="'Liberation Sans', Arial, sans-serif">633</text>
<text x="1738" y="263.4" font-size="23" font-weight="bold" text-anchor="middle" fill="#000" font-family="'Liberation Sans', Arial, sans-serif">569</text>
<text x="1481.5" y="390.5" font-size="23" font-weight="bold" text-anchor="middle" fill="#000" font-family="'Liberation Sans', Arial, sans-serif">377</text>
<line x1="1427.9" y1="23" x2="1484.2" y2="23" stroke="#ff0000" stroke-width="3.5"/>
<text x="1490.3" y="31.6" font-size="24" font-weight="bold" text-anchor="start" fill="#000" font-family="'Liberation Sans', Arial, sans-serif">7.50% MnO<tspan font-size="17.3" font-weight="normal">2</tspan><tspan font-weight="normal">@</tspan>GR</text>
<line x1="1427.9" y1="53.5" x2="1484.2" y2="53.5" stroke="#000" stroke-width="3.5"/>
<text x="1490.3" y="61.3" font-size="24" font-weight="bold" text-anchor="start" fill="#000" font-family="'Liberation Sans', Arial, sans-serif"><tspan font-family="'Liberation Serif', 'Times New Roman', serif" font-weight="normal">α</tspan>-MnO<tspan font-size="17.8">2</tspan></text>
<rect x="1415" y="1.5" width="560" height="469.2" fill="none" stroke="#000" stroke-width="3"/>
<line x1="1415" y1="470.7" x2="1415" y2="480.7" stroke="#000" stroke-width="3"/>
<line x1="1494.8" y1="470.7" x2="1494.8" y2="480.7" stroke="#000" stroke-width="3"/>
<line x1="1574.7" y1="470.7" x2="1574.7" y2="480.7" stroke="#000" stroke-width="3"/>
<line x1="1654.5" y1="470.7" x2="1654.5" y2="480.7" stroke="#000" stroke-width="3"/>
<line x1="1734.4" y1="470.7" x2="1734.4" y2="480.7" stroke="#000" stroke-width="3"/>
<line x1="1814.2" y1="470.7" x2="1814.2" y2="480.7" stroke="#000" stroke-width="3"/>
<line x1="1894.1" y1="470.7" x2="1894.1" y2="480.7" stroke="#000" stroke-width="3"/>
<line x1="1974" y1="470.7" x2="1974" y2="480.7" stroke="#000" stroke-width="3"/>
<line x1="1454.9" y1="470.7" x2="1454.9" y2="476.7" stroke="#000" stroke-width="3"/>
<line x1="1534.8" y1="470.7" x2="1534.8" y2="476.7" stroke="#000" stroke-width="3"/>
<line x1="1614.6" y1="470.7" x2="1614.6" y2="476.7" stroke="#000" stroke-width="3"/>
<line x1="1694.5" y1="470.7" x2="1694.5" y2="476.7" stroke="#000" stroke-width="3"/>
<line x1="1774.3" y1="470.7" x2="1774.3" y2="476.7" stroke="#000" stroke-width="3"/>
<line x1="1854.2" y1="470.7" x2="1854.2" y2="476.7" stroke="#000" stroke-width="3"/>
<line x1="1934" y1="470.7" x2="1934" y2="476.7" stroke="#000" stroke-width="3"/>
<text x="1415" y="507.8" font-size="26" font-weight="normal" text-anchor="middle" fill="#000" font-family="'Liberation Sans', Arial, sans-serif">350</text>
<text x="1494.8" y="507.8" font-size="26" font-weight="normal" text-anchor="middle" fill="#000" font-family="'Liberation Sans', Arial, sans-serif">400</text>
<text x="1574.7" y="507.8" font-size="26" font-weight="normal" text-anchor="middle" fill="#000" font-family="'Liberation Sans', Arial, sans-serif">450</text>
<text x="1654.5" y="507.8" font-size="26" font-weight="normal" text-anchor="middle" fill="#000" font-family="'Liberation Sans', Arial, sans-serif">500</text>
<text x="1734.4" y="507.8" font-size="26" font-weight="normal" text-anchor="middle" fill="#000" font-family="'Liberation Sans', Arial, sans-serif">550</text>
<text x="1814.2" y="507.8" font-size="26" font-weight="normal" text-anchor="middle" fill="#000" font-family="'Liberation Sans', Arial, sans-serif">600</text>
<text x="1894.1" y="507.8" font-size="26" font-weight="normal" text-anchor="middle" fill="#000" font-family="'Liberation Sans', Arial, sans-serif">650</text>
<text x="1974" y="507.8" font-size="26" font-weight="normal" text-anchor="middle" fill="#000" font-family="'Liberation Sans', Arial, sans-serif">700</text>
<text x="1695" y="541.7" font-size="28" font-weight="bold" text-anchor="middle" fill="#000" font-family="'Liberation Sans', Arial, sans-serif">Raman Shift (cm<tspan font-size="16" font-weight="normal" dy="-14">-1</tspan><tspan dy="14">)</tspan></text>
<text x="1394" y="245.6" font-size="28.3" font-weight="bold" text-anchor="middle" fill="#000" font-family="'Liberation Sans', Arial, sans-serif" transform="rotate(-90 1394 245.6)">Intensity (a.u.)</text>
<polyline points="67,762.3 68,762.4 69,762.4 70,762.5 71,762.6 72,762.6 73,762.7 74,762.8 75,762.8 76,762.9 77,763 78,763 79,763.1 80,763.2 81,763.2 82,763.3 83,763.4 84,763.4 85,763.5 86,763.6 87,763.6 88,763.7 89,763.8 90,763.8 91,763.9 92,764 93,764 94,764.1 95,764.2 96,764.2 97,764.3 98,764.4 99,764.4 100,764.5 101,764.6 102,764.6 103,764.7 104,764.8 105,764.8 106,764.9 107,765 108,765 109,765.1 110,765.2 111,765.2 112,765.3 113,765.4 114,765.4 115,765.5 116,765.6 117,765.6 118,765.7 119,765.8 120,765.8 121,765.9 122,766 123,766 124,766.1 125,766.2 126,766.2 127,766.3 128,766.4 129,766.4 130,766.5 131,766.6 132,766.6 133,766.7 134,766.8 135,766.8 136,766.9 137,767 138,767 139,767.1 140,767.1 141,767.2 142,767.3 143,767.3 144,767.4 145,767.5 146,767.5 147,767.6 148,767.7 149,767.7 150,767.8 151,767.9 152,767.9 153,768 154,768.1 155,768.1 156,768.2 157,768.3 158,768.3 159,768.4 160,768.4 161,768.5 162,768.6 163,768.6 164,768.7 165,768.8 166,768.8 167,768.9 168,768.9 169,769 170,769.1 171,769.1 172,769.2 173,769.3 174,769.3 175,769.4 176,769.4 177,769.5 178,769.6 179,769.6 180,769.7 181,769.8 182,769.8 183,769.9 184,769.9 185,770 186,770.1 187,770.1 188,770.2 189,770.2 190,770.3 191,770.4 192,770.4 193,770.5 194,770.6 195,770.6 196,770.7 197,770.7 198,770.8 199,770.9 200,770.9 201,771 202,771.1 203,771.1 204,771.2 205,771.2 206,771.3 207,771.4 208,771.4 209,771.5 210,771.6 211,771.6 212,771.7 213,771.7 214,771.8 215,771.9 216,771.9 217,772 218,772.1 219,772.1 220,772.2 221,772.3 222,772.3 223,772.4 224,772.4 225,772.5 226,772.6 227,772.6 228,772.7 229,772.8 230,772.8 231,772.9 232,773 233,773 234,773.1 235,773.2 236,773.2 237,773.3 238,773.4 239,773.4 240,773.5 241,773.6 242,773.6 243,773.7 244,773.8 245,773.8 246,773.9 247,774 248,774.1 249,774.1 250,774.2 251,774.3 252,774.3 253,774.4 254,774.5 255,774.6 256,774.6 257,774.7 258,774.8 259,774.9 260,774.9 261,775 262,775.1 263,775.1 264,775.2 265,775.3 266,775.4 267,775.4 268,775.5 269,775.6 270,775.7 271,775.8 272,775.8 273,775.9 274,776 275,776.1 276,776.1 277,776.2 278,776.3 279,776.4 280,776.5 281,776.5 282,776.6 283,776.7 284,776.8 285,776.8 286,776.9 287,777 288,777.1 289,777.2 290,777.2 291,777.3 292,777.4 293,777.5 294,777.6 295,777.6 296,777.7 297,777.8 298,777.9 299,778 300,778.1 301,778.1 302,778.2 303,778.3 304,778.4 305,778.5 306,778.5 307,778.6 308,778.7 309,778.8 310,778.9 311,778.9 312,779 313,779.1 314,779.2 315,779.3 316,779.4 317,779.4 318,779.5 319,779.6 320,779.7 321,779.8 322,779.8 323,779.9 324,780 325,780.1 326,780.2 327,780.3 328,780.3 329,780.4 330,780.5 331,780.6 332,780.7 333,780.7 334,780.8 335,780.9 336,781 337,781.1 338,781.2 339,781.3 340,781.3 341,781.4 342,781.5 343,781.6 344,781.7 345,781.8 346,781.9 347,781.9 348,782 349,782.1 350,782.2 351,782.3 352,782.4 353,782.4 354,782.5 355,782.6 356,782.7 357,782.8 358,782.8 359,782.9 360,783 361,783.1 362,783.2 363,783.2 364,783.3 365,783.4 366,783.5 367,783.5 368,783.6 369,783.7 370,783.7 371,783.8 372,783.9 373,784 374,784 375,784.1 376,784.2 377,784.2 378,784.3 379,784.4 380,784.4 381,784.5 382,784.6 383,784.7 384,784.7 385,784.8 386,784.9 387,784.9 388,785 389,785.1 390,785.1 391,785.2 392,785.3 393,785.3 394,785.4 395,785.5 396,785.5 397,785.6 398,785.7 399,785.7 400,785.8 401,785.9 402,785.9 403,786 404,786 405,786.1 406,786.2 407,786.2 408,786.3 409,786.4 410,786.4 411,786.5 412,786.6 413,786.6 414,786.7 415,786.8 416,786.8 417,786.9 418,787 419,787 420,787.1 421,787.2 422,787.2 423,787.3 424,787.4 425,787.4 426,787.5 427,787.6 428,787.7 429,787.7 430,787.8 431,787.9 432,787.9 433,788 434,788.1 435,788.1 436,788.2 437,788.3 438,788.4 439,788.4 440,788.5 441,788.6 442,788.6 443,788.7 444,788.8 445,788.9 446,788.9 447,789 448,789.1 449,789.2 450,789.2 451,789.3 452,789.4 453,789.5 454,789.6 455,789.6 456,789.7 457,789.8 458,789.9 459,790 460,790 461,790.1 462,790.2 463,790.3 464,790.4 465,790.4 466,790.5 467,790.6 468,790.7 469,790.8 470,790.8 471,790.9 472,791 473,791.1 474,791.2 475,791.2 476,791.3 477,791.4 478,791.5 479,791.6 480,791.7 481,791.7 482,791.8 483,791.9 484,792 485,792.1 486,792.1 487,792.2 488,792.3 489,792.4 490,792.5 491,792.6 492,792.6 493,792.7 494,792.8 495,792.9 496,793 497,793 498,793.1 499,793.2 500,793.3 501,793.4 502,793.4 503,793.5 504,793.6 505,793.7 506,793.7 507,793.8 508,793.9 509,794 510,794.1 511,794.1 512,794.2 513,794.3 514,794.4 515,794.4 516,794.5 517,794.6 518,794.7 519,794.7 520,794.8 521,794.9 522,794.9 523,795 524,795.1 525,795.2 526,795.2 527,795.3 528,795.4 529,795.4 530,795.5 531,795.6 532,795.6 533,795.7 534,795.8 535,795.8 536,795.9 537,796 538,796 539,796.1 540,796.2 541,796.2 542,796.3 543,796.4 544,796.4 545,796.5 546,796.6 547,796.6 548,796.7 549,796.8 550,796.8 551,796.9 552,796.9 553,797 554,797.1 555,797.1 556,797.2 557,797.3 558,797.3 559,797.4 560,797.5 561,797.5 562,797.6 563,797.6 564,797.7 565,797.8 566,797.8 567,797.9 568,798 569,798 570,798.1 571,798.1 572,798.2 573,798.3 574,798.3 575,798.4 576,798.4 577,798.5 578,798.6 579,798.6 580,798.7 581,798.7 582,798.8 583,798.9 584,798.9 585,799 586,799 587,799.1 588,799.1 589,799.2 590,799.3 591,799.3 592,799.4 593,799.4 594,799.5 595,799.5 596,799.6 597,799.7 598,799.7 599,799.8 600,799.8 601,799.9 602,799.9 603,800 604,800 605,800.1 606,800.2 607,800.2 608,800.3 609,800.3 610,800.4 611,800.4 612,800.5 613,800.5 614,800.6 615,800.6 616,800.7 617,800.7 618,800.8 619,800.8 620,800.9 621,800.9 622,801 623,801 624,801.1 625,801.2 626,801.2 627,801.3 628,801.3" fill="none" stroke="#7a7a7a" stroke-width="2.4" stroke-linejoin="round" stroke-linecap="round"/>
<polyline points="67,759.3 68,759.3 69,759.3 70,759.4 71,759.4 72,759.4 73,759.5 74,759.5 75,759.5 76,759.5 77,759.6 78,759.6 79,759.6 80,759.6 81,759.7 82,759.7 83,759.7 84,759.7 85,759.7 86,759.7 87,759.8 88,759.8 89,759.8 90,759.8 91,759.8 92,759.8 93,759.8 94,759.8 95,759.8 96,759.8 97,759.8 98,759.8 99,759.8 100,759.8 101,759.8 102,759.8 103,759.7 104,759.7 105,759.7 106,759.7 107,759.7 108,759.6 109,759.6 110,759.6 111,759.5 112,759.5 113,759.4 114,759.4 115,759.3 116,759.3 117,759.2 118,759.2 119,759.1 120,759 121,759 122,758.9 123,758.8 124,758.7 125,758.6 126,758.6 127,758.5 128,758.4 129,758.3 130,758.1 131,758 132,757.9 133,757.8 134,757.6 135,757.5 136,757.4 137,757.2 138,757.1 139,756.9 140,756.7 141,756.6 142,756.4 143,756.2 144,756 145,755.8 146,755.6 147,755.4 148,755.2 149,755 150,754.8 151,754.5 152,754.3 153,754 154,753.8 155,753.5 156,753.2 157,753 158,752.7 159,752.4 160,752.1 161,751.8 162,751.4 163,751.1 164,750.8 165,750.4 166,750.1 167,749.7 168,749.4 169,749 170,748.6 171,748.2 172,747.8 173,747.4 174,747 175,746.6 176,746.2 177,745.7 178,745.3 179,744.8 180,744.4 181,743.9 182,743.4 183,743 184,742.5 185,742 186,741.5 187,741 188,740.5 189,739.9 190,739.4 191,738.9 192,738.3 193,737.8 194,737.2 195,736.7 196,736.1 197,735.6 198,735 199,734.4 200,733.9 201,733.3 202,732.7 203,732.1 204,731.5 205,730.9 206,730.3 207,729.8 208,729.2 209,728.6 210,728 211,727.4 212,726.8 213,726.2 214,725.6 215,725 216,724.5 217,723.9 218,723.3 219,722.8 220,722.2 221,721.6 222,721.1 223,720.6 224,720 225,719.5 226,719 227,718.5 228,718 229,717.5 230,717.1 231,716.6 232,716.2 233,715.8 234,715.3 235,715 236,714.6 237,714.2 238,713.9 239,713.6 240,713.3 241,713 242,712.7 243,712.5 244,712.3 245,712.1 246,711.9 247,711.8 248,711.7 249,711.6 250,711.5 251,711.5 252,711.5 253,711.5 254,711.5 255,711.6 256,711.6 257,711.8 258,711.9 259,712.1 260,712.2 261,712.5 262,712.7 263,713 264,713.2 265,713.6 266,713.9 267,714.2 268,714.6 269,715 270,715.4 271,715.9 272,716.4 273,716.8 274,717.3 275,717.9 276,718.4 277,718.9 278,719.5 279,720.1 280,720.7 281,721.3 282,721.9 283,722.5 284,723.2 285,723.8 286,724.5 287,725.2 288,725.9 289,726.6 290,727.3 291,728 292,728.7 293,729.4 294,730.1 295,730.8 296,731.6 297,732.3 298,733 299,733.7 300,734.5 301,735.2 302,736 303,736.7 304,737.4 305,738.2 306,738.9 307,739.6 308,740.3 309,741.1 310,741.8 311,742.5 312,743.2 313,743.9 314,744.6 315,745.3 316,746 317,746.7 318,747.4 319,748.1 320,748.8 321,749.4 322,750.1 323,750.8 324,751.4 325,752.1 326,752.7 327,753.3 328,754 329,754.6 330,755.2 331,755.8 332,756.4 333,757 334,757.5 335,758.1 336,758.7 337,759.2 338,759.8 339,760.3 340,760.9 341,761.4 342,761.9 343,762.4 344,763 345,763.4 346,763.9 347,764.4 348,764.9 349,765.4 350,765.8 351,766.3 352,766.7 353,767.1 354,767.6 355,768 356,768.4 357,768.8 358,769.2 359,769.6 360,770 361,770.3 362,770.7 363,771 364,771.4 365,771.7 366,772.1 367,772.4 368,772.7 369,773 370,773.3 371,773.6 372,773.9 373,774.2 374,774.5 375,774.8 376,775.1 377,775.3 378,775.6 379,775.8 380,776.1 381,776.3 382,776.6 383,776.8 384,777 385,777.3 386,777.5 387,777.7 388,777.9 389,778.1 390,778.3 391,778.5 392,778.7 393,778.9 394,779.1 395,779.3 396,779.5 397,779.7 398,779.8 399,780 400,780.2 401,780.3 402,780.5 403,780.7 404,780.8 405,781 406,781.1 407,781.3 408,781.4 409,781.6 410,781.7 411,781.9 412,782 413,782.1 414,782.3 415,782.4 416,782.5 417,782.7 418,782.8 419,782.9 420,783.1 421,783.2 422,783.3 423,783.4 424,783.5 425,783.7 426,783.8 427,783.9 428,784 429,784.1 430,784.3 431,784.4 432,784.5 433,784.6 434,784.7 435,784.8 436,784.9 437,785 438,785.1 439,785.3 440,785.4 441,785.5 442,785.6 443,785.7 444,785.8 445,785.9 446,786 447,786.1 448,786.2 449,786.3 450,786.4 451,786.5 452,786.6 453,786.8 454,786.9 455,787 456,787.1 457,787.2 458,787.3 459,787.4 460,787.5 461,787.6 462,787.7 463,787.8 464,787.9 465,788 466,788.1 467,788.2 468,788.3 469,788.4 470,788.5 471,788.6 472,788.7 473,788.8 474,788.9 475,789 476,789.1 477,789.2 478,789.3 479,789.4 480,789.5 481,789.6 482,789.7 483,789.8 484,789.9 485,790 486,790.1 487,790.2 488,790.3 489,790.4 490,790.5 491,790.6 492,790.7 493,790.8 494,790.9 495,791 496,791.1 497,791.2 498,791.3 499,791.4 500,791.5 501,791.6 502,791.6 503,791.7 504,791.8 505,791.9 506,792 507,792.1 508,792.2 509,792.3 510,792.4 511,792.5 512,792.6 513,792.6 514,792.7 515,792.8 516,792.9 517,793 518,793.1 519,793.2 520,793.2 521,793.3 522,793.4 523,793.5 524,793.6 525,793.6 526,793.7 527,793.8 528,793.9 529,794 530,794 531,794.1 532,794.2 533,794.3 534,794.4 535,794.4 536,794.5 537,794.6 538,794.7 539,794.7 540,794.8 541,794.9 542,795 543,795 544,795.1 545,795.2 546,795.3 547,795.3 548,795.4 549,795.5 550,795.5 551,795.6 552,795.7 553,795.8 554,795.8 555,795.9 556,796 557,796 558,796.1 559,796.2 560,796.3 561,796.3 562,796.4 563,796.5 564,796.5 565,796.6 566,796.7 567,796.7 568,796.8 569,796.9 570,797 571,797 572,797.1 573,797.2 574,797.2 575,797.3 576,797.4 577,797.4 578,797.5 579,797.6 580,797.6 581,797.7 582,797.8 583,797.8 584,797.9 585,797.9 586,798 587,798.1 588,798.1 589,798.2 590,798.3 591,798.3 592,798.4 593,798.5 594,798.5 595,798.6 596,798.6 597,798.7 598,798.8 599,798.8 600,798.9 601,798.9 602,799 603,799.1 604,799.1 605,799.2 606,799.2 607,799.3 608,799.4 609,799.4 610,799.5 611,799.5 612,799.6 613,799.7 614,799.7 615,799.8 616,799.8 617,799.9 618,799.9 619,800 620,800.1 621,800.1 622,800.2 623,800.2 624,800.3 625,800.3 626,800.4 627,800.4 628,800.5" fill="none" stroke="#73a9d8" stroke-width="3.8" stroke-linejoin="round" stroke-linecap="round"/>
<polyline points="67,761.2 68,761.3 69,761.3 70,761.4 71,761.4 72,761.5 73,761.6 74,761.6 75,761.7 76,761.7 77,761.8 78,761.9 79,761.9 80,762 81,762.1 82,762.1 83,762.2 84,762.2 85,762.3 86,762.4 87,762.4 88,762.5 89,762.5 90,762.6 91,762.7 92,762.7 93,762.8 94,762.8 95,762.9 96,762.9 97,763 98,763.1 99,763.1 100,763.2 101,763.2 102,763.3 103,763.4 104,763.4 105,763.5 106,763.5 107,763.6 108,763.7 109,763.7 110,763.8 111,763.8 112,763.9 113,763.9 114,764 115,764.1 116,764.1 117,764.2 118,764.2 119,764.3 120,764.3 121,764.4 122,764.5 123,764.5 124,764.6 125,764.6 126,764.7 127,764.7 128,764.8 129,764.9 130,764.9 131,765 132,765 133,765.1 134,765.1 135,765.2 136,765.2 137,765.3 138,765.4 139,765.4 140,765.5 141,765.5 142,765.6 143,765.6 144,765.7 145,765.7 146,765.8 147,765.8 148,765.9 149,765.9 150,766 151,766.1 152,766.1 153,766.2 154,766.2 155,766.3 156,766.3 157,766.4 158,766.4 159,766.5 160,766.5 161,766.6 162,766.6 163,766.7 164,766.7 165,766.8 166,766.8 167,766.9 168,766.9 169,767 170,767 171,767.1 172,767.1 173,767.2 174,767.2 175,767.2 176,767.3 177,767.3 178,767.4 179,767.4 180,767.5 181,767.5 182,767.6 183,767.6 184,767.7 185,767.7 186,767.7 187,767.8 188,767.8 189,767.9 190,767.9 191,768 192,768 193,768.1 194,768.1 195,768.1 196,768.2 197,768.2 198,768.3 199,768.3 200,768.3 201,768.4 202,768.4 203,768.5 204,768.5 205,768.6 206,768.6 207,768.6 208,768.7 209,768.7 210,768.8 211,768.8 212,768.8 213,768.9 214,768.9 215,769 216,769 217,769 218,769.1 219,769.1 220,769.1 221,769.2 222,769.2 223,769.3 224,769.3 225,769.3 226,769.4 227,769.4 228,769.4 229,769.5 230,769.5 231,769.5 232,769.6 233,769.6 234,769.6 235,769.7 236,769.7 237,769.7 238,769.8 239,769.8 240,769.8 241,769.9 242,769.9 243,769.9 244,770 245,770 246,770 247,770 248,770.1 249,770.1 250,770.1 251,770.2 252,770.2 253,770.2 254,770.2 255,770.3 256,770.3 257,770.3 258,770.3 259,770.3 260,770.4 261,770.4 262,770.4 263,770.4 264,770.4 265,770.4 266,770.4 267,770.4 268,770.4 269,770.5 270,770.5 271,770.5 272,770.5 273,770.5 274,770.4 275,770.4 276,770.4 277,770.4 278,770.4 279,770.4 280,770.4 281,770.3 282,770.3 283,770.3 284,770.2 285,770.2 286,770.2 287,770.1 288,770.1 289,770 290,770 291,769.9 292,769.8 293,769.8 294,769.7 295,769.6 296,769.5 297,769.4 298,769.3 299,769.2 300,769.1 301,769 302,768.9 303,768.7 304,768.6 305,768.4 306,768.3 307,768.1 308,768 309,767.8 310,767.6 311,767.4 312,767.2 313,767 314,766.7 315,766.5 316,766.2 317,766 318,765.7 319,765.4 320,765.1 321,764.8 322,764.5 323,764.2 324,763.8 325,763.5 326,763.1 327,762.7 328,762.3 329,761.9 330,761.5 331,761.1 332,760.6 333,760.1 334,759.6 335,759.1 336,758.6 337,758.1 338,757.5 339,757 340,756.4 341,755.8 342,755.2 343,754.5 344,753.9 345,753.2 346,752.5 347,751.8 348,751 349,750.3 350,749.5 351,748.7 352,747.9 353,747.1 354,746.2 355,745.4 356,744.5 357,743.5 358,742.6 359,741.7 360,740.7 361,739.7 362,738.7 363,737.6 364,736.6 365,735.5 366,734.4 367,733.3 368,732.2 369,731 370,729.9 371,728.7 372,727.5 373,726.3 374,725 375,723.8 376,722.5 377,721.3 378,720 379,718.7 380,717.3 381,716 382,714.7 383,713.3 384,711.9 385,710.6 386,709.2 387,707.8 388,706.4 389,705 390,703.6 391,702.2 392,700.8 393,699.3 394,697.9 395,696.5 396,695.1 397,693.7 398,692.3 399,690.9 400,689.5 401,688.1 402,686.7 403,685.3 404,684 405,682.6 406,681.3 407,680 408,678.7 409,677.4 410,676.2 411,674.9 412,673.7 413,672.6 414,671.4 415,670.3 416,669.2 417,668.2 418,667.1 419,666.2 420,665.2 421,664.3 422,663.4 423,662.6 424,661.9 425,661.1 426,660.4 427,659.8 428,659.2 429,658.7 430,658.2 431,657.8 432,657.4 433,657.1 434,656.9 435,656.7 436,656.5 437,656.4 438,656.4 439,656.4 440,656.5 441,656.7 442,656.8 443,657.1 444,657.4 445,657.7 446,658.1 447,658.5 448,659 449,659.5 450,660 451,660.7 452,661.3 453,662 454,662.7 455,663.5 456,664.4 457,665.2 458,666.1 459,667.1 460,668 461,669.1 462,670.1 463,671.2 464,672.3 465,673.5 466,674.6 467,675.8 468,677.1 469,678.3 470,679.6 471,680.9 472,682.3 473,683.6 474,685 475,686.4 476,687.8 477,689.3 478,690.7 479,692.2 480,693.6 481,695.1 482,696.6 483,698.1 484,699.6 485,701.2 486,702.7 487,704.2 488,705.8 489,707.3 490,708.9 491,710.4 492,711.9 493,713.5 494,715 495,716.6 496,718.1 497,719.6 498,721.1 499,722.7 500,724.2 501,725.7 502,727.2 503,728.6 504,730.1 505,731.6 506,733 507,734.4 508,735.9 509,737.3 510,738.7 511,740 512,741.4 513,742.7 514,744.1 515,745.4 516,746.7 517,747.9 518,749.2 519,750.4 520,751.7 521,752.9 522,754.1 523,755.2 524,756.4 525,757.5 526,758.6 527,759.7 528,760.8 529,761.8 530,762.8 531,763.8 532,764.8 533,765.8 534,766.7 535,767.7 536,768.6 537,769.5 538,770.3 539,771.2 540,772 541,772.8 542,773.6 543,774.4 544,775.2 545,775.9 546,776.6 547,777.3 548,778 549,778.7 550,779.3 551,780 552,780.6 553,781.2 554,781.8 555,782.4 556,782.9 557,783.4 558,784 559,784.5 560,785 561,785.5 562,785.9 563,786.4 564,786.8 565,787.3 566,787.7 567,788.1 568,788.5 569,788.9 570,789.2 571,789.6 572,789.9 573,790.3 574,790.6 575,790.9 576,791.2 577,791.5 578,791.8 579,792.1 580,792.4 581,792.7 582,792.9 583,793.2 584,793.4 585,793.6 586,793.9 587,794.1 588,794.3 589,794.5 590,794.7 591,794.9 592,795.1 593,795.3 594,795.5 595,795.6 596,795.8 597,796 598,796.1 599,796.3 600,796.4 601,796.6 602,796.7 603,796.9 604,797 605,797.1 606,797.3 607,797.4 608,797.5 609,797.6 610,797.8 611,797.9 612,798 613,798.1 614,798.2 615,798.3 616,798.4 617,798.5 618,798.6 619,798.7 620,798.8 621,798.9 622,799 623,799.1 624,799.2 625,799.2 626,799.3 627,799.4 628,799.5" fill="none" stroke="#f2926e" stroke-width="3.8" stroke-linejoin="round" stroke-linecap="round"/>
<polyline points="67,770.6 74.2,755 79.4,754.7 84.9,743.1 90.4,758.3 97.6,755.8 103.9,762.2 109,752.7 115.2,761.4 124.3,751 129.5,755.6 134.4,752.6 141.2,756.9 149.1,746.4 155,761 161.1,751.2 165.9,743 172.4,745.5 179.1,745.3 183.4,735.1 191.2,741 196.5,730.6 204.6,731.9 208.2,723.6 216.4,722.2 223.1,712.9 227.4,720 235.6,707.7 241.8,717.4 245.3,707.9 253.6,707.8 257.7,704.7 265.4,713.1 271.4,704.6 276.9,712.1 283.5,715.5 291.1,724.9 295.8,718.8 301.5,735.8 309.4,730.4 314.8,739.3 322.1,732 326.6,739.7 333,732.5 340.7,744.4 346,733.7 352.2,737.4 357.6,728.9 363.1,722.3 372.1,711 375.7,718.7 384.3,705.9 389,705.4 397,686.3 401.5,681.3 409.4,675.1 414.4,672.5 419.6,656.6 427.3,663.4 433.3,647.9 439.6,650.6 445.1,649 450.5,658.2 458,668.9 462.6,666.6 470.6,672.9 476.6,688.6 482,692.5 489.5,703.9 493.9,710.6 500.7,729.1 508.1,734.5 513,739.9 520.3,743 526.1,761.1 533.4,757.2 539.7,773.2 545.1,762.9 551.6,790.5 555.7,782.7 563.7,784.8 570.3,787.4 575.1,796.6 581.8,779.4 587.7,796.8 595.4,792.5 599.6,799 606.1,790.4 611.1,799 618.6,793.2 628,805.4" fill="none" stroke="#000" stroke-width="4.0" stroke-linejoin="round" stroke-linecap="round"/>
<polyline points="67,758.2 68,758.2 69,758.2 70,758.2 71,758.3 72,758.3 73,758.3 74,758.3 75,758.4 76,758.4 77,758.4 78,758.4 79,758.4 80,758.5 81,758.5 82,758.5 83,758.5 84,758.5 85,758.5 86,758.5 87,758.5 88,758.5 89,758.5 90,758.5 91,758.5 92,758.5 93,758.5 94,758.5 95,758.5 96,758.5 97,758.5 98,758.5 99,758.5 100,758.5 101,758.4 102,758.4 103,758.4 104,758.4 105,758.3 106,758.3 107,758.3 108,758.2 109,758.2 110,758.2 111,758.1 112,758.1 113,758 114,758 115,757.9 116,757.8 117,757.8 118,757.7 119,757.6 120,757.6 121,757.5 122,757.4 123,757.3 124,757.2 125,757.1 126,757 127,756.9 128,756.8 129,756.7 130,756.6 131,756.4 132,756.3 133,756.2 134,756 135,755.9 136,755.7 137,755.6 138,755.4 139,755.2 140,755.1 141,754.9 142,754.7 143,754.5 144,754.3 145,754.1 146,753.9 147,753.7 148,753.4 149,753.2 150,753 151,752.7 152,752.5 153,752.2 154,751.9 155,751.6 156,751.4 157,751.1 158,750.8 159,750.5 160,750.1 161,749.8 162,749.5 163,749.2 164,748.8 165,748.4 166,748.1 167,747.7 168,747.3 169,746.9 170,746.6 171,746.1 172,745.7 173,745.3 174,744.9 175,744.5 176,744 177,743.6 178,743.1 179,742.6 180,742.2 181,741.7 182,741.2 183,740.7 184,740.2 185,739.7 186,739.2 187,738.6 188,738.1 189,737.6 190,737 191,736.5 192,735.9 193,735.3 194,734.8 195,734.2 196,733.6 197,733 198,732.5 199,731.9 200,731.3 201,730.7 202,730.1 203,729.5 204,728.9 205,728.3 206,727.6 207,727 208,726.4 209,725.8 210,725.2 211,724.6 212,724 213,723.3 214,722.7 215,722.1 216,721.5 217,720.9 218,720.3 219,719.7 220,719.2 221,718.6 222,718 223,717.4 224,716.9 225,716.3 226,715.8 227,715.3 228,714.7 229,714.2 230,713.7 231,713.3 232,712.8 233,712.3 234,711.9 235,711.5 236,711.1 237,710.7 238,710.3 239,709.9 240,709.6 241,709.3 242,709 243,708.7 244,708.5 245,708.2 246,708 247,707.9 248,707.7 249,707.6 250,707.4 251,707.4 252,707.3 253,707.3 254,707.2 255,707.3 256,707.3 257,707.3 258,707.4 259,707.5 260,707.7 261,707.8 262,708 263,708.2 264,708.4 265,708.7 266,708.9 267,709.2 268,709.5 269,709.9 270,710.2 271,710.6 272,711 273,711.4 274,711.8 275,712.2 276,712.7 277,713.1 278,713.6 279,714.1 280,714.6 281,715.1 282,715.6 283,716.1 284,716.7 285,717.2 286,717.8 287,718.3 288,718.9 289,719.4 290,720 291,720.5 292,721.1 293,721.7 294,722.2 295,722.8 296,723.3 297,723.9 298,724.5 299,725 300,725.5 301,726.1 302,726.6 303,727.1 304,727.6 305,728.1 306,728.6 307,729.1 308,729.6 309,730.1 310,730.5 311,730.9 312,731.4 313,731.8 314,732.2 315,732.6 316,732.9 317,733.3 318,733.6 319,733.9 320,734.2 321,734.5 322,734.8 323,735 324,735.3 325,735.5 326,735.6 327,735.8 328,736 329,736.1 330,736.2 331,736.3 332,736.3 333,736.3 334,736.4 335,736.3 336,736.3 337,736.2 338,736.2 339,736 340,735.9 341,735.8 342,735.6 343,735.4 344,735.1 345,734.9 346,734.6 347,734.3 348,733.9 349,733.5 350,733.1 351,732.7 352,732.3 353,731.8 354,731.3 355,730.7 356,730.2 357,729.6 358,729 359,728.3 360,727.6 361,726.9 362,726.2 363,725.5 364,724.7 365,723.9 366,723 367,722.2 368,721.3 369,720.4 370,719.5 371,718.5 372,717.5 373,716.5 374,715.5 375,714.5 376,713.4 377,712.3 378,711.2 379,710.1 380,709 381,707.8 382,706.7 383,705.5 384,704.3 385,703.1 386,701.8 387,700.6 388,699.3 389,698.1 390,696.8 391,695.5 392,694.2 393,692.9 394,691.6 395,690.3 396,689 397,687.7 398,686.4 399,685.2 400,683.9 401,682.6 402,681.3 403,680 404,678.7 405,677.5 406,676.3 407,675 408,673.8 409,672.6 410,671.5 411,670.3 412,669.2 413,668.1 414,667 415,665.9 416,664.9 417,663.9 418,663 419,662 420,661.2 421,660.3 422,659.5 423,658.7 424,658 425,657.3 426,656.7 427,656.1 428,655.6 429,655.1 430,654.7 431,654.3 432,654 433,653.7 434,653.5 435,653.3 436,653.2 437,653.2 438,653.2 439,653.3 440,653.4 441,653.6 442,653.8 443,654 444,654.4 445,654.7 446,655.1 447,655.6 448,656.1 449,656.6 450,657.2 451,657.9 452,658.6 453,659.3 454,660 455,660.9 456,661.7 457,662.6 458,663.5 459,664.5 460,665.5 461,666.5 462,667.6 463,668.7 464,669.9 465,671 466,672.2 467,673.5 468,674.7 469,676 470,677.3 471,678.6 472,680 473,681.4 474,682.8 475,684.2 476,685.6 477,687.1 478,688.5 479,690 480,691.5 481,693 482,694.5 483,696.1 484,697.6 485,699.1 486,700.7 487,702.2 488,703.8 489,705.3 490,706.9 491,708.5 492,710 493,711.6 494,713.1 495,714.7 496,716.2 497,717.8 498,719.3 499,720.8 500,722.4 501,723.9 502,725.4 503,726.9 504,728.3 505,729.8 506,731.3 507,732.7 508,734.1 509,735.6 510,737 511,738.4 512,739.7 513,741.1 514,742.4 515,743.8 516,745.1 517,746.3 518,747.6 519,748.9 520,750.1 521,751.3 522,752.5 523,753.7 524,754.8 525,756 526,757.1 527,758.2 528,759.3 529,760.3 530,761.4 531,762.4 532,763.4 533,764.4 534,765.3 535,766.3 536,767.2 537,768.1 538,769 539,769.8 540,770.7 541,771.5 542,772.3 543,773.1 544,773.8 545,774.6 546,775.3 547,776 548,776.7 549,777.4 550,778.1 551,778.7 552,779.3 553,779.9 554,780.5 555,781.1 556,781.7 557,782.2 558,782.8 559,783.3 560,783.8 561,784.3 562,784.8 563,785.2 564,785.7 565,786.1 566,786.5 567,786.9 568,787.3 569,787.7 570,788.1 571,788.5 572,788.8 573,789.2 574,789.5 575,789.8 576,790.2 577,790.5 578,790.8 579,791.1 580,791.3 581,791.6 582,791.9 583,792.1 584,792.4 585,792.6 586,792.9 587,793.1 588,793.3 589,793.5 590,793.7 591,793.9 592,794.1 593,794.3 594,794.5 595,794.7 596,794.9 597,795 598,795.2 599,795.3 600,795.5 601,795.7 602,795.8 603,796 604,796.1 605,796.2 606,796.4 607,796.5 608,796.6 609,796.7 610,796.9 611,797 612,797.1 613,797.2 614,797.3 615,797.4 616,797.5 617,797.7 618,797.8 619,797.9 620,798 621,798 622,798.1 623,798.2 624,798.3 625,798.4 626,798.5 627,798.6 628,798.7" fill="none" stroke="#118080" stroke-width="2.8" stroke-linejoin="round" stroke-linecap="round"/>
<polyline points="67,967.2 68,967.3 69,967.3 70,967.4 71,967.4 72,967.5 73,967.6 74,967.6 75,967.7 76,967.7 77,967.8 78,967.9 79,967.9 80,968 81,968 82,968.1 83,968.2 84,968.2 85,968.3 86,968.3 87,968.4 88,968.5 89,968.5 90,968.6 91,968.6 92,968.7 93,968.8 94,968.8 95,968.9 96,968.9 97,969 98,969.1 99,969.1 100,969.2 101,969.2 102,969.3 103,969.4 104,969.4 105,969.5 106,969.5 107,969.6 108,969.7 109,969.7 110,969.8 111,969.8 112,969.9 113,970 114,970 115,970.1 116,970.1 117,970.2 118,970.3 119,970.3 120,970.4 121,970.4 122,970.5 123,970.6 124,970.6 125,970.7 126,970.7 127,970.8 128,970.8 129,970.9 130,971 131,971 132,971.1 133,971.1 134,971.2 135,971.3 136,971.3 137,971.4 138,971.4 139,971.5 140,971.5 141,971.6 142,971.7 143,971.7 144,971.8 145,971.8 146,971.9 147,972 148,972 149,972.1 150,972.1 151,972.2 152,972.2 153,972.3 154,972.4 155,972.4 156,972.5 157,972.5 158,972.6 159,972.7 160,972.7 161,972.8 162,972.8 163,972.9 164,972.9 165,973 166,973.1 167,973.1 168,973.2 169,973.2 170,973.3 171,973.3 172,973.4 173,973.5 174,973.5 175,973.6 176,973.6 177,973.7 178,973.7 179,973.8 180,973.9 181,973.9 182,974 183,974 184,974.1 185,974.1 186,974.2 187,974.3 188,974.3 189,974.4 190,974.4 191,974.5 192,974.5 193,974.6 194,974.7 195,974.7 196,974.8 197,974.8 198,974.9 199,974.9 200,975 201,975.1 202,975.1 203,975.2 204,975.2 205,975.3 206,975.3 207,975.4 208,975.5 209,975.5 210,975.6 211,975.6 212,975.7 213,975.7 214,975.8 215,975.9 216,975.9 217,976 218,976 219,976.1 220,976.1 221,976.2 222,976.2 223,976.3 224,976.4 225,976.4 226,976.5 227,976.5 228,976.6 229,976.6 230,976.7 231,976.8 232,976.8 233,976.9 234,976.9 235,977 236,977 237,977.1 238,977.1 239,977.2 240,977.3 241,977.3 242,977.4 243,977.4 244,977.5 245,977.5 246,977.6 247,977.7 248,977.7 249,977.8 250,977.8 251,977.9 252,977.9 253,978 254,978 255,978.1 256,978.2 257,978.2 258,978.3 259,978.3 260,978.4 261,978.4 262,978.5 263,978.5 264,978.6 265,978.6 266,978.7 267,978.8 268,978.8 269,978.9 270,978.9 271,979 272,979 273,979.1 274,979.1 275,979.2 276,979.2 277,979.3 278,979.3 279,979.4 280,979.5 281,979.5 282,979.6 283,979.6 284,979.7 285,979.7 286,979.8 287,979.8 288,979.9 289,979.9 290,980 291,980 292,980.1 293,980.1 294,980.2 295,980.2 296,980.3 297,980.3 298,980.4 299,980.4 300,980.5 301,980.6 302,980.6 303,980.7 304,980.7 305,980.8 306,980.8 307,980.8 308,980.9 309,980.9 310,981 311,981 312,981.1 313,981.1 314,981.2 315,981.2 316,981.3 317,981.3 318,981.4 319,981.4 320,981.5 321,981.5 322,981.6 323,981.6 324,981.6 325,981.7 326,981.7 327,981.8 328,981.8 329,981.9 330,981.9 331,982 332,982 333,982.1 334,982.1 335,982.2 336,982.2 337,982.2 338,982.3 339,982.3 340,982.4 341,982.4 342,982.5 343,982.5 344,982.6 345,982.6 346,982.7 347,982.7 348,982.8 349,982.8 350,982.9 351,982.9 352,983 353,983 354,983.1 355,983.1 356,983.2 357,983.2 358,983.3 359,983.3 360,983.4 361,983.5 362,983.5 363,983.6 364,983.6 365,983.7 366,983.7 367,983.8 368,983.9 369,983.9 370,984 371,984 372,984.1 373,984.2 374,984.2 375,984.3 376,984.4 377,984.4 378,984.5 379,984.6 380,984.6 381,984.7 382,984.8 383,984.8 384,984.9 385,984.9 386,985 387,985.1 388,985.2 389,985.2 390,985.3 391,985.4 392,985.4 393,985.5 394,985.6 395,985.6 396,985.7 397,985.8 398,985.8 399,985.9 400,986 401,986 402,986.1 403,986.2 404,986.2 405,986.3 406,986.4 407,986.4 408,986.5 409,986.6 410,986.6 411,986.7 412,986.8 413,986.8 414,986.9 415,986.9 416,987 417,987.1 418,987.1 419,987.2 420,987.3 421,987.3 422,987.4 423,987.4 424,987.5 425,987.6 426,987.6 427,987.7 428,987.8 429,987.8 430,987.9 431,988 432,988 433,988.1 434,988.1 435,988.2 436,988.3 437,988.3 438,988.4 439,988.5 440,988.5 441,988.6 442,988.6 443,988.7 444,988.8 445,988.8 446,988.9 447,989 448,989 449,989.1 450,989.2 451,989.2 452,989.3 453,989.3 454,989.4 455,989.5 456,989.5 457,989.6 458,989.6 459,989.7 460,989.8 461,989.8 462,989.9 463,990 464,990 465,990.1 466,990.1 467,990.2 468,990.3 469,990.3 470,990.4 471,990.4 472,990.5 473,990.6 474,990.6 475,990.7 476,990.7 477,990.8 478,990.8 479,990.9 480,991 481,991 482,991.1 483,991.1 484,991.2 485,991.2 486,991.3 487,991.3 488,991.4 489,991.4 490,991.5 491,991.6 492,991.6 493,991.7 494,991.7 495,991.8 496,991.8 497,991.9 498,991.9 499,992 500,992 501,992 502,992.1 503,992.1 504,992.2 505,992.2 506,992.3 507,992.3 508,992.4 509,992.4 510,992.5 511,992.5 512,992.6 513,992.6 514,992.7 515,992.7 516,992.8 517,992.8 518,992.8 519,992.9 520,992.9 521,993 522,993 523,993.1 524,993.1 525,993.2 526,993.2 527,993.3 528,993.3 529,993.3 530,993.4 531,993.4 532,993.5 533,993.5 534,993.6 535,993.6 536,993.7 537,993.7 538,993.7 539,993.8 540,993.8 541,993.9 542,993.9 543,994 544,994 545,994.1 546,994.1 547,994.1 548,994.2 549,994.2 550,994.3 551,994.3 552,994.3 553,994.4 554,994.4 555,994.5 556,994.5 557,994.6 558,994.6 559,994.6 560,994.7 561,994.7 562,994.8 563,994.8 564,994.8 565,994.9 566,994.9 567,995 568,995 569,995 570,995.1 571,995.1 572,995.2 573,995.2 574,995.2 575,995.3 576,995.3 577,995.3 578,995.4 579,995.4 580,995.5 581,995.5 582,995.5 583,995.6 584,995.6 585,995.6 586,995.7 587,995.7 588,995.7 589,995.8 590,995.8 591,995.9 592,995.9 593,995.9 594,996 595,996 596,996 597,996.1 598,996.1 599,996.1 600,996.2 601,996.2 602,996.2 603,996.3 604,996.3 605,996.3 606,996.4 607,996.4 608,996.4 609,996.4 610,996.5 611,996.5 612,996.5 613,996.6 614,996.6 615,996.6 616,996.7 617,996.7 618,996.7 619,996.7 620,996.8 621,996.8 622,996.8 623,996.9 624,996.9 625,996.9 626,996.9 627,997 628,997" fill="none" stroke="#7a7a7a" stroke-width="2.4" stroke-linejoin="round" stroke-linecap="round"/>
<polyline points="67,965.7 68,965.7 69,965.7 70,965.7 71,965.7 72,965.7 73,965.7 74,965.8 75,965.8 76,965.8 77,965.8 78,965.8 79,965.8 80,965.8 81,965.8 82,965.8 83,965.8 84,965.8 85,965.7 86,965.7 87,965.7 88,965.7 89,965.7 90,965.6 91,965.6 92,965.6 93,965.6 94,965.5 95,965.5 96,965.4 97,965.4 98,965.3 99,965.3 100,965.2 101,965.2 102,965.1 103,965.1 104,965 105,964.9 106,964.8 107,964.8 108,964.7 109,964.6 110,964.5 111,964.4 112,964.3 113,964.2 114,964.1 115,964 116,963.9 117,963.7 118,963.6 119,963.5 120,963.4 121,963.2 122,963.1 123,962.9 124,962.8 125,962.6 126,962.5 127,962.3 128,962.1 129,961.9 130,961.8 131,961.6 132,961.4 133,961.2 134,961 135,960.8 136,960.6 137,960.3 138,960.1 139,959.9 140,959.6 141,959.4 142,959.2 143,958.9 144,958.7 145,958.4 146,958.1 147,957.9 148,957.6 149,957.3 150,957 151,956.7 152,956.4 153,956.1 154,955.8 155,955.5 156,955.2 157,954.9 158,954.6 159,954.2 160,953.9 161,953.6 162,953.2 163,952.9 164,952.5 165,952.2 166,951.8 167,951.4 168,951.1 169,950.7 170,950.3 171,950 172,949.6 173,949.2 174,948.8 175,948.4 176,948.1 177,947.7 178,947.3 179,946.9 180,946.5 181,946.1 182,945.7 183,945.3 184,944.9 185,944.5 186,944.1 187,943.7 188,943.3 189,942.9 190,942.5 191,942.1 192,941.7 193,941.3 194,940.9 195,940.5 196,940.1 197,939.7 198,939.3 199,939 200,938.6 201,938.2 202,937.8 203,937.5 204,937.1 205,936.7 206,936.4 207,936 208,935.7 209,935.4 210,935 211,934.7 212,934.4 213,934.1 214,933.8 215,933.5 216,933.2 217,932.9 218,932.6 219,932.3 220,932.1 221,931.8 222,931.6 223,931.4 224,931.1 225,930.9 226,930.7 227,930.5 228,930.4 229,930.2 230,930 231,929.9 232,929.7 233,929.6 234,929.5 235,929.4 236,929.3 237,929.2 238,929.2 239,929.1 240,929.1 241,929 242,929 243,929 244,929 245,929.1 246,929.1 247,929.2 248,929.2 249,929.3 250,929.4 251,929.5 252,929.6 253,929.7 254,929.9 255,930 256,930.2 257,930.3 258,930.5 259,930.7 260,930.9 261,931.2 262,931.4 263,931.7 264,931.9 265,932.2 266,932.5 267,932.8 268,933.1 269,933.4 270,933.7 271,934 272,934.4 273,934.7 274,935.1 275,935.4 276,935.8 277,936.2 278,936.6 279,937 280,937.4 281,937.8 282,938.3 283,938.7 284,939.1 285,939.6 286,940 287,940.5 288,940.9 289,941.4 290,941.9 291,942.3 292,942.8 293,943.3 294,943.8 295,944.3 296,944.8 297,945.2 298,945.7 299,946.2 300,946.7 301,947.2 302,947.7 303,948.3 304,948.8 305,949.3 306,949.8 307,950.3 308,950.8 309,951.3 310,951.8 311,952.3 312,952.8 313,953.3 314,953.8 315,954.3 316,954.8 317,955.3 318,955.8 319,956.3 320,956.8 321,957.3 322,957.7 323,958.2 324,958.7 325,959.2 326,959.6 327,960.1 328,960.6 329,961 330,961.5 331,962 332,962.4 333,962.8 334,963.3 335,963.7 336,964.2 337,964.6 338,965 339,965.4 340,965.8 341,966.3 342,966.7 343,967.1 344,967.5 345,967.9 346,968.2 347,968.6 348,969 349,969.4 350,969.7 351,970.1 352,970.5 353,970.8 354,971.2 355,971.5 356,971.9 357,972.2 358,972.5 359,972.9 360,973.2 361,973.5 362,973.8 363,974.1 364,974.4 365,974.7 366,975 367,975.3 368,975.6 369,975.9 370,976.1 371,976.4 372,976.7 373,977 374,977.2 375,977.5 376,977.7 377,978 378,978.2 379,978.5 380,978.7 381,978.9 382,979.2 383,979.4 384,979.6 385,979.8 386,980 387,980.2 388,980.4 389,980.6 390,980.8 391,981 392,981.2 393,981.4 394,981.6 395,981.8 396,982 397,982.1 398,982.3 399,982.5 400,982.7 401,982.8 402,983 403,983.1 404,983.3 405,983.4 406,983.6 407,983.7 408,983.9 409,984 410,984.2 411,984.3 412,984.4 413,984.6 414,984.7 415,984.8 416,984.9 417,985 418,985.2 419,985.3 420,985.4 421,985.5 422,985.6 423,985.7 424,985.8 425,985.9 426,986 427,986.2 428,986.3 429,986.4 430,986.5 431,986.6 432,986.7 433,986.7 434,986.8 435,986.9 436,987 437,987.1 438,987.2 439,987.3 440,987.4 441,987.5 442,987.6 443,987.7 444,987.7 445,987.8 446,987.9 447,988 448,988.1 449,988.2 450,988.2 451,988.3 452,988.4 453,988.5 454,988.6 455,988.6 456,988.7 457,988.8 458,988.9 459,988.9 460,989 461,989.1 462,989.2 463,989.2 464,989.3 465,989.4 466,989.4 467,989.5 468,989.6 469,989.7 470,989.7 471,989.8 472,989.9 473,989.9 474,990 475,990.1 476,990.1 477,990.2 478,990.2 479,990.3 480,990.4 481,990.4 482,990.5 483,990.6 484,990.6 485,990.7 486,990.7 487,990.8 488,990.9 489,990.9 490,991 491,991 492,991.1 493,991.2 494,991.2 495,991.3 496,991.3 497,991.4 498,991.4 499,991.5 500,991.5 501,991.6 502,991.6 503,991.7 504,991.7 505,991.8 506,991.8 507,991.9 508,991.9 509,992 510,992 511,992.1 512,992.1 513,992.2 514,992.2 515,992.3 516,992.3 517,992.4 518,992.4 519,992.5 520,992.5 521,992.6 522,992.6 523,992.7 524,992.7 525,992.8 526,992.8 527,992.9 528,992.9 529,993 530,993 531,993.1 532,993.1 533,993.2 534,993.2 535,993.3 536,993.3 537,993.3 538,993.4 539,993.4 540,993.5 541,993.5 542,993.6 543,993.6 544,993.7 545,993.7 546,993.8 547,993.8 548,993.8 549,993.9 550,993.9 551,994 552,994 553,994.1 554,994.1 555,994.2 556,994.2 557,994.2 558,994.3 559,994.3 560,994.4 561,994.4 562,994.5 563,994.5 564,994.5 565,994.6 566,994.6 567,994.7 568,994.7 569,994.7 570,994.8 571,994.8 572,994.9 573,994.9 574,994.9 575,995 576,995 577,995.1 578,995.1 579,995.1 580,995.2 581,995.2 582,995.3 583,995.3 584,995.3 585,995.4 586,995.4 587,995.4 588,995.5 589,995.5 590,995.6 591,995.6 592,995.6 593,995.7 594,995.7 595,995.7 596,995.8 597,995.8 598,995.8 599,995.9 600,995.9 601,995.9 602,996 603,996 604,996.1 605,996.1 606,996.1 607,996.2 608,996.2 609,996.2 610,996.2 611,996.3 612,996.3 613,996.3 614,996.4 615,996.4 616,996.4 617,996.5 618,996.5 619,996.5 620,996.6 621,996.6 622,996.6 623,996.6 624,996.7 625,996.7 626,996.7 627,996.8 628,996.8" fill="none" stroke="#73a9d8" stroke-width="3.8" stroke-linejoin="round" stroke-linecap="round"/>
<polyline points="67,966.8 68,966.9 69,966.9 70,967 71,967 72,967.1 73,967.1 74,967.2 75,967.3 76,967.3 77,967.4 78,967.4 79,967.5 80,967.5 81,967.6 82,967.7 83,967.7 84,967.8 85,967.8 86,967.9 87,968 88,968 89,968.1 90,968.1 91,968.2 92,968.2 93,968.3 94,968.4 95,968.4 96,968.5 97,968.5 98,968.6 99,968.6 100,968.7 101,968.8 102,968.8 103,968.9 104,968.9 105,969 106,969 107,969.1 108,969.1 109,969.2 110,969.3 111,969.3 112,969.4 113,969.4 114,969.5 115,969.5 116,969.6 117,969.7 118,969.7 119,969.8 120,969.8 121,969.9 122,969.9 123,970 124,970 125,970.1 126,970.1 127,970.2 128,970.3 129,970.3 130,970.4 131,970.4 132,970.5 133,970.5 134,970.6 135,970.6 136,970.7 137,970.8 138,970.8 139,970.9 140,970.9 141,971 142,971 143,971.1 144,971.1 145,971.2 146,971.2 147,971.3 148,971.3 149,971.4 150,971.5 151,971.5 152,971.6 153,971.6 154,971.7 155,971.7 156,971.8 157,971.8 158,971.9 159,971.9 160,972 161,972 162,972.1 163,972.1 164,972.2 165,972.2 166,972.3 167,972.3 168,972.4 169,972.5 170,972.5 171,972.6 172,972.6 173,972.7 174,972.7 175,972.8 176,972.8 177,972.9 178,972.9 179,973 180,973 181,973.1 182,973.1 183,973.2 184,973.2 185,973.3 186,973.3 187,973.4 188,973.4 189,973.5 190,973.5 191,973.6 192,973.6 193,973.7 194,973.7 195,973.8 196,973.8 197,973.9 198,973.9 199,974 200,974 201,974.1 202,974.1 203,974.1 204,974.2 205,974.2 206,974.3 207,974.3 208,974.4 209,974.4 210,974.5 211,974.5 212,974.6 213,974.6 214,974.7 215,974.7 216,974.8 217,974.8 218,974.8 219,974.9 220,974.9 221,975 222,975 223,975.1 224,975.1 225,975.2 226,975.2 227,975.2 228,975.3 229,975.3 230,975.4 231,975.4 232,975.4 233,975.5 234,975.5 235,975.6 236,975.6 237,975.6 238,975.7 239,975.7 240,975.7 241,975.8 242,975.8 243,975.8 244,975.9 245,975.9 246,975.9 247,976 248,976 249,976 250,976.1 251,976.1 252,976.1 253,976.1 254,976.2 255,976.2 256,976.2 257,976.2 258,976.2 259,976.2 260,976.3 261,976.3 262,976.3 263,976.3 264,976.3 265,976.3 266,976.3 267,976.3 268,976.3 269,976.3 270,976.3 271,976.2 272,976.2 273,976.2 274,976.2 275,976.2 276,976.1 277,976.1 278,976.1 279,976 280,976 281,975.9 282,975.9 283,975.8 284,975.7 285,975.7 286,975.6 287,975.5 288,975.4 289,975.3 290,975.2 291,975.1 292,975 293,974.9 294,974.8 295,974.7 296,974.5 297,974.4 298,974.2 299,974 300,973.9 301,973.7 302,973.5 303,973.3 304,973.1 305,972.9 306,972.6 307,972.4 308,972.2 309,971.9 310,971.6 311,971.3 312,971 313,970.7 314,970.4 315,970.1 316,969.7 317,969.4 318,969 319,968.6 320,968.2 321,967.8 322,967.3 323,966.9 324,966.4 325,966 326,965.5 327,965 328,964.4 329,963.9 330,963.3 331,962.8 332,962.2 333,961.6 334,961 335,960.3 336,959.7 337,959 338,958.3 339,957.6 340,956.9 341,956.2 342,955.4 343,954.6 344,953.9 345,953 346,952.2 347,951.4 348,950.5 349,949.7 350,948.8 351,947.9 352,947 353,946 354,945.1 355,944.1 356,943.1 357,942.2 358,941.2 359,940.1 360,939.1 361,938.1 362,937 363,936 364,934.9 365,933.8 366,932.7 367,931.6 368,930.5 369,929.4 370,928.3 371,927.1 372,926 373,924.9 374,923.7 375,922.6 376,921.4 377,920.3 378,919.1 379,918 380,916.8 381,915.7 382,914.6 383,913.4 384,912.3 385,911.2 386,910.1 387,909 388,907.9 389,906.8 390,905.7 391,904.7 392,903.6 393,902.6 394,901.6 395,900.6 396,899.6 397,898.7 398,897.7 399,896.8 400,895.9 401,895.1 402,894.2 403,893.4 404,892.7 405,891.9 406,891.2 407,890.5 408,889.9 409,889.2 410,888.6 411,888.1 412,887.6 413,887.1 414,886.7 415,886.3 416,885.9 417,885.6 418,885.3 419,885.1 420,884.9 421,884.7 422,884.6 423,884.6 424,884.6 425,884.6 426,884.6 427,884.8 428,884.9 429,885.1 430,885.3 431,885.6 432,886 433,886.3 434,886.7 435,887.2 436,887.7 437,888.2 438,888.8 439,889.4 440,890.1 441,890.7 442,891.5 443,892.2 444,893 445,893.8 446,894.7 447,895.6 448,896.5 449,897.4 450,898.4 451,899.4 452,900.4 453,901.4 454,902.5 455,903.6 456,904.7 457,905.8 458,907 459,908.1 460,909.3 461,910.5 462,911.7 463,912.9 464,914.1 465,915.4 466,916.6 467,917.8 468,919.1 469,920.4 470,921.6 471,922.9 472,924.2 473,925.4 474,926.7 475,928 476,929.2 477,930.5 478,931.8 479,933 480,934.3 481,935.5 482,936.8 483,938 484,939.2 485,940.4 486,941.6 487,942.8 488,944 489,945.2 490,946.3 491,947.5 492,948.6 493,949.7 494,950.8 495,951.9 496,953 497,954.1 498,955.1 499,956.1 500,957.1 501,958.1 502,959.1 503,960.1 504,961 505,962 506,962.9 507,963.8 508,964.7 509,965.5 510,966.4 511,967.2 512,968 513,968.8 514,969.6 515,970.3 516,971.1 517,971.8 518,972.5 519,973.2 520,973.9 521,974.5 522,975.2 523,975.8 524,976.4 525,977 526,977.6 527,978.2 528,978.7 529,979.2 530,979.8 531,980.3 532,980.7 533,981.2 534,981.7 535,982.1 536,982.6 537,983 538,983.4 539,983.8 540,984.2 541,984.6 542,984.9 543,985.3 544,985.6 545,986 546,986.3 547,986.6 548,986.9 549,987.2 550,987.5 551,987.7 552,988 553,988.2 554,988.5 555,988.7 556,989 557,989.2 558,989.4 559,989.6 560,989.8 561,990 562,990.2 563,990.4 564,990.6 565,990.7 566,990.9 567,991.1 568,991.2 569,991.4 570,991.5 571,991.6 572,991.8 573,991.9 574,992 575,992.2 576,992.3 577,992.4 578,992.5 579,992.6 580,992.7 581,992.8 582,992.9 583,993 584,993.1 585,993.2 586,993.3 587,993.4 588,993.5 589,993.6 590,993.7 591,993.7 592,993.8 593,993.9 594,994 595,994 596,994.1 597,994.2 598,994.2 599,994.3 600,994.4 601,994.4 602,994.5 603,994.6 604,994.6 605,994.7 606,994.7 607,994.8 608,994.8 609,994.9 610,994.9 611,995 612,995.1 613,995.1 614,995.2 615,995.2 616,995.2 617,995.3 618,995.3 619,995.4 620,995.4 621,995.5 622,995.5 623,995.6 624,995.6 625,995.6 626,995.7 627,995.7 628,995.8" fill="none" stroke="#f2926e" stroke-width="3.8" stroke-linejoin="round" stroke-linecap="round"/>
<polyline points="67,977.5 72.5,970.2 79.7,970.6 86.5,964.6 92.5,966.9 99.3,955.2 105.3,972.6 111.7,956.4 115.1,973.2 122.6,957.5 129,966.5 133.9,956.2 139.9,965.9 148.6,951.6 155.3,965.9 160.9,949.7 165.6,952.4 173,941.2 178,948 185.5,940.2 190.3,950.3 198.1,937.7 204.9,932.3 211.1,935.2 217,925.1 223.3,934.9 228.8,927.6 234.6,923.9 241.9,934.3 245.5,922.4 252.6,924.3 259.5,928.1 265.3,924 272.5,923 276.9,940.2 282.6,928.3 289,942.1 297.8,939.5 301.5,940.8 308,938.1 314.6,949 321.6,939.9 328.3,952.5 332.3,944.5 341.1,944 346.8,938.1 351.6,934.5 357.4,925.1 364.9,924.2 371.1,921.4 376.3,921 382.2,906.1 390.2,898.4 396.1,889.6 402.7,892.4 407.1,888.5 414.9,886.1 419.1,883.9 425.1,887.6 431.8,877.5 439.9,894.8 445.3,886.1 451.8,903.2 457.9,910.2 464.2,921.7 469.5,918.6 476.9,932.8 480.9,928.3 488.2,945.9 493.4,944.5 499.8,956.3 508.5,962.7 513.7,972.4 520.5,971.4 526.1,984.6 532.2,981.3 539.1,985.9 544.8,976.6 550.6,991.8 557,982.9 563.2,993.2 568.7,984.8 575.9,990.8 581.3,991.1 588.3,1000.9 594,986.9 601,997.9 607,989.7 611.2,993.7 619.7,979.8 628,987.8" fill="none" stroke="#000" stroke-width="4.0" stroke-linejoin="round" stroke-linecap="round"/>
<polyline points="67,965.2 68,965.3 69,965.3 70,965.3 71,965.3 72,965.3 73,965.3 74,965.3 75,965.3 76,965.3 77,965.3 78,965.3 79,965.3 80,965.3 81,965.3 82,965.3 83,965.3 84,965.3 85,965.3 86,965.3 87,965.3 88,965.2 89,965.2 90,965.2 91,965.2 92,965.1 93,965.1 94,965 95,965 96,965 97,964.9 98,964.9 99,964.8 100,964.7 101,964.7 102,964.6 103,964.6 104,964.5 105,964.4 106,964.3 107,964.2 108,964.2 109,964.1 110,964 111,963.9 112,963.8 113,963.7 114,963.6 115,963.4 116,963.3 117,963.2 118,963.1 119,962.9 120,962.8 121,962.7 122,962.5 123,962.4 124,962.2 125,962 126,961.9 127,961.7 128,961.5 129,961.3 130,961.2 131,961 132,960.8 133,960.6 134,960.4 135,960.2 136,959.9 137,959.7 138,959.5 139,959.3 140,959 141,958.8 142,958.5 143,958.3 144,958 145,957.7 146,957.5 147,957.2 148,956.9 149,956.6 150,956.3 151,956 152,955.7 153,955.4 154,955.1 155,954.8 156,954.5 157,954.2 158,953.8 159,953.5 160,953.2 161,952.8 162,952.5 163,952.1 164,951.8 165,951.4 166,951 167,950.7 168,950.3 169,949.9 170,949.6 171,949.2 172,948.8 173,948.4 174,948 175,947.6 176,947.2 177,946.8 178,946.4 179,946 180,945.6 181,945.2 182,944.8 183,944.4 184,944 185,943.6 186,943.2 187,942.8 188,942.4 189,942 190,941.6 191,941.2 192,940.8 193,940.4 194,940 195,939.6 196,939.2 197,938.8 198,938.4 199,938 200,937.6 201,937.2 202,936.8 203,936.4 204,936.1 205,935.7 206,935.3 207,935 208,934.6 209,934.3 210,933.9 211,933.6 212,933.3 213,932.9 214,932.6 215,932.3 216,932 217,931.7 218,931.4 219,931.2 220,930.9 221,930.6 222,930.4 223,930.1 224,929.9 225,929.7 226,929.4 227,929.2 228,929 229,928.9 230,928.7 231,928.5 232,928.4 233,928.2 234,928.1 235,928 236,927.9 237,927.8 238,927.7 239,927.6 240,927.6 241,927.5 242,927.5 243,927.5 244,927.4 245,927.4 246,927.5 247,927.5 248,927.5 249,927.6 250,927.6 251,927.7 252,927.8 253,927.9 254,928 255,928.1 256,928.2 257,928.3 258,928.5 259,928.7 260,928.8 261,929 262,929.2 263,929.4 264,929.6 265,929.8 266,930 267,930.3 268,930.5 269,930.8 270,931 271,931.3 272,931.6 273,931.8 274,932.1 275,932.4 276,932.7 277,933 278,933.3 279,933.6 280,933.9 281,934.2 282,934.6 283,934.9 284,935.2 285,935.5 286,935.8 287,936.2 288,936.5 289,936.8 290,937.1 291,937.4 292,937.7 293,938.1 294,938.4 295,938.7 296,939 297,939.3 298,939.6 299,939.8 300,940.1 301,940.4 302,940.7 303,940.9 304,941.2 305,941.4 306,941.6 307,941.8 308,942 309,942.2 310,942.4 311,942.6 312,942.7 313,942.9 314,943 315,943.1 316,943.2 317,943.3 318,943.4 319,943.5 320,943.5 321,943.5 322,943.5 323,943.5 324,943.5 325,943.4 326,943.4 327,943.3 328,943.2 329,943.1 330,942.9 331,942.8 332,942.6 333,942.4 334,942.2 335,941.9 336,941.6 337,941.4 338,941 339,940.7 340,940.4 341,940 342,939.6 343,939.2 344,938.7 345,938.3 346,937.8 347,937.3 348,936.8 349,936.2 350,935.7 351,935.1 352,934.5 353,933.8 354,933.2 355,932.5 356,931.8 357,931.1 358,930.4 359,929.6 360,928.9 361,928.1 362,927.3 363,926.5 364,925.7 365,924.8 366,924 367,923.1 368,922.2 369,921.3 370,920.4 371,919.5 372,918.6 373,917.6 374,916.7 375,915.7 376,914.8 377,913.8 378,912.9 379,911.9 380,910.9 381,909.9 382,909 383,908 384,907 385,906 386,905.1 387,904.1 388,903.2 389,902.2 390,901.3 391,900.3 392,899.4 393,898.5 394,897.6 395,896.7 396,895.9 397,895 398,894.2 399,893.4 400,892.6 401,891.9 402,891.1 403,890.4 404,889.7 405,889.1 406,888.4 407,887.8 408,887.2 409,886.7 410,886.2 411,885.7 412,885.3 413,884.8 414,884.5 415,884.1 416,883.8 417,883.6 418,883.4 419,883.2 420,883 421,882.9 422,882.9 423,882.9 424,882.9 425,882.9 426,883.1 427,883.2 428,883.4 429,883.6 430,883.9 431,884.2 432,884.6 433,885 434,885.4 435,885.9 436,886.4 437,887 438,887.6 439,888.2 440,888.9 441,889.6 442,890.4 443,891.2 444,892 445,892.8 446,893.7 447,894.6 448,895.5 449,896.5 450,897.5 451,898.5 452,899.5 453,900.6 454,901.7 455,902.8 456,903.9 457,905 458,906.2 459,907.3 460,908.5 461,909.7 462,910.9 463,912.2 464,913.4 465,914.7 466,915.9 467,917.2 468,918.4 469,919.7 470,921 471,922.2 472,923.5 473,924.8 474,926.1 475,927.4 476,928.6 477,929.9 478,931.2 479,932.4 480,933.7 481,934.9 482,936.2 483,937.4 484,938.7 485,939.9 486,941.1 487,942.3 488,943.5 489,944.7 490,945.8 491,947 492,948.1 493,949.2 494,950.3 495,951.4 496,952.5 497,953.6 498,954.6 499,955.7 500,956.7 501,957.7 502,958.7 503,959.6 504,960.6 505,961.5 506,962.4 507,963.3 508,964.2 509,965.1 510,965.9 511,966.8 512,967.6 513,968.4 514,969.2 515,969.9 516,970.7 517,971.4 518,972.1 519,972.8 520,973.5 521,974.1 522,974.8 523,975.4 524,976 525,976.6 526,977.2 527,977.8 528,978.3 529,978.9 530,979.4 531,979.9 532,980.4 533,980.9 534,981.3 535,981.8 536,982.2 537,982.6 538,983.1 539,983.5 540,983.8 541,984.2 542,984.6 543,984.9 544,985.3 545,985.6 546,985.9 547,986.2 548,986.6 549,986.8 550,987.1 551,987.4 552,987.7 553,987.9 554,988.2 555,988.4 556,988.6 557,988.9 558,989.1 559,989.3 560,989.5 561,989.7 562,989.9 563,990.1 564,990.3 565,990.4 566,990.6 567,990.8 568,990.9 569,991.1 570,991.2 571,991.4 572,991.5 573,991.6 574,991.8 575,991.9 576,992 577,992.1 578,992.2 579,992.4 580,992.5 581,992.6 582,992.7 583,992.8 584,992.9 585,993 586,993.1 587,993.1 588,993.2 589,993.3 590,993.4 591,993.5 592,993.6 593,993.6 594,993.7 595,993.8 596,993.9 597,993.9 598,994 599,994.1 600,994.1 601,994.2 602,994.3 603,994.3 604,994.4 605,994.4 606,994.5 607,994.6 608,994.6 609,994.7 610,994.7 611,994.8 612,994.8 613,994.9 614,994.9 615,995 616,995 617,995.1 618,995.1 619,995.2 620,995.2 621,995.3 622,995.3 623,995.3 624,995.4 625,995.4 626,995.5 627,995.5 628,995.6" fill="none" stroke="#118080" stroke-width="2.8" stroke-linejoin="round" stroke-linecap="round"/>
<line x1="254.5" y1="621.9" x2="254.5" y2="724.4" stroke="#000" stroke-width="2.5"/>
<line x1="439.2" y1="621.4" x2="439.2" y2="666.4" stroke="#000" stroke-width="2.5"/>
<line x1="262" y1="641.6" x2="432" y2="641.6" stroke="#000" stroke-width="2.2"/>
<polygon points="254.5,641.6 266.5,637.9 266.5,645.3" fill="#000"/>
<polygon points="439.2,641.6 427.2,637.9 427.2,645.3" fill="#000"/>
<line x1="246.8" y1="845.7" x2="246.8" y2="938.2" stroke="#000" stroke-width="2.5"/>
<line x1="425.4" y1="845.7" x2="425.4" y2="890.3" stroke="#000" stroke-width="2.5"/>
<line x1="254" y1="863.5" x2="418" y2="863.5" stroke="#000" stroke-width="2.2"/>
<polygon points="246.8,863.5 258.8,859.8 258.8,867.2" fill="#000"/>
<polygon points="425.4,863.5 413.4,859.8 413.4,867.2" fill="#000"/>
<text x="278" y="632.8" font-size="24" font-weight="bold" text-anchor="start" fill="#000" font-family="'Liberation Sans', Arial, sans-serif"><tspan font-weight="normal">Δ</tspan>Es=4.94eV</text>
<text x="271.7" y="854.6" font-size="24" font-weight="bold" text-anchor="start" fill="#000" font-family="'Liberation Sans', Arial, sans-serif"><tspan font-weight="normal">Δ</tspan>Es=4.61eV</text>
<text x="619" y="702.3" font-size="24" font-weight="bold" text-anchor="end" fill="#ff0000" font-family="'Liberation Sans', Arial, sans-serif">AOS=3.39</text>
<text x="619" y="937.3" font-size="24" font-weight="bold" text-anchor="end" fill="#ff0000" font-family="'Liberation Sans', Arial, sans-serif">AOS=3.76</text>
<text x="613.5" y="590.2" font-size="30.3" font-weight="bold" text-anchor="end" fill="#000" font-family="'Liberation Sans', Arial, sans-serif">Mn 3s</text>
<text x="76.3" y="606.8" font-size="24" font-weight="bold" text-anchor="start" fill="#000" font-family="'Liberation Sans', Arial, sans-serif">7.50% MnO<tspan font-size="17.3" font-weight="normal">2</tspan><tspan font-weight="normal">@</tspan>GR</text>
<text x="75.6" y="893.6" font-size="24" font-weight="bold" text-anchor="start" fill="#000" font-family="'Liberation Sans', Arial, sans-serif"><tspan font-family="'Liberation Serif', 'Times New Roman', serif" font-weight="normal">α</tspan>-MnO<tspan font-size="17.8">2</tspan></text>
<rect x="67" y="559.5" width="561.2" height="477.2" fill="none" stroke="#000" stroke-width="3"/>
<line x1="67" y1="1036.7" x2="67" y2="1046.7" stroke="#000" stroke-width="3"/>
<line x1="141.9" y1="1036.7" x2="141.9" y2="1046.7" stroke="#000" stroke-width="3"/>
<line x1="216.9" y1="1036.7" x2="216.9" y2="1046.7" stroke="#000" stroke-width="3"/>
<line x1="291.8" y1="1036.7" x2="291.8" y2="1046.7" stroke="#000" stroke-width="3"/>
<line x1="366.8" y1="1036.7" x2="366.8" y2="1046.7" stroke="#000" stroke-width="3"/>
<line x1="441.7" y1="1036.7" x2="441.7" y2="1046.7" stroke="#000" stroke-width="3"/>
<line x1="516.6" y1="1036.7" x2="516.6" y2="1046.7" stroke="#000" stroke-width="3"/>
<line x1="591.6" y1="1036.7" x2="591.6" y2="1046.7" stroke="#000" stroke-width="3"/>
<line x1="104.5" y1="1036.7" x2="104.5" y2="1042.7" stroke="#000" stroke-width="3"/>
<line x1="179.4" y1="1036.7" x2="179.4" y2="1042.7" stroke="#000" stroke-width="3"/>
<line x1="254.3" y1="1036.7" x2="254.3" y2="1042.7" stroke="#000" stroke-width="3"/>
<line x1="329.3" y1="1036.7" x2="329.3" y2="1042.7" stroke="#000" stroke-width="3"/>
<line x1="404.2" y1="1036.7" x2="404.2" y2="1042.7" stroke="#000" stroke-width="3"/>
<line x1="479.2" y1="1036.7" x2="479.2" y2="1042.7" stroke="#000" stroke-width="3"/>
<line x1="554.1" y1="1036.7" x2="554.1" y2="1042.7" stroke="#000" stroke-width="3"/>
<line x1="629" y1="1036.7" x2="629" y2="1042.7" stroke="#000" stroke-width="3"/>
<text x="67" y="1073.8" font-size="26.5" font-weight="normal" text-anchor="middle" fill="#000" font-family="'Liberation Sans', Arial, sans-serif">94</text>
<text x="141.9" y="1073.8" font-size="26.5" font-weight="normal" text-anchor="middle" fill="#000" font-family="'Liberation Sans', Arial, sans-serif">92</text>
<text x="216.9" y="1073.8" font-size="26.5" font-weight="normal" text-anchor="middle" fill="#000" font-family="'Liberation Sans', Arial, sans-serif">90</text>
<text x="291.8" y="1073.8" font-size="26.5" font-weight="normal" text-anchor="middle" fill="#000" font-family="'Liberation Sans', Arial, sans-serif">88</text>
<text x="366.8" y="1073.8" font-size="26.5" font-weight="normal" text-anchor="middle" fill="#000" font-family="'Liberation Sans', Arial, sans-serif">86</text>
<text x="441.7" y="1073.8" font-size="26.5" font-weight="normal" text-anchor="middle" fill="#000" font-family="'Liberation Sans', Arial, sans-serif">84</text>
<text x="516.6" y="1073.8" font-size="26.5" font-weight="normal" text-anchor="middle" fill="#000" font-family="'Liberation Sans', Arial, sans-serif">82</text>
<text x="591.6" y="1073.8" font-size="26.5" font-weight="normal" text-anchor="middle" fill="#000" font-family="'Liberation Sans', Arial, sans-serif">80</text>
<text x="347.6" y="1105.7" font-size="28" font-weight="bold" text-anchor="middle" fill="#000" font-family="'Liberation Sans', Arial, sans-serif">Binding Energy (eV)</text>
<text x="48.8" y="808" font-size="28.8" font-weight="bold" text-anchor="middle" fill="#000" font-family="'Liberation Sans', Arial, sans-serif" transform="rotate(-90 48.8 808)">Intensity (a.u.)</text>
<polyline points="736,728.8 737,728.8 738,728.8 739,728.8 740,728.8 741,728.8 742,728.8 743,728.8 744,728.8 745,728.8 746,728.8 747,728.8 748,728.8 749,728.8 750,728.8 751,728.8 752,728.8 753,728.8 754,728.8 755,728.8 756,728.8 757,728.8 758,728.9 759,728.9 760,728.9 761,728.9 762,728.9 763,728.9 764,728.9 765,728.9 766,728.9 767,728.9 768,728.9 769,728.9 770,728.9 771,728.9 772,728.9 773,728.9 774,728.9 775,728.9 776,728.9 777,728.9 778,728.9 779,728.9 780,728.9 781,729 782,729 783,729 784,729 785,729 786,729 787,729 788,729 789,729 790,729 791,729 792,729 793,729 794,729 795,729.1 796,729.1 797,729.1 798,729.1 799,729.1 800,729.1 801,729.1 802,729.1 803,729.1 804,729.1 805,729.2 806,729.2 807,729.2 808,729.2 809,729.2 810,729.2 811,729.2 812,729.2 813,729.3 814,729.3 815,729.3 816,729.3 817,729.3 818,729.3 819,729.3 820,729.4 821,729.4 822,729.4 823,729.4 824,729.4 825,729.4 826,729.5 827,729.5 828,729.5 829,729.5 830,729.5 831,729.6 832,729.6 833,729.6 834,729.6 835,729.6 836,729.7 837,729.7 838,729.7 839,729.7 840,729.8 841,729.8 842,729.8 843,729.8 844,729.9 845,729.9 846,729.9 847,730 848,730 849,730 850,730 851,730.1 852,730.1 853,730.1 854,730.2 855,730.2 856,730.3 857,730.3 858,730.3 859,730.4 860,730.4 861,730.4 862,730.5 863,730.5 864,730.6 865,730.6 866,730.6 867,730.7 868,730.7 869,730.8 870,730.8 871,730.9 872,730.9 873,731 874,731 875,731.1 876,731.1 877,731.2 878,731.2 879,731.3 880,731.3 881,731.4 882,731.5 883,731.5 884,731.6 885,731.6 886,731.7 887,731.8 888,731.8 889,731.9 890,732 891,732 892,732.1 893,732.2 894,732.2 895,732.3 896,732.4 897,732.5 898,732.5 899,732.6 900,732.7 901,732.8 902,732.9 903,732.9 904,733 905,733.1 906,733.2 907,733.3 908,733.4 909,733.5 910,733.6 911,733.7 912,733.8 913,733.9 914,734 915,734.1 916,734.2 917,734.3 918,734.4 919,734.5 920,734.6 921,734.7 922,734.8 923,734.9 924,735 925,735.1 926,735.3 927,735.4 928,735.5 929,735.6 930,735.8 931,735.9 932,736 933,736.1 934,736.3 935,736.4 936,736.5 937,736.7 938,736.8 939,736.9 940,737.1 941,737.2 942,737.4 943,737.5 944,737.7 945,737.8 946,738 947,738.1 948,738.3 949,738.4 950,738.6 951,738.7 952,738.9 953,739.1 954,739.2 955,739.4 956,739.6 957,739.7 958,739.9 959,740.1 960,740.3 961,740.4 962,740.6 963,740.8 964,741 965,741.2 966,741.3 967,741.5 968,741.7 969,741.9 970,742.1 971,742.3 972,742.5 973,742.7 974,742.9 975,743.1 976,743.3 977,743.5 978,743.7 979,743.9 980,744.1 981,744.3 982,744.5 983,744.7 984,744.9 985,745.1 986,745.3 987,745.5 988,745.8 989,746 990,746.2 991,746.4 992,746.6 993,746.9 994,747.1 995,747.3 996,747.5 997,747.7 998,748 999,748.2 1000,748.4 1001,748.7 1002,748.9 1003,749.1 1004,749.3 1005,749.6 1006,749.8 1007,750 1008,750.3 1009,750.5 1010,750.7 1011,751 1012,751.2 1013,751.4 1014,751.7 1015,751.9 1016,752.1 1017,752.4 1018,752.6 1019,752.9 1020,753.1 1021,753.3 1022,753.6 1023,753.8 1024,754 1025,754.3 1026,754.5 1027,754.8 1028,755 1029,755.2 1030,755.5 1031,755.7 1032,755.9 1033,756.2 1034,756.4 1035,756.6 1036,756.9 1037,757.1 1038,757.3 1039,757.6 1040,757.8 1041,758 1042,758.3 1043,758.5 1044,758.7 1045,759 1046,759.2 1047,759.4 1048,759.6 1049,759.9 1050,760.1 1051,760.3 1052,760.5 1053,760.7 1054,761 1055,761.2 1056,761.4 1057,761.6 1058,761.8 1059,762 1060,762.3 1061,762.5 1062,762.7 1063,762.9 1064,763.1 1065,763.3 1066,763.5 1067,763.7 1068,763.9 1069,764.1 1070,764.3 1071,764.5 1072,764.7 1073,764.9 1074,765 1075,765.2 1076,765.4 1077,765.6 1078,765.8 1079,766 1080,766.1 1081,766.3 1082,766.5 1083,766.7 1084,766.8 1085,767 1086,767.2 1087,767.3 1088,767.5 1089,767.6 1090,767.8 1091,768 1092,768.1 1093,768.3 1094,768.4 1095,768.6 1096,768.7 1097,768.8 1098,769 1099,769.1 1100,769.3 1101,769.4 1102,769.5 1103,769.7 1104,769.8 1105,769.9 1106,770.1 1107,770.2 1108,770.3 1109,770.4 1110,770.5 1111,770.7 1112,770.8 1113,770.9 1114,771 1115,771.1 1116,771.2 1117,771.3 1118,771.4 1119,771.5 1120,771.6 1121,771.7 1122,771.8 1123,771.9 1124,772 1125,772.1 1126,772.2 1127,772.3 1128,772.3 1129,772.4 1130,772.5 1131,772.6 1132,772.7 1133,772.7 1134,772.8 1135,772.9 1136,773 1137,773 1138,773.1 1139,773.2 1140,773.2 1141,773.3 1142,773.4 1143,773.4 1144,773.5 1145,773.5 1146,773.6 1147,773.7 1148,773.7 1149,773.8 1150,773.8 1151,773.9 1152,773.9 1153,774 1154,774 1155,774.1 1156,774.1 1157,774.1 1158,774.2 1159,774.2 1160,774.3 1161,774.3 1162,774.4 1163,774.4 1164,774.4 1165,774.5 1166,774.5 1167,774.5 1168,774.6 1169,774.6 1170,774.6 1171,774.7 1172,774.7 1173,774.7 1174,774.7 1175,774.8 1176,774.8 1177,774.8 1178,774.9 1179,774.9 1180,774.9 1181,774.9 1182,774.9 1183,775 1184,775 1185,775 1186,775 1187,775 1188,775.1 1189,775.1 1190,775.1 1191,775.1 1192,775.1 1193,775.1 1194,775.2 1195,775.2 1196,775.2 1197,775.2 1198,775.2 1199,775.2 1200,775.2 1201,775.3 1202,775.3 1203,775.3 1204,775.3 1205,775.3 1206,775.3 1207,775.3 1208,775.3 1209,775.3 1210,775.4 1211,775.4 1212,775.4 1213,775.4 1214,775.4 1215,775.4 1216,775.4 1217,775.4 1218,775.4 1219,775.4 1220,775.4 1221,775.4 1222,775.4 1223,775.5 1224,775.5 1225,775.5 1226,775.5 1227,775.5 1228,775.5 1229,775.5 1230,775.5 1231,775.5 1232,775.5 1233,775.5 1234,775.5 1235,775.5 1236,775.5 1237,775.5 1238,775.5 1239,775.5 1240,775.5 1241,775.5 1242,775.5 1243,775.5 1244,775.5 1245,775.5 1246,775.5 1247,775.5 1248,775.5 1249,775.6 1250,775.6 1251,775.6 1252,775.6 1253,775.6 1254,775.6 1255,775.6 1256,775.6 1257,775.6 1258,775.6 1259,775.6 1260,775.6 1261,775.6 1262,775.6 1263,775.6 1264,775.6 1265,775.6 1266,775.6 1267,775.6 1268,775.6 1269,775.6 1270,775.6 1271,775.6 1272,775.6 1273,775.6 1274,775.6 1275,775.6 1276,775.6 1277,775.6 1278,775.6 1279,775.6 1280,775.6 1281,775.6 1282,775.6 1283,775.6 1284,775.6 1285,775.6 1286,775.6 1287,775.6 1288,775.6 1289,775.6 1290,775.6 1291,775.6 1292,775.6 1293,775.6 1294,775.6" fill="none" stroke="#7a7a7a" stroke-width="2.4" stroke-linejoin="round" stroke-linecap="round"/>
<polyline points="736,727.9 737,727.9 738,727.9 739,727.8 740,727.8 741,727.8 742,727.7 743,727.7 744,727.7 745,727.7 746,727.6 747,727.6 748,727.6 749,727.5 750,727.5 751,727.4 752,727.4 753,727.4 754,727.3 755,727.3 756,727.2 757,727.2 758,727.1 759,727.1 760,727.1 761,727 762,727 763,726.9 764,726.9 765,726.8 766,726.7 767,726.7 768,726.6 769,726.6 770,726.5 771,726.5 772,726.4 773,726.3 774,726.3 775,726.2 776,726.1 777,726.1 778,726 779,725.9 780,725.8 781,725.8 782,725.7 783,725.6 784,725.5 785,725.5 786,725.4 787,725.3 788,725.2 789,725.1 790,725 791,724.9 792,724.8 793,724.7 794,724.6 795,724.5 796,724.4 797,724.3 798,724.2 799,724.1 800,724 801,723.9 802,723.8 803,723.7 804,723.6 805,723.5 806,723.3 807,723.2 808,723.1 809,723 810,722.8 811,722.7 812,722.6 813,722.4 814,722.3 815,722.2 816,722 817,721.9 818,721.7 819,721.6 820,721.4 821,721.3 822,721.1 823,721 824,720.8 825,720.7 826,720.5 827,720.3 828,720.2 829,720 830,719.8 831,719.7 832,719.5 833,719.3 834,719.1 835,718.9 836,718.8 837,718.6 838,718.4 839,718.2 840,718 841,717.8 842,717.6 843,717.4 844,717.2 845,717 846,716.8 847,716.6 848,716.4 849,716.2 850,716 851,715.8 852,715.5 853,715.3 854,715.1 855,714.9 856,714.7 857,714.4 858,714.2 859,714 860,713.8 861,713.5 862,713.3 863,713.1 864,712.8 865,712.6 866,712.3 867,712.1 868,711.9 869,711.6 870,711.4 871,711.1 872,710.9 873,710.7 874,710.4 875,710.2 876,709.9 877,709.7 878,709.4 879,709.2 880,708.9 881,708.7 882,708.4 883,708.2 884,707.9 885,707.7 886,707.4 887,707.2 888,706.9 889,706.7 890,706.4 891,706.1 892,705.9 893,705.6 894,705.4 895,705.2 896,704.9 897,704.7 898,704.4 899,704.2 900,703.9 901,703.7 902,703.4 903,703.2 904,703 905,702.7 906,702.5 907,702.2 908,702 909,701.8 910,701.6 911,701.3 912,701.1 913,700.9 914,700.7 915,700.4 916,700.2 917,700 918,699.8 919,699.6 920,699.4 921,699.2 922,699 923,698.8 924,698.6 925,698.4 926,698.3 927,698.1 928,697.9 929,697.7 930,697.6 931,697.4 932,697.2 933,697.1 934,696.9 935,696.8 936,696.7 937,696.5 938,696.4 939,696.3 940,696.1 941,696 942,695.9 943,695.8 944,695.7 945,695.6 946,695.5 947,695.4 948,695.3 949,695.3 950,695.2 951,695.1 952,695.1 953,695 954,695 955,695 956,694.9 957,694.9 958,694.9 959,694.9 960,694.9 961,694.9 962,694.9 963,694.9 964,694.9 965,694.9 966,694.9 967,695 968,695 969,695.1 970,695.1 971,695.2 972,695.3 973,695.4 974,695.5 975,695.5 976,695.6 977,695.8 978,695.9 979,696 980,696.1 981,696.3 982,696.4 983,696.6 984,696.7 985,696.9 986,697.1 987,697.2 988,697.4 989,697.6 990,697.8 991,698 992,698.2 993,698.5 994,698.7 995,698.9 996,699.2 997,699.4 998,699.7 999,699.9 1000,700.2 1001,700.5 1002,700.8 1003,701 1004,701.3 1005,701.6 1006,701.9 1007,702.3 1008,702.6 1009,702.9 1010,703.2 1011,703.6 1012,703.9 1013,704.3 1014,704.6 1015,705 1016,705.4 1017,705.7 1018,706.1 1019,706.5 1020,706.9 1021,707.3 1022,707.7 1023,708.1 1024,708.5 1025,708.9 1026,709.3 1027,709.8 1028,710.2 1029,710.6 1030,711.1 1031,711.5 1032,711.9 1033,712.4 1034,712.8 1035,713.3 1036,713.8 1037,714.2 1038,714.7 1039,715.2 1040,715.6 1041,716.1 1042,716.6 1043,717.1 1044,717.6 1045,718.1 1046,718.6 1047,719 1048,719.5 1049,720 1050,720.5 1051,721 1052,721.5 1053,722 1054,722.6 1055,723.1 1056,723.6 1057,724.1 1058,724.6 1059,725.1 1060,725.6 1061,726.1 1062,726.6 1063,727.1 1064,727.7 1065,728.2 1066,728.7 1067,729.2 1068,729.7 1069,730.2 1070,730.7 1071,731.2 1072,731.8 1073,732.3 1074,732.8 1075,733.3 1076,733.8 1077,734.3 1078,734.8 1079,735.3 1080,735.8 1081,736.3 1082,736.8 1083,737.3 1084,737.8 1085,738.3 1086,738.8 1087,739.3 1088,739.7 1089,740.2 1090,740.7 1091,741.2 1092,741.7 1093,742.1 1094,742.6 1095,743.1 1096,743.5 1097,744 1098,744.4 1099,744.9 1100,745.3 1101,745.8 1102,746.2 1103,746.7 1104,747.1 1105,747.6 1106,748 1107,748.4 1108,748.8 1109,749.3 1110,749.7 1111,750.1 1112,750.5 1113,750.9 1114,751.3 1115,751.7 1116,752.1 1117,752.5 1118,752.9 1119,753.3 1120,753.6 1121,754 1122,754.4 1123,754.8 1124,755.1 1125,755.5 1126,755.8 1127,756.2 1128,756.5 1129,756.9 1130,757.2 1131,757.6 1132,757.9 1133,758.2 1134,758.5 1135,758.9 1136,759.2 1137,759.5 1138,759.8 1139,760.1 1140,760.4 1141,760.7 1142,761 1143,761.3 1144,761.5 1145,761.8 1146,762.1 1147,762.4 1148,762.6 1149,762.9 1150,763.1 1151,763.4 1152,763.7 1153,763.9 1154,764.1 1155,764.4 1156,764.6 1157,764.8 1158,765.1 1159,765.3 1160,765.5 1161,765.7 1162,766 1163,766.2 1164,766.4 1165,766.6 1166,766.8 1167,767 1168,767.2 1169,767.3 1170,767.5 1171,767.7 1172,767.9 1173,768.1 1174,768.2 1175,768.4 1176,768.6 1177,768.7 1178,768.9 1179,769.1 1180,769.2 1181,769.4 1182,769.5 1183,769.7 1184,769.8 1185,769.9 1186,770.1 1187,770.2 1188,770.4 1189,770.5 1190,770.6 1191,770.7 1192,770.9 1193,771 1194,771.1 1195,771.2 1196,771.3 1197,771.4 1198,771.5 1199,771.6 1200,771.7 1201,771.8 1202,771.9 1203,772 1204,772.1 1205,772.2 1206,772.3 1207,772.4 1208,772.5 1209,772.6 1210,772.6 1211,772.7 1212,772.8 1213,772.9 1214,773 1215,773 1216,773.1 1217,773.2 1218,773.2 1219,773.3 1220,773.4 1221,773.4 1222,773.5 1223,773.6 1224,773.6 1225,773.7 1226,773.7 1227,773.8 1228,773.8 1229,773.9 1230,773.9 1231,774 1232,774 1233,774.1 1234,774.1 1235,774.2 1236,774.2 1237,774.2 1238,774.3 1239,774.3 1240,774.4 1241,774.4 1242,774.4 1243,774.5 1244,774.5 1245,774.5 1246,774.6 1247,774.6 1248,774.6 1249,774.7 1250,774.7 1251,774.7 1252,774.8 1253,774.8 1254,774.8 1255,774.8 1256,774.9 1257,774.9 1258,774.9 1259,774.9 1260,775 1261,775 1262,775 1263,775 1264,775 1265,775.1 1266,775.1 1267,775.1 1268,775.1 1269,775.1 1270,775.1 1271,775.2 1272,775.2 1273,775.2 1274,775.2 1275,775.2 1276,775.2 1277,775.2 1278,775.3 1279,775.3 1280,775.3 1281,775.3 1282,775.3 1283,775.3 1284,775.3 1285,775.3 1286,775.3 1287,775.4 1288,775.4 1289,775.4 1290,775.4 1291,775.4 1292,775.4 1293,775.4 1294,775.4" fill="none" stroke="#73a9d8" stroke-width="3.8" stroke-linejoin="round" stroke-linecap="round"/>
<polyline points="736,728.8 737,728.8 738,728.8 739,728.8 740,728.8 741,728.8 742,728.8 743,728.8 744,728.8 745,728.8 746,728.8 747,728.8 748,728.8 749,728.8 750,728.8 751,728.8 752,728.8 753,728.8 754,728.8 755,728.8 756,728.8 757,728.8 758,728.8 759,728.8 760,728.8 761,728.8 762,728.8 763,728.8 764,728.8 765,728.8 766,728.8 767,728.8 768,728.8 769,728.8 770,728.8 771,728.8 772,728.8 773,728.8 774,728.8 775,728.8 776,728.8 777,728.8 778,728.8 779,728.7 780,728.7 781,728.7 782,728.7 783,728.7 784,728.7 785,728.7 786,728.7 787,728.7 788,728.7 789,728.7 790,728.7 791,728.7 792,728.7 793,728.7 794,728.7 795,728.6 796,728.6 797,728.6 798,728.6 799,728.6 800,728.6 801,728.6 802,728.6 803,728.5 804,728.5 805,728.5 806,728.5 807,728.5 808,728.5 809,728.4 810,728.4 811,728.4 812,728.4 813,728.4 814,728.3 815,728.3 816,728.3 817,728.3 818,728.2 819,728.2 820,728.2 821,728.1 822,728.1 823,728.1 824,728 825,728 826,727.9 827,727.9 828,727.9 829,727.8 830,727.8 831,727.7 832,727.7 833,727.6 834,727.5 835,727.5 836,727.4 837,727.4 838,727.3 839,727.2 840,727.2 841,727.1 842,727 843,726.9 844,726.9 845,726.8 846,726.7 847,726.6 848,726.5 849,726.4 850,726.3 851,726.2 852,726.1 853,726 854,725.9 855,725.8 856,725.7 857,725.6 858,725.4 859,725.3 860,725.2 861,725 862,724.9 863,724.8 864,724.6 865,724.5 866,724.3 867,724.1 868,724 869,723.8 870,723.6 871,723.5 872,723.3 873,723.1 874,722.9 875,722.7 876,722.5 877,722.3 878,722.1 879,721.9 880,721.6 881,721.4 882,721.2 883,720.9 884,720.7 885,720.4 886,720.2 887,719.9 888,719.6 889,719.4 890,719.1 891,718.8 892,718.5 893,718.2 894,717.9 895,717.6 896,717.3 897,716.9 898,716.6 899,716.3 900,715.9 901,715.6 902,715.2 903,714.9 904,714.5 905,714.1 906,713.8 907,713.4 908,713 909,712.6 910,712.2 911,711.8 912,711.3 913,710.9 914,710.5 915,710 916,709.6 917,709.2 918,708.7 919,708.2 920,707.8 921,707.3 922,706.8 923,706.3 924,705.9 925,705.4 926,704.9 927,704.3 928,703.8 929,703.3 930,702.8 931,702.3 932,701.7 933,701.2 934,700.7 935,700.1 936,699.6 937,699 938,698.5 939,697.9 940,697.4 941,696.8 942,696.2 943,695.6 944,695.1 945,694.5 946,693.9 947,693.3 948,692.7 949,692.2 950,691.6 951,691 952,690.4 953,689.8 954,689.2 955,688.6 956,688 957,687.4 958,686.9 959,686.3 960,685.7 961,685.1 962,684.5 963,683.9 964,683.3 965,682.8 966,682.2 967,681.6 968,681 969,680.5 970,679.9 971,679.4 972,678.8 973,678.3 974,677.7 975,677.2 976,676.7 977,676.1 978,675.6 979,675.1 980,674.6 981,674.1 982,673.6 983,673.1 984,672.7 985,672.2 986,671.7 987,671.3 988,670.8 989,670.4 990,670 991,669.6 992,669.2 993,668.8 994,668.4 995,668.1 996,667.7 997,667.4 998,667.1 999,666.8 1000,666.5 1001,666.2 1002,665.9 1003,665.6 1004,665.4 1005,665.1 1006,664.9 1007,664.7 1008,664.5 1009,664.4 1010,664.2 1011,664.1 1012,663.9 1013,663.8 1014,663.7 1015,663.6 1016,663.6 1017,663.5 1018,663.5 1019,663.5 1020,663.5 1021,663.5 1022,663.5 1023,663.6 1024,663.6 1025,663.7 1026,663.8 1027,663.9 1028,664.1 1029,664.2 1030,664.4 1031,664.6 1032,664.8 1033,665 1034,665.2 1035,665.5 1036,665.7 1037,666 1038,666.4 1039,666.7 1040,667 1041,667.4 1042,667.8 1043,668.2 1044,668.7 1045,669.1 1046,669.6 1047,670.1 1048,670.6 1049,671.1 1050,671.7 1051,672.2 1052,672.8 1053,673.4 1054,674 1055,674.7 1056,675.3 1057,676 1058,676.7 1059,677.4 1060,678.1 1061,678.8 1062,679.6 1063,680.3 1064,681.1 1065,681.9 1066,682.7 1067,683.5 1068,684.3 1069,685.1 1070,686 1071,686.8 1072,687.7 1073,688.5 1074,689.4 1075,690.3 1076,691.2 1077,692.1 1078,693 1079,694 1080,694.9 1081,695.8 1082,696.8 1083,697.7 1084,698.7 1085,699.6 1086,700.6 1087,701.6 1088,702.5 1089,703.5 1090,704.5 1091,705.4 1092,706.4 1093,707.4 1094,708.4 1095,709.4 1096,710.3 1097,711.3 1098,712.3 1099,713.3 1100,714.2 1101,715.2 1102,716.2 1103,717.1 1104,718.1 1105,719.1 1106,720 1107,721 1108,721.9 1109,722.9 1110,723.8 1111,724.7 1112,725.7 1113,726.6 1114,727.5 1115,728.4 1116,729.3 1117,730.2 1118,731.1 1119,731.9 1120,732.8 1121,733.7 1122,734.5 1123,735.4 1124,736.2 1125,737 1126,737.8 1127,738.7 1128,739.5 1129,740.2 1130,741 1131,741.8 1132,742.6 1133,743.3 1134,744 1135,744.8 1136,745.5 1137,746.2 1138,746.9 1139,747.6 1140,748.3 1141,748.9 1142,749.6 1143,750.2 1144,750.9 1145,751.5 1146,752.1 1147,752.7 1148,753.3 1149,753.9 1150,754.5 1151,755 1152,755.6 1153,756.1 1154,756.6 1155,757.2 1156,757.7 1157,758.2 1158,758.7 1159,759.1 1160,759.6 1161,760.1 1162,760.5 1163,761 1164,761.4 1165,761.8 1166,762.2 1167,762.6 1168,763 1169,763.4 1170,763.8 1171,764.1 1172,764.5 1173,764.8 1174,765.2 1175,765.5 1176,765.8 1177,766.1 1178,766.5 1179,766.7 1180,767 1181,767.3 1182,767.6 1183,767.9 1184,768.1 1185,768.4 1186,768.6 1187,768.9 1188,769.1 1189,769.3 1190,769.5 1191,769.8 1192,770 1193,770.2 1194,770.4 1195,770.5 1196,770.7 1197,770.9 1198,771.1 1199,771.2 1200,771.4 1201,771.6 1202,771.7 1203,771.9 1204,772 1205,772.1 1206,772.3 1207,772.4 1208,772.5 1209,772.6 1210,772.8 1211,772.9 1212,773 1213,773.1 1214,773.2 1215,773.3 1216,773.4 1217,773.5 1218,773.6 1219,773.6 1220,773.7 1221,773.8 1222,773.9 1223,773.9 1224,774 1225,774.1 1226,774.1 1227,774.2 1228,774.3 1229,774.3 1230,774.4 1231,774.4 1232,774.5 1233,774.5 1234,774.6 1235,774.6 1236,774.7 1237,774.7 1238,774.8 1239,774.8 1240,774.8 1241,774.9 1242,774.9 1243,774.9 1244,775 1245,775 1246,775 1247,775 1248,775.1 1249,775.1 1250,775.1 1251,775.1 1252,775.2 1253,775.2 1254,775.2 1255,775.2 1256,775.2 1257,775.3 1258,775.3 1259,775.3 1260,775.3 1261,775.3 1262,775.3 1263,775.4 1264,775.4 1265,775.4 1266,775.4 1267,775.4 1268,775.4 1269,775.4 1270,775.4 1271,775.4 1272,775.4 1273,775.5 1274,775.5 1275,775.5 1276,775.5 1277,775.5 1278,775.5 1279,775.5 1280,775.5 1281,775.5 1282,775.5 1283,775.5 1284,775.5 1285,775.5 1286,775.5 1287,775.5 1288,775.5 1289,775.5 1290,775.5 1291,775.6 1292,775.6 1293,775.6 1294,775.6" fill="none" stroke="#f2926e" stroke-width="3.8" stroke-linejoin="round" stroke-linecap="round"/>
<polyline points="736,727.2 742.9,723.4 753.2,727.1 760.3,727.2 766.4,727.3 775.7,724.9 783.9,724.6 790.6,724.5 800.9,721.9 806.5,724 815.6,721.4 824.1,714.6 831.7,712.2 840.3,710.1 849,707.8 857.8,702.8 863.1,703.7 872.6,699.6 880.8,697.5 887.2,692.9 894,690.3 905.9,684.5 911.2,678.1 919.3,670.6 929.6,665.5 936.3,660.4 943.9,661 953.1,648.9 958.1,646.2 968.8,633.4 975.5,632.8 982.4,625.7 992.6,622 1001.7,615.6 1006.8,619.3 1016.5,612.4 1023.2,615.2 1033,617 1040.9,626.4 1046.9,628.5 1057.3,641.2 1064.6,645.9 1072.7,661.4 1081.3,664.8 1087.7,677.2 1097,679.8 1105.5,694.8 1110.4,699.1 1121.4,717.8 1127.6,719.1 1135.9,734.4 1142.6,738 1152.8,746.7 1159.2,748.6 1169.5,757.3 1175.1,758.8 1184.2,764.1 1191.6,767.8 1200.5,767.8 1206.8,769.3 1214.7,773 1225,773.4 1233,775.7 1240.3,773 1249.7,774.1 1254.8,773 1265.4,774.6 1270.7,776.6 1281.9,777.8 1294,774.5" fill="none" stroke="#000" stroke-width="3.4" stroke-linejoin="round" stroke-linecap="round"/>
<polyline points="736,727.9 737,727.9 738,727.8 739,727.8 740,727.8 741,727.8 742,727.7 743,727.7 744,727.7 745,727.6 746,727.6 747,727.5 748,727.5 749,727.5 750,727.4 751,727.4 752,727.4 753,727.3 754,727.3 755,727.2 756,727.2 757,727.1 758,727.1 759,727 760,727 761,726.9 762,726.9 763,726.8 764,726.8 765,726.7 766,726.6 767,726.6 768,726.5 769,726.5 770,726.4 771,726.3 772,726.3 773,726.2 774,726.1 775,726 776,726 777,725.9 778,725.8 779,725.7 780,725.6 781,725.6 782,725.5 783,725.4 784,725.3 785,725.2 786,725.1 787,725 788,724.9 789,724.8 790,724.7 791,724.6 792,724.5 793,724.4 794,724.3 795,724.1 796,724 797,723.9 798,723.8 799,723.6 800,723.5 801,723.4 802,723.2 803,723.1 804,723 805,722.8 806,722.7 807,722.5 808,722.4 809,722.2 810,722 811,721.9 812,721.7 813,721.5 814,721.4 815,721.2 816,721 817,720.8 818,720.6 819,720.4 820,720.2 821,720 822,719.8 823,719.6 824,719.4 825,719.2 826,719 827,718.7 828,718.5 829,718.3 830,718 831,717.8 832,717.6 833,717.3 834,717 835,716.8 836,716.5 837,716.2 838,716 839,715.7 840,715.4 841,715.1 842,714.8 843,714.5 844,714.2 845,713.9 846,713.6 847,713.3 848,712.9 849,712.6 850,712.3 851,711.9 852,711.6 853,711.2 854,710.8 855,710.5 856,710.1 857,709.7 858,709.3 859,708.9 860,708.5 861,708.1 862,707.7 863,707.3 864,706.9 865,706.4 866,706 867,705.6 868,705.1 869,704.7 870,704.2 871,703.7 872,703.3 873,702.8 874,702.3 875,701.8 876,701.3 877,700.8 878,700.3 879,699.7 880,699.2 881,698.7 882,698.1 883,697.6 884,697 885,696.4 886,695.9 887,695.3 888,694.7 889,694.1 890,693.5 891,692.9 892,692.3 893,691.7 894,691.1 895,690.4 896,689.8 897,689.1 898,688.5 899,687.8 900,687.2 901,686.5 902,685.8 903,685.1 904,684.4 905,683.7 906,683 907,682.3 908,681.6 909,680.9 910,680.2 911,679.4 912,678.7 913,677.9 914,677.2 915,676.4 916,675.7 917,674.9 918,674.1 919,673.4 920,672.6 921,671.8 922,671 923,670.2 924,669.4 925,668.7 926,667.8 927,667 928,666.2 929,665.4 930,664.6 931,663.8 932,663 933,662.2 934,661.3 935,660.5 936,659.7 937,658.9 938,658.1 939,657.2 940,656.4 941,655.6 942,654.8 943,653.9 944,653.1 945,652.3 946,651.5 947,650.6 948,649.8 949,649 950,648.2 951,647.4 952,646.6 953,645.8 954,645 955,644.2 956,643.4 957,642.6 958,641.8 959,641 960,640.3 961,639.5 962,638.8 963,638 964,637.3 965,636.5 966,635.8 967,635.1 968,634.4 969,633.7 970,633 971,632.3 972,631.6 973,631 974,630.3 975,629.7 976,629 977,628.4 978,627.8 979,627.2 980,626.6 981,626.1 982,625.5 983,625 984,624.5 985,623.9 986,623.5 987,623 988,622.5 989,622.1 990,621.6 991,621.2 992,620.8 993,620.4 994,620.1 995,619.7 996,619.4 997,619.1 998,618.8 999,618.5 1000,618.2 1001,618 1002,617.8 1003,617.6 1004,617.4 1005,617.2 1006,617.1 1007,616.9 1008,616.8 1009,616.8 1010,616.7 1011,616.7 1012,616.6 1013,616.6 1014,616.7 1015,616.7 1016,616.8 1017,616.9 1018,617 1019,617.1 1020,617.3 1021,617.4 1022,617.6 1023,617.8 1024,618.1 1025,618.3 1026,618.6 1027,618.9 1028,619.2 1029,619.6 1030,620 1031,620.4 1032,620.8 1033,621.2 1034,621.7 1035,622.1 1036,622.6 1037,623.2 1038,623.7 1039,624.3 1040,624.9 1041,625.5 1042,626.2 1043,626.8 1044,627.5 1045,628.2 1046,629 1047,629.7 1048,630.5 1049,631.3 1050,632.1 1051,633 1052,633.8 1053,634.7 1054,635.6 1055,636.5 1056,637.5 1057,638.5 1058,639.4 1059,640.4 1060,641.4 1061,642.5 1062,643.5 1063,644.6 1064,645.7 1065,646.7 1066,647.8 1067,649 1068,650.1 1069,651.2 1070,652.4 1071,653.6 1072,654.8 1073,656 1074,657.2 1075,658.4 1076,659.6 1077,660.8 1078,662.1 1079,663.3 1080,664.6 1081,665.8 1082,667.1 1083,668.4 1084,669.6 1085,670.9 1086,672.2 1087,673.5 1088,674.8 1089,676.1 1090,677.4 1091,678.7 1092,680 1093,681.3 1094,682.6 1095,683.9 1096,685.2 1097,686.4 1098,687.7 1099,689 1100,690.3 1101,691.6 1102,692.9 1103,694.2 1104,695.4 1105,696.7 1106,698 1107,699.2 1108,700.5 1109,701.7 1110,702.9 1111,704.2 1112,705.4 1113,706.6 1114,707.8 1115,709 1116,710.2 1117,711.4 1118,712.5 1119,713.7 1120,714.8 1121,716 1122,717.1 1123,718.2 1124,719.3 1125,720.4 1126,721.5 1127,722.6 1128,723.7 1129,724.7 1130,725.7 1131,726.8 1132,727.8 1133,728.8 1134,729.8 1135,730.7 1136,731.7 1137,732.6 1138,733.6 1139,734.5 1140,735.4 1141,736.3 1142,737.2 1143,738.1 1144,738.9 1145,739.8 1146,740.6 1147,741.4 1148,742.2 1149,743 1150,743.8 1151,744.6 1152,745.3 1153,746.1 1154,746.8 1155,747.5 1156,748.2 1157,748.9 1158,749.5 1159,750.2 1160,750.9 1161,751.5 1162,752.1 1163,752.7 1164,753.3 1165,753.9 1166,754.5 1167,755.1 1168,755.6 1169,756.1 1170,756.7 1171,757.2 1172,757.7 1173,758.2 1174,758.7 1175,759.2 1176,759.6 1177,760.1 1178,760.5 1179,760.9 1180,761.4 1181,761.8 1182,762.2 1183,762.6 1184,762.9 1185,763.3 1186,763.7 1187,764 1188,764.4 1189,764.7 1190,765 1191,765.4 1192,765.7 1193,766 1194,766.3 1195,766.6 1196,766.8 1197,767.1 1198,767.4 1199,767.6 1200,767.9 1201,768.1 1202,768.4 1203,768.6 1204,768.8 1205,769 1206,769.3 1207,769.5 1208,769.7 1209,769.9 1210,770 1211,770.2 1212,770.4 1213,770.6 1214,770.7 1215,770.9 1216,771.1 1217,771.2 1218,771.4 1219,771.5 1220,771.7 1221,771.8 1222,771.9 1223,772 1224,772.2 1225,772.3 1226,772.4 1227,772.5 1228,772.6 1229,772.7 1230,772.8 1231,772.9 1232,773 1233,773.1 1234,773.2 1235,773.3 1236,773.4 1237,773.4 1238,773.5 1239,773.6 1240,773.7 1241,773.7 1242,773.8 1243,773.9 1244,773.9 1245,774 1246,774.1 1247,774.1 1248,774.2 1249,774.2 1250,774.3 1251,774.3 1252,774.4 1253,774.4 1254,774.5 1255,774.5 1256,774.5 1257,774.6 1258,774.6 1259,774.7 1260,774.7 1261,774.7 1262,774.8 1263,774.8 1264,774.8 1265,774.9 1266,774.9 1267,774.9 1268,774.9 1269,775 1270,775 1271,775 1272,775 1273,775.1 1274,775.1 1275,775.1 1276,775.1 1277,775.1 1278,775.2 1279,775.2 1280,775.2 1281,775.2 1282,775.2 1283,775.2 1284,775.3 1285,775.3 1286,775.3 1287,775.3 1288,775.3 1289,775.3 1290,775.3 1291,775.3 1292,775.4 1293,775.4 1294,775.4" fill="none" stroke="#118080" stroke-width="2.8" stroke-linejoin="round" stroke-linecap="round"/>
<polyline points="736,958.3 737,958.3 738,958.3 739,958.3 740,958.3 741,958.3 742,958.3 743,958.3 744,958.3 745,958.3 746,958.3 747,958.3 748,958.3 749,958.3 750,958.3 751,958.4 752,958.4 753,958.4 754,958.4 755,958.4 756,958.4 757,958.4 758,958.4 759,958.4 760,958.4 761,958.4 762,958.4 763,958.4 764,958.4 765,958.4 766,958.4 767,958.4 768,958.4 769,958.4 770,958.5 771,958.5 772,958.5 773,958.5 774,958.5 775,958.5 776,958.5 777,958.5 778,958.5 779,958.5 780,958.5 781,958.5 782,958.6 783,958.6 784,958.6 785,958.6 786,958.6 787,958.6 788,958.6 789,958.6 790,958.7 791,958.7 792,958.7 793,958.7 794,958.7 795,958.7 796,958.7 797,958.7 798,958.8 799,958.8 800,958.8 801,958.8 802,958.8 803,958.8 804,958.9 805,958.9 806,958.9 807,958.9 808,958.9 809,959 810,959 811,959 812,959 813,959 814,959.1 815,959.1 816,959.1 817,959.1 818,959.2 819,959.2 820,959.2 821,959.2 822,959.3 823,959.3 824,959.3 825,959.3 826,959.4 827,959.4 828,959.4 829,959.5 830,959.5 831,959.5 832,959.6 833,959.6 834,959.6 835,959.7 836,959.7 837,959.7 838,959.8 839,959.8 840,959.9 841,959.9 842,959.9 843,960 844,960 845,960.1 846,960.1 847,960.1 848,960.2 849,960.2 850,960.3 851,960.3 852,960.4 853,960.4 854,960.5 855,960.5 856,960.6 857,960.6 858,960.7 859,960.8 860,960.8 861,960.9 862,960.9 863,961 864,961 865,961.1 866,961.2 867,961.2 868,961.3 869,961.4 870,961.4 871,961.5 872,961.6 873,961.6 874,961.7 875,961.8 876,961.8 877,961.9 878,962 879,962.1 880,962.1 881,962.2 882,962.3 883,962.4 884,962.5 885,962.6 886,962.6 887,962.7 888,962.8 889,962.9 890,963 891,963.1 892,963.2 893,963.3 894,963.4 895,963.5 896,963.5 897,963.6 898,963.7 899,963.8 900,963.9 901,964.1 902,964.2 903,964.3 904,964.4 905,964.5 906,964.6 907,964.7 908,964.8 909,964.9 910,965 911,965.2 912,965.3 913,965.4 914,965.5 915,965.6 916,965.8 917,965.9 918,966 919,966.1 920,966.3 921,966.4 922,966.5 923,966.7 924,966.8 925,966.9 926,967.1 927,967.2 928,967.4 929,967.5 930,967.6 931,967.8 932,967.9 933,968.1 934,968.2 935,968.4 936,968.5 937,968.7 938,968.8 939,969 940,969.2 941,969.3 942,969.5 943,969.7 944,969.8 945,970 946,970.2 947,970.3 948,970.5 949,970.7 950,970.8 951,971 952,971.2 953,971.4 954,971.6 955,971.7 956,971.9 957,972.1 958,972.3 959,972.5 960,972.7 961,972.9 962,973.1 963,973.3 964,973.5 965,973.7 966,973.9 967,974.1 968,974.3 969,974.5 970,974.7 971,974.9 972,975.1 973,975.3 974,975.5 975,975.7 976,975.9 977,976.2 978,976.4 979,976.6 980,976.8 981,977 982,977.3 983,977.5 984,977.7 985,977.9 986,978.2 987,978.4 988,978.6 989,978.9 990,979.1 991,979.3 992,979.6 993,979.8 994,980 995,980.3 996,980.5 997,980.7 998,981 999,981.2 1000,981.5 1001,981.7 1002,982 1003,982.2 1004,982.4 1005,982.7 1006,982.9 1007,983.2 1008,983.4 1009,983.7 1010,983.9 1011,984.2 1012,984.4 1013,984.7 1014,984.9 1015,985.2 1016,985.4 1017,985.7 1018,985.9 1019,986.1 1020,986.4 1021,986.6 1022,986.9 1023,987.1 1024,987.4 1025,987.6 1026,987.9 1027,988.1 1028,988.4 1029,988.6 1030,988.8 1031,989.1 1032,989.3 1033,989.6 1034,989.8 1035,990 1036,990.3 1037,990.5 1038,990.7 1039,991 1040,991.2 1041,991.4 1042,991.7 1043,991.9 1044,992.1 1045,992.4 1046,992.6 1047,992.8 1048,993 1049,993.2 1050,993.4 1051,993.7 1052,993.9 1053,994.1 1054,994.3 1055,994.5 1056,994.7 1057,994.9 1058,995.1 1059,995.3 1060,995.5 1061,995.7 1062,995.9 1063,996.1 1064,996.3 1065,996.5 1066,996.6 1067,996.8 1068,997 1069,997.2 1070,997.3 1071,997.5 1072,997.7 1073,997.9 1074,998 1075,998.2 1076,998.3 1077,998.5 1078,998.6 1079,998.8 1080,999 1081,999.1 1082,999.2 1083,999.4 1084,999.5 1085,999.7 1086,999.8 1087,999.9 1088,1000.1 1089,1000.2 1090,1000.3 1091,1000.4 1092,1000.6 1093,1000.7 1094,1000.8 1095,1000.9 1096,1001 1097,1001.1 1098,1001.3 1099,1001.4 1100,1001.5 1101,1001.6 1102,1001.7 1103,1001.8 1104,1001.9 1105,1002 1106,1002.1 1107,1002.1 1108,1002.2 1109,1002.3 1110,1002.4 1111,1002.5 1112,1002.6 1113,1002.6 1114,1002.7 1115,1002.8 1116,1002.9 1117,1002.9 1118,1003 1119,1003.1 1120,1003.2 1121,1003.2 1122,1003.3 1123,1003.4 1124,1003.4 1125,1003.5 1126,1003.5 1127,1003.6 1128,1003.6 1129,1003.7 1130,1003.8 1131,1003.8 1132,1003.9 1133,1003.9 1134,1004 1135,1004 1136,1004 1137,1004.1 1138,1004.1 1139,1004.2 1140,1004.2 1141,1004.3 1142,1004.3 1143,1004.3 1144,1004.4 1145,1004.4 1146,1004.5 1147,1004.5 1148,1004.5 1149,1004.6 1150,1004.6 1151,1004.6 1152,1004.6 1153,1004.7 1154,1004.7 1155,1004.7 1156,1004.8 1157,1004.8 1158,1004.8 1159,1004.8 1160,1004.9 1161,1004.9 1162,1004.9 1163,1004.9 1164,1005 1165,1005 1166,1005 1167,1005 1168,1005 1169,1005.1 1170,1005.1 1171,1005.1 1172,1005.1 1173,1005.1 1174,1005.2 1175,1005.2 1176,1005.2 1177,1005.2 1178,1005.2 1179,1005.2 1180,1005.2 1181,1005.3 1182,1005.3 1183,1005.3 1184,1005.3 1185,1005.3 1186,1005.3 1187,1005.3 1188,1005.3 1189,1005.4 1190,1005.4 1191,1005.4 1192,1005.4 1193,1005.4 1194,1005.4 1195,1005.4 1196,1005.4 1197,1005.4 1198,1005.4 1199,1005.5 1200,1005.5 1201,1005.5 1202,1005.5 1203,1005.5 1204,1005.5 1205,1005.5 1206,1005.5 1207,1005.5 1208,1005.5 1209,1005.5 1210,1005.5 1211,1005.5 1212,1005.5 1213,1005.5 1214,1005.6 1215,1005.6 1216,1005.6 1217,1005.6 1218,1005.6 1219,1005.6 1220,1005.6 1221,1005.6 1222,1005.6 1223,1005.6 1224,1005.6 1225,1005.6 1226,1005.6 1227,1005.6 1228,1005.6 1229,1005.6 1230,1005.6 1231,1005.6 1232,1005.6 1233,1005.6 1234,1005.6 1235,1005.6 1236,1005.6 1237,1005.6 1238,1005.6 1239,1005.6 1240,1005.6 1241,1005.6 1242,1005.7 1243,1005.7 1244,1005.7 1245,1005.7 1246,1005.7 1247,1005.7 1248,1005.7 1249,1005.7 1250,1005.7 1251,1005.7 1252,1005.7 1253,1005.7 1254,1005.7 1255,1005.7 1256,1005.7 1257,1005.7 1258,1005.7 1259,1005.7 1260,1005.7 1261,1005.7 1262,1005.7 1263,1005.7 1264,1005.7 1265,1005.7 1266,1005.7 1267,1005.7 1268,1005.7 1269,1005.7 1270,1005.7 1271,1005.7 1272,1005.7 1273,1005.7 1274,1005.7 1275,1005.7 1276,1005.7 1277,1005.7 1278,1005.7 1279,1005.7 1280,1005.7 1281,1005.7 1282,1005.7 1283,1005.7 1284,1005.7 1285,1005.7 1286,1005.7 1287,1005.7 1288,1005.7 1289,1005.7 1290,1005.7 1291,1005.7 1292,1005.7 1293,1005.7 1294,1005.7" fill="none" stroke="#7a7a7a" stroke-width="2.4" stroke-linejoin="round" stroke-linecap="round"/>
<polyline points="736,956.8 737,956.7 738,956.7 739,956.6 740,956.6 741,956.5 742,956.5 743,956.4 744,956.3 745,956.3 746,956.2 747,956.1 748,956.1 749,956 750,955.9 751,955.9 752,955.8 753,955.7 754,955.6 755,955.5 756,955.5 757,955.4 758,955.3 759,955.2 760,955.1 761,955 762,954.9 763,954.8 764,954.7 765,954.6 766,954.5 767,954.4 768,954.3 769,954.2 770,954 771,953.9 772,953.8 773,953.7 774,953.5 775,953.4 776,953.3 777,953.1 778,953 779,952.8 780,952.7 781,952.5 782,952.4 783,952.2 784,952 785,951.9 786,951.7 787,951.5 788,951.4 789,951.2 790,951 791,950.8 792,950.6 793,950.4 794,950.2 795,950 796,949.8 797,949.6 798,949.3 799,949.1 800,948.9 801,948.7 802,948.4 803,948.2 804,947.9 805,947.7 806,947.4 807,947.2 808,946.9 809,946.6 810,946.4 811,946.1 812,945.8 813,945.5 814,945.2 815,944.9 816,944.6 817,944.3 818,944 819,943.7 820,943.4 821,943 822,942.7 823,942.4 824,942 825,941.7 826,941.3 827,940.9 828,940.6 829,940.2 830,939.8 831,939.4 832,939.1 833,938.7 834,938.3 835,937.9 836,937.5 837,937 838,936.6 839,936.2 840,935.8 841,935.3 842,934.9 843,934.5 844,934 845,933.6 846,933.1 847,932.6 848,932.2 849,931.7 850,931.2 851,930.7 852,930.2 853,929.7 854,929.2 855,928.7 856,928.2 857,927.7 858,927.2 859,926.7 860,926.1 861,925.6 862,925.1 863,924.5 864,924 865,923.4 866,922.9 867,922.3 868,921.8 869,921.2 870,920.6 871,920.1 872,919.5 873,918.9 874,918.3 875,917.8 876,917.2 877,916.6 878,916 879,915.4 880,914.8 881,914.2 882,913.6 883,913 884,912.4 885,911.8 886,911.2 887,910.6 888,910 889,909.4 890,908.8 891,908.2 892,907.6 893,906.9 894,906.3 895,905.7 896,905.1 897,904.5 898,903.9 899,903.3 900,902.7 901,902.1 902,901.5 903,900.9 904,900.3 905,899.7 906,899.1 907,898.5 908,897.9 909,897.3 910,896.7 911,896.1 912,895.6 913,895 914,894.4 915,893.9 916,893.3 917,892.7 918,892.2 919,891.6 920,891.1 921,890.6 922,890 923,889.5 924,889 925,888.5 926,888 927,887.5 928,887 929,886.5 930,886 931,885.5 932,885.1 933,884.6 934,884.2 935,883.8 936,883.3 937,882.9 938,882.5 939,882.1 940,881.7 941,881.3 942,881 943,880.6 944,880.2 945,879.9 946,879.6 947,879.3 948,879 949,878.7 950,878.4 951,878.1 952,877.8 953,877.6 954,877.4 955,877.1 956,876.9 957,876.7 958,876.5 959,876.4 960,876.2 961,876.1 962,875.9 963,875.8 964,875.7 965,875.6 966,875.5 967,875.5 968,875.4 969,875.4 970,875.4 971,875.4 972,875.4 973,875.4 974,875.4 975,875.5 976,875.5 977,875.6 978,875.7 979,875.8 980,875.9 981,876.1 982,876.2 983,876.4 984,876.6 985,876.8 986,877 987,877.2 988,877.4 989,877.7 990,878 991,878.2 992,878.5 993,878.9 994,879.2 995,879.5 996,879.9 997,880.2 998,880.6 999,881 1000,881.4 1001,881.9 1002,882.3 1003,882.8 1004,883.2 1005,883.7 1006,884.2 1007,884.7 1008,885.2 1009,885.7 1010,886.3 1011,886.8 1012,887.4 1013,888 1014,888.6 1015,889.2 1016,889.8 1017,890.4 1018,891.1 1019,891.7 1020,892.4 1021,893 1022,893.7 1023,894.4 1024,895.1 1025,895.8 1026,896.5 1027,897.2 1028,898 1029,898.7 1030,899.5 1031,900.2 1032,901 1033,901.8 1034,902.6 1035,903.4 1036,904.2 1037,905 1038,905.8 1039,906.6 1040,907.4 1041,908.2 1042,909.1 1043,909.9 1044,910.7 1045,911.6 1046,912.4 1047,913.3 1048,914.2 1049,915 1050,915.9 1051,916.8 1052,917.6 1053,918.5 1054,919.4 1055,920.3 1056,921.1 1057,922 1058,922.9 1059,923.8 1060,924.7 1061,925.6 1062,926.5 1063,927.3 1064,928.2 1065,929.1 1066,930 1067,930.9 1068,931.8 1069,932.7 1070,933.5 1071,934.4 1072,935.3 1073,936.2 1074,937 1075,937.9 1076,938.8 1077,939.6 1078,940.5 1079,941.4 1080,942.2 1081,943.1 1082,943.9 1083,944.8 1084,945.6 1085,946.4 1086,947.3 1087,948.1 1088,948.9 1089,949.7 1090,950.5 1091,951.4 1092,952.2 1093,953 1094,953.7 1095,954.5 1096,955.3 1097,956.1 1098,956.9 1099,957.6 1100,958.4 1101,959.1 1102,959.9 1103,960.6 1104,961.3 1105,962.1 1106,962.8 1107,963.5 1108,964.2 1109,964.9 1110,965.6 1111,966.3 1112,967 1113,967.6 1114,968.3 1115,968.9 1116,969.6 1117,970.2 1118,970.9 1119,971.5 1120,972.1 1121,972.7 1122,973.3 1123,973.9 1124,974.5 1125,975.1 1126,975.7 1127,976.3 1128,976.8 1129,977.4 1130,977.9 1131,978.5 1132,979 1133,979.5 1134,980.1 1135,980.6 1136,981.1 1137,981.6 1138,982.1 1139,982.6 1140,983 1141,983.5 1142,984 1143,984.4 1144,984.9 1145,985.3 1146,985.8 1147,986.2 1148,986.6 1149,987 1150,987.4 1151,987.8 1152,988.2 1153,988.6 1154,989 1155,989.4 1156,989.7 1157,990.1 1158,990.5 1159,990.8 1160,991.2 1161,991.5 1162,991.8 1163,992.1 1164,992.5 1165,992.8 1166,993.1 1167,993.4 1168,993.7 1169,994 1170,994.3 1171,994.5 1172,994.8 1173,995.1 1174,995.4 1175,995.6 1176,995.9 1177,996.1 1178,996.4 1179,996.6 1180,996.8 1181,997.1 1182,997.3 1183,997.5 1184,997.7 1185,997.9 1186,998.1 1187,998.3 1188,998.5 1189,998.7 1190,998.9 1191,999.1 1192,999.3 1193,999.4 1194,999.6 1195,999.8 1196,999.9 1197,1000.1 1198,1000.3 1199,1000.4 1200,1000.6 1201,1000.7 1202,1000.9 1203,1001 1204,1001.1 1205,1001.3 1206,1001.4 1207,1001.5 1208,1001.6 1209,1001.8 1210,1001.9 1211,1002 1212,1002.1 1213,1002.2 1214,1002.3 1215,1002.4 1216,1002.5 1217,1002.6 1218,1002.7 1219,1002.8 1220,1002.9 1221,1003 1222,1003.1 1223,1003.1 1224,1003.2 1225,1003.3 1226,1003.4 1227,1003.4 1228,1003.5 1229,1003.6 1230,1003.7 1231,1003.7 1232,1003.8 1233,1003.8 1234,1003.9 1235,1004 1236,1004 1237,1004.1 1238,1004.1 1239,1004.2 1240,1004.2 1241,1004.3 1242,1004.3 1243,1004.4 1244,1004.4 1245,1004.5 1246,1004.5 1247,1004.5 1248,1004.6 1249,1004.6 1250,1004.7 1251,1004.7 1252,1004.7 1253,1004.8 1254,1004.8 1255,1004.8 1256,1004.9 1257,1004.9 1258,1004.9 1259,1005 1260,1005 1261,1005 1262,1005 1263,1005.1 1264,1005.1 1265,1005.1 1266,1005.1 1267,1005.1 1268,1005.2 1269,1005.2 1270,1005.2 1271,1005.2 1272,1005.2 1273,1005.3 1274,1005.3 1275,1005.3 1276,1005.3 1277,1005.3 1278,1005.3 1279,1005.4 1280,1005.4 1281,1005.4 1282,1005.4 1283,1005.4 1284,1005.4 1285,1005.4 1286,1005.4 1287,1005.4 1288,1005.5 1289,1005.5 1290,1005.5 1291,1005.5 1292,1005.5 1293,1005.5 1294,1005.5" fill="none" stroke="#73a9d8" stroke-width="3.8" stroke-linejoin="round" stroke-linecap="round"/>
<polyline points="736,958.3 737,958.3 738,958.3 739,958.3 740,958.3 741,958.3 742,958.3 743,958.3 744,958.3 745,958.3 746,958.3 747,958.3 748,958.3 749,958.3 750,958.3 751,958.4 752,958.4 753,958.4 754,958.4 755,958.4 756,958.4 757,958.4 758,958.4 759,958.4 760,958.4 761,958.4 762,958.4 763,958.4 764,958.4 765,958.4 766,958.4 767,958.4 768,958.4 769,958.4 770,958.5 771,958.5 772,958.5 773,958.5 774,958.5 775,958.5 776,958.5 777,958.5 778,958.5 779,958.5 780,958.5 781,958.5 782,958.6 783,958.6 784,958.6 785,958.6 786,958.6 787,958.6 788,958.6 789,958.6 790,958.6 791,958.7 792,958.7 793,958.7 794,958.7 795,958.7 796,958.7 797,958.7 798,958.8 799,958.8 800,958.8 801,958.8 802,958.8 803,958.8 804,958.9 805,958.9 806,958.9 807,958.9 808,958.9 809,959 810,959 811,959 812,959 813,959 814,959.1 815,959.1 816,959.1 817,959.1 818,959.2 819,959.2 820,959.2 821,959.2 822,959.3 823,959.3 824,959.3 825,959.3 826,959.4 827,959.4 828,959.4 829,959.5 830,959.5 831,959.5 832,959.5 833,959.6 834,959.6 835,959.6 836,959.7 837,959.7 838,959.7 839,959.8 840,959.8 841,959.9 842,959.9 843,959.9 844,960 845,960 846,960 847,960.1 848,960.1 849,960.2 850,960.2 851,960.3 852,960.3 853,960.3 854,960.4 855,960.4 856,960.5 857,960.5 858,960.6 859,960.6 860,960.6 861,960.7 862,960.7 863,960.8 864,960.8 865,960.9 866,960.9 867,961 868,961 869,961.1 870,961.1 871,961.2 872,961.2 873,961.3 874,961.3 875,961.3 876,961.4 877,961.4 878,961.5 879,961.5 880,961.6 881,961.6 882,961.6 883,961.7 884,961.7 885,961.8 886,961.8 887,961.8 888,961.9 889,961.9 890,961.9 891,961.9 892,962 893,962 894,962 895,962 896,962.1 897,962.1 898,962.1 899,962.1 900,962.1 901,962.1 902,962.1 903,962.1 904,962.1 905,962.1 906,962.1 907,962 908,962 909,962 910,962 911,961.9 912,961.9 913,961.8 914,961.8 915,961.7 916,961.7 917,961.6 918,961.5 919,961.4 920,961.3 921,961.2 922,961.1 923,961 924,960.9 925,960.8 926,960.7 927,960.5 928,960.4 929,960.2 930,960 931,959.9 932,959.7 933,959.5 934,959.3 935,959.1 936,958.9 937,958.7 938,958.4 939,958.2 940,957.9 941,957.7 942,957.4 943,957.1 944,956.9 945,956.6 946,956.2 947,955.9 948,955.6 949,955.3 950,954.9 951,954.6 952,954.2 953,953.8 954,953.5 955,953.1 956,952.7 957,952.3 958,951.9 959,951.4 960,951 961,950.6 962,950.1 963,949.7 964,949.2 965,948.7 966,948.3 967,947.8 968,947.3 969,946.8 970,946.3 971,945.8 972,945.3 973,944.8 974,944.3 975,943.8 976,943.3 977,942.8 978,942.2 979,941.7 980,941.2 981,940.7 982,940.2 983,939.6 984,939.1 985,938.6 986,938.1 987,937.6 988,937.1 989,936.6 990,936.1 991,935.6 992,935.2 993,934.7 994,934.2 995,933.8 996,933.3 997,932.9 998,932.5 999,932.1 1000,931.7 1001,931.3 1002,930.9 1003,930.6 1004,930.2 1005,929.9 1006,929.6 1007,929.3 1008,929 1009,928.8 1010,928.5 1011,928.3 1012,928.1 1013,927.9 1014,927.8 1015,927.6 1016,927.5 1017,927.4 1018,927.3 1019,927.3 1020,927.2 1021,927.2 1022,927.2 1023,927.3 1024,927.3 1025,927.4 1026,927.5 1027,927.6 1028,927.8 1029,928 1030,928.2 1031,928.4 1032,928.6 1033,928.9 1034,929.2 1035,929.5 1036,929.9 1037,930.2 1038,930.6 1039,931.1 1040,931.5 1041,932 1042,932.5 1043,933 1044,933.5 1045,934.1 1046,934.7 1047,935.3 1048,935.9 1049,936.5 1050,937.2 1051,937.9 1052,938.6 1053,939.3 1054,940 1055,940.8 1056,941.5 1057,942.3 1058,943.1 1059,943.9 1060,944.7 1061,945.6 1062,946.4 1063,947.3 1064,948.1 1065,949 1066,949.9 1067,950.8 1068,951.7 1069,952.6 1070,953.5 1071,954.4 1072,955.3 1073,956.2 1074,957.2 1075,958.1 1076,959 1077,959.9 1078,960.8 1079,961.8 1080,962.7 1081,963.6 1082,964.5 1083,965.4 1084,966.3 1085,967.2 1086,968.1 1087,969 1088,969.9 1089,970.7 1090,971.6 1091,972.5 1092,973.3 1093,974.1 1094,975 1095,975.8 1096,976.6 1097,977.4 1098,978.2 1099,978.9 1100,979.7 1101,980.4 1102,981.2 1103,981.9 1104,982.6 1105,983.3 1106,984 1107,984.7 1108,985.3 1109,986 1110,986.6 1111,987.2 1112,987.8 1113,988.4 1114,989 1115,989.5 1116,990.1 1117,990.6 1118,991.2 1119,991.7 1120,992.2 1121,992.6 1122,993.1 1123,993.6 1124,994 1125,994.5 1126,994.9 1127,995.3 1128,995.7 1129,996.1 1130,996.4 1131,996.8 1132,997.1 1133,997.5 1134,997.8 1135,998.1 1136,998.4 1137,998.7 1138,999 1139,999.3 1140,999.6 1141,999.8 1142,1000.1 1143,1000.3 1144,1000.5 1145,1000.8 1146,1001 1147,1001.2 1148,1001.4 1149,1001.6 1150,1001.7 1151,1001.9 1152,1002.1 1153,1002.2 1154,1002.4 1155,1002.5 1156,1002.7 1157,1002.8 1158,1003 1159,1003.1 1160,1003.2 1161,1003.3 1162,1003.4 1163,1003.5 1164,1003.6 1165,1003.7 1166,1003.8 1167,1003.9 1168,1004 1169,1004.1 1170,1004.2 1171,1004.2 1172,1004.3 1173,1004.4 1174,1004.4 1175,1004.5 1176,1004.5 1177,1004.6 1178,1004.6 1179,1004.7 1180,1004.7 1181,1004.8 1182,1004.8 1183,1004.9 1184,1004.9 1185,1005 1186,1005 1187,1005 1188,1005.1 1189,1005.1 1190,1005.1 1191,1005.1 1192,1005.2 1193,1005.2 1194,1005.2 1195,1005.2 1196,1005.3 1197,1005.3 1198,1005.3 1199,1005.3 1200,1005.3 1201,1005.4 1202,1005.4 1203,1005.4 1204,1005.4 1205,1005.4 1206,1005.4 1207,1005.4 1208,1005.5 1209,1005.5 1210,1005.5 1211,1005.5 1212,1005.5 1213,1005.5 1214,1005.5 1215,1005.5 1216,1005.5 1217,1005.5 1218,1005.5 1219,1005.5 1220,1005.6 1221,1005.6 1222,1005.6 1223,1005.6 1224,1005.6 1225,1005.6 1226,1005.6 1227,1005.6 1228,1005.6 1229,1005.6 1230,1005.6 1231,1005.6 1232,1005.6 1233,1005.6 1234,1005.6 1235,1005.6 1236,1005.6 1237,1005.6 1238,1005.6 1239,1005.6 1240,1005.6 1241,1005.6 1242,1005.6 1243,1005.6 1244,1005.7 1245,1005.7 1246,1005.7 1247,1005.7 1248,1005.7 1249,1005.7 1250,1005.7 1251,1005.7 1252,1005.7 1253,1005.7 1254,1005.7 1255,1005.7 1256,1005.7 1257,1005.7 1258,1005.7 1259,1005.7 1260,1005.7 1261,1005.7 1262,1005.7 1263,1005.7 1264,1005.7 1265,1005.7 1266,1005.7 1267,1005.7 1268,1005.7 1269,1005.7 1270,1005.7 1271,1005.7 1272,1005.7 1273,1005.7 1274,1005.7 1275,1005.7 1276,1005.7 1277,1005.7 1278,1005.7 1279,1005.7 1280,1005.7 1281,1005.7 1282,1005.7 1283,1005.7 1284,1005.7 1285,1005.7 1286,1005.7 1287,1005.7 1288,1005.7 1289,1005.7 1290,1005.7 1291,1005.7 1292,1005.7 1293,1005.7 1294,1005.7" fill="none" stroke="#f2926e" stroke-width="3.8" stroke-linejoin="round" stroke-linecap="round"/>
<polyline points="736,955.8 744,956.7 753.9,955.4 758.3,951.4 768.4,957 775.5,951 785.2,952.2 790.7,952.3 801.5,949.2 808.2,947.1 817.6,943.3 823.9,940.9 831.7,937.9 841.2,931.1 849.9,931.6 855.5,927.9 865.9,925.8 873.7,921.5 878.7,915.5 888.4,910.8 896.8,906.6 905.8,900.1 912.7,896 918.5,889.7 928,883.5 936,874.1 944,870.9 953.8,858.2 959.4,859.7 966.9,848 976.1,843.4 984.6,835.6 993.8,830.8 1000.3,822.2 1007.1,821.2 1017.7,821.2 1024,829.3 1032.7,833.8 1039.9,846.7 1046.9,855.4 1056.8,874.6 1065.1,885.3 1070.8,892.8 1079.8,907.4 1087.4,919.7 1094.7,928.3 1102.9,943.1 1113.9,953.3 1121.5,963.9 1127.5,967.6 1137,978.3 1142.2,977.7 1153.7,987.8 1160.1,986 1169.3,995.3 1175.1,993.4 1183.5,998.1 1191.4,1001.2 1201.9,1003.8 1207.7,1001.2 1216,1005.3 1225.8,1002.5 1233.6,1007.6 1239.6,1003 1247.2,1005 1257.2,1004.8 1262.4,1007.9 1271.6,1005.9 1281.5,1008.3 1294,1003.2" fill="none" stroke="#000" stroke-width="3.4" stroke-linejoin="round" stroke-linecap="round"/>
<polyline points="736,956.8 737,956.7 738,956.7 739,956.6 740,956.6 741,956.5 742,956.5 743,956.4 744,956.3 745,956.3 746,956.2 747,956.1 748,956.1 749,956 750,955.9 751,955.9 752,955.8 753,955.7 754,955.6 755,955.5 756,955.5 757,955.4 758,955.3 759,955.2 760,955.1 761,955 762,954.9 763,954.8 764,954.7 765,954.6 766,954.5 767,954.4 768,954.3 769,954.2 770,954 771,953.9 772,953.8 773,953.7 774,953.5 775,953.4 776,953.3 777,953.1 778,953 779,952.8 780,952.7 781,952.5 782,952.4 783,952.2 784,952 785,951.9 786,951.7 787,951.5 788,951.4 789,951.2 790,951 791,950.8 792,950.6 793,950.4 794,950.2 795,950 796,949.8 797,949.6 798,949.3 799,949.1 800,948.9 801,948.7 802,948.4 803,948.2 804,947.9 805,947.7 806,947.4 807,947.2 808,946.9 809,946.6 810,946.4 811,946.1 812,945.8 813,945.5 814,945.2 815,944.9 816,944.6 817,944.3 818,944 819,943.7 820,943.3 821,943 822,942.7 823,942.3 824,942 825,941.6 826,941.3 827,940.9 828,940.6 829,940.2 830,939.8 831,939.4 832,939 833,938.6 834,938.2 835,937.8 836,937.4 837,937 838,936.6 839,936.2 840,935.7 841,935.3 842,934.9 843,934.4 844,934 845,933.5 846,933 847,932.6 848,932.1 849,931.6 850,931.1 851,930.6 852,930.1 853,929.6 854,929.1 855,928.6 856,928.1 857,927.6 858,927 859,926.5 860,926 861,925.4 862,924.9 863,924.3 864,923.8 865,923.2 866,922.6 867,922.1 868,921.5 869,920.9 870,920.3 871,919.7 872,919.1 873,918.5 874,917.9 875,917.3 876,916.7 877,916.1 878,915.5 879,914.9 880,914.2 881,913.6 882,913 883,912.3 884,911.7 885,911 886,910.4 887,909.7 888,909 889,908.4 890,907.7 891,907 892,906.4 893,905.7 894,905 895,904.3 896,903.6 897,902.9 898,902.2 899,901.5 900,900.8 901,900.1 902,899.4 903,898.7 904,898 905,897.3 906,896.6 907,895.8 908,895.1 909,894.4 910,893.6 911,892.9 912,892.2 913,891.4 914,890.7 915,889.9 916,889.2 917,888.4 918,887.7 919,886.9 920,886.2 921,885.4 922,884.6 923,883.9 924,883.1 925,882.3 926,881.5 927,880.8 928,880 929,879.2 930,878.4 931,877.6 932,876.8 933,876.1 934,875.3 935,874.5 936,873.7 937,872.9 938,872.1 939,871.3 940,870.5 941,869.7 942,868.9 943,868.1 944,867.3 945,866.5 946,865.7 947,864.9 948,864.1 949,863.3 950,862.5 951,861.7 952,860.9 953,860.1 954,859.3 955,858.5 956,857.7 957,856.9 958,856.1 959,855.3 960,854.5 961,853.8 962,853 963,852.2 964,851.5 965,850.7 966,849.9 967,849.2 968,848.5 969,847.7 970,847 971,846.3 972,845.6 973,844.9 974,844.2 975,843.5 976,842.9 977,842.2 978,841.6 979,840.9 980,840.3 981,839.7 982,839.1 983,838.5 984,838 985,837.4 986,836.9 987,836.4 988,835.9 989,835.4 990,835 991,834.6 992,834.1 993,833.8 994,833.4 995,833 996,832.7 997,832.4 998,832.1 999,831.9 1000,831.7 1001,831.5 1002,831.3 1003,831.1 1004,831 1005,830.9 1006,830.9 1007,830.8 1008,830.8 1009,830.9 1010,830.9 1011,831 1012,831.1 1013,831.3 1014,831.4 1015,831.7 1016,831.9 1017,832.2 1018,832.5 1019,832.8 1020,833.2 1021,833.6 1022,834.1 1023,834.5 1024,835 1025,835.6 1026,836.2 1027,836.8 1028,837.4 1029,838.1 1030,838.8 1031,839.5 1032,840.3 1033,841.1 1034,842 1035,842.8 1036,843.7 1037,844.7 1038,845.7 1039,846.7 1040,847.7 1041,848.8 1042,849.9 1043,851 1044,852.1 1045,853.3 1046,854.5 1047,855.8 1048,857 1049,858.3 1050,859.6 1051,861 1052,862.3 1053,863.7 1054,865.1 1055,866.5 1056,868 1057,869.4 1058,870.9 1059,872.4 1060,873.9 1061,875.5 1062,877 1063,878.5 1064,880.1 1065,881.7 1066,883.3 1067,884.9 1068,886.5 1069,888.1 1070,889.7 1071,891.3 1072,892.9 1073,894.6 1074,896.2 1075,897.8 1076,899.4 1077,901.1 1078,902.7 1079,904.3 1080,905.9 1081,907.6 1082,909.2 1083,910.8 1084,912.4 1085,914 1086,915.6 1087,917.1 1088,918.7 1089,920.3 1090,921.8 1091,923.4 1092,924.9 1093,926.4 1094,927.9 1095,929.4 1096,930.9 1097,932.3 1098,933.8 1099,935.2 1100,936.6 1101,938 1102,939.4 1103,940.7 1104,942.1 1105,943.4 1106,944.7 1107,946 1108,947.3 1109,948.5 1110,949.8 1111,951 1112,952.2 1113,953.4 1114,954.5 1115,955.7 1116,956.8 1117,957.9 1118,959 1119,960.1 1120,961.1 1121,962.2 1122,963.2 1123,964.2 1124,965.1 1125,966.1 1126,967 1127,968 1128,968.9 1129,969.8 1130,970.6 1131,971.5 1132,972.3 1133,973.1 1134,973.9 1135,974.7 1136,975.5 1137,976.2 1138,976.9 1139,977.7 1140,978.4 1141,979.1 1142,979.7 1143,980.4 1144,981 1145,981.7 1146,982.3 1147,982.9 1148,983.4 1149,984 1150,984.6 1151,985.1 1152,985.7 1153,986.2 1154,986.7 1155,987.2 1156,987.7 1157,988.1 1158,988.6 1159,989 1160,989.5 1161,989.9 1162,990.3 1163,990.7 1164,991.1 1165,991.5 1166,991.9 1167,992.3 1168,992.6 1169,993 1170,993.3 1171,993.7 1172,994 1173,994.3 1174,994.6 1175,994.9 1176,995.2 1177,995.5 1178,995.8 1179,996.1 1180,996.3 1181,996.6 1182,996.8 1183,997.1 1184,997.3 1185,997.6 1186,997.8 1187,998 1188,998.2 1189,998.4 1190,998.6 1191,998.9 1192,999 1193,999.2 1194,999.4 1195,999.6 1196,999.8 1197,1000 1198,1000.1 1199,1000.3 1200,1000.4 1201,1000.6 1202,1000.7 1203,1000.9 1204,1001 1205,1001.2 1206,1001.3 1207,1001.4 1208,1001.6 1209,1001.7 1210,1001.8 1211,1001.9 1212,1002 1213,1002.2 1214,1002.3 1215,1002.4 1216,1002.5 1217,1002.6 1218,1002.7 1219,1002.8 1220,1002.9 1221,1002.9 1222,1003 1223,1003.1 1224,1003.2 1225,1003.3 1226,1003.4 1227,1003.4 1228,1003.5 1229,1003.6 1230,1003.6 1231,1003.7 1232,1003.8 1233,1003.8 1234,1003.9 1235,1004 1236,1004 1237,1004.1 1238,1004.1 1239,1004.2 1240,1004.2 1241,1004.3 1242,1004.3 1243,1004.4 1244,1004.4 1245,1004.5 1246,1004.5 1247,1004.5 1248,1004.6 1249,1004.6 1250,1004.7 1251,1004.7 1252,1004.7 1253,1004.8 1254,1004.8 1255,1004.8 1256,1004.9 1257,1004.9 1258,1004.9 1259,1005 1260,1005 1261,1005 1262,1005 1263,1005.1 1264,1005.1 1265,1005.1 1266,1005.1 1267,1005.1 1268,1005.2 1269,1005.2 1270,1005.2 1271,1005.2 1272,1005.2 1273,1005.3 1274,1005.3 1275,1005.3 1276,1005.3 1277,1005.3 1278,1005.3 1279,1005.4 1280,1005.4 1281,1005.4 1282,1005.4 1283,1005.4 1284,1005.4 1285,1005.4 1286,1005.4 1287,1005.4 1288,1005.5 1289,1005.5 1290,1005.5 1291,1005.5 1292,1005.5 1293,1005.5 1294,1005.5" fill="none" stroke="#118080" stroke-width="2.8" stroke-linejoin="round" stroke-linecap="round"/>
<text x="1262" y="585.1" font-size="28" font-weight="bold" text-anchor="end" fill="#000" font-family="'Liberation Sans', Arial, sans-serif">Mn 2p</text>
<text x="1263" y="596.2" font-size="15.5" font-weight="bold" text-anchor="start" fill="#000" font-family="'Liberation Sans', Arial, sans-serif">3/2</text>
<text x="753.4" y="614.1" font-size="22" font-weight="bold" text-anchor="start" fill="#000" font-family="'Liberation Sans', Arial, sans-serif">7.50% MnO<tspan font-size="15.8" font-weight="normal">2</tspan><tspan font-weight="normal">@</tspan>GR</text>
<text x="754.5" y="853.5" font-size="22.5" font-weight="bold" text-anchor="start" fill="#000" font-family="'Liberation Sans', Arial, sans-serif"><tspan font-family="'Liberation Serif', 'Times New Roman', serif" font-weight="normal">α</tspan>-MnO<tspan font-size="16.6">2</tspan></text>
<text x="784.4" y="673" font-size="19.5" font-weight="bold" text-anchor="start" fill="#000" font-family="'Liberation Sans', Arial, sans-serif" textLength="122.0" lengthAdjust="spacingAndGlyphs">Mn<tspan font-size="12" dy="-11">4+</tspan><tspan dy="11">(39.82%)</tspan></text>
<text x="1133.3" y="715" font-size="19.5" font-weight="bold" text-anchor="start" fill="#000" font-family="'Liberation Sans', Arial, sans-serif" textLength="121.3" lengthAdjust="spacingAndGlyphs">Mn<tspan font-size="12" dy="-11">3+</tspan><tspan dy="11">(60.18%)</tspan></text>
<text x="775.7" y="896.5" font-size="19.5" font-weight="bold" text-anchor="start" fill="#000" font-family="'Liberation Sans', Arial, sans-serif" textLength="122.0" lengthAdjust="spacingAndGlyphs">Mn<tspan font-size="12" dy="-11">4+</tspan><tspan dy="11">(71.77%)</tspan></text>
<text x="1118.1" y="944.4" font-size="19.5" font-weight="bold" text-anchor="start" fill="#000" font-family="'Liberation Sans', Arial, sans-serif" textLength="123.1" lengthAdjust="spacingAndGlyphs">Mn<tspan font-size="12" dy="-11">3+</tspan><tspan dy="11">(28.23%)</tspan></text>
<rect x="735.5" y="559" width="559.1" height="479.7" fill="none" stroke="#000" stroke-width="3"/>
<line x1="791" y1="1038.7" x2="791" y2="1048.7" stroke="#000" stroke-width="3"/>
<line x1="903.1" y1="1038.7" x2="903.1" y2="1048.7" stroke="#000" stroke-width="3"/>
<line x1="1015.2" y1="1038.7" x2="1015.2" y2="1048.7" stroke="#000" stroke-width="3"/>
<line x1="1127.3" y1="1038.7" x2="1127.3" y2="1048.7" stroke="#000" stroke-width="3"/>
<line x1="1239.4" y1="1038.7" x2="1239.4" y2="1048.7" stroke="#000" stroke-width="3"/>
<line x1="847.1" y1="1038.7" x2="847.1" y2="1044.7" stroke="#000" stroke-width="3"/>
<line x1="959.2" y1="1038.7" x2="959.2" y2="1044.7" stroke="#000" stroke-width="3"/>
<line x1="1071.2" y1="1038.7" x2="1071.2" y2="1044.7" stroke="#000" stroke-width="3"/>
<line x1="1183.3" y1="1038.7" x2="1183.3" y2="1044.7" stroke="#000" stroke-width="3"/>
<line x1="1295.5" y1="1038.7" x2="1295.5" y2="1044.7" stroke="#000" stroke-width="3"/>
<text x="791" y="1075.3" font-size="26" font-weight="normal" text-anchor="middle" fill="#000" font-family="'Liberation Sans', Arial, sans-serif">646</text>
<text x="903.1" y="1075.3" font-size="26" font-weight="normal" text-anchor="middle" fill="#000" font-family="'Liberation Sans', Arial, sans-serif">644</text>
<text x="1015.2" y="1075.3" font-size="26" font-weight="normal" text-anchor="middle" fill="#000" font-family="'Liberation Sans', Arial, sans-serif">642</text>
<text x="1127.3" y="1075.3" font-size="26" font-weight="normal" text-anchor="middle" fill="#000" font-family="'Liberation Sans', Arial, sans-serif">640</text>
<text x="1239.4" y="1075.3" font-size="26" font-weight="normal" text-anchor="middle" fill="#000" font-family="'Liberation Sans', Arial, sans-serif">638</text>
<text x="1015" y="1114.3" font-size="28" font-weight="bold" text-anchor="middle" fill="#000" font-family="'Liberation Sans', Arial, sans-serif">Binding energy (eV)</text>
<text x="718.3" y="798.2" font-size="28.9" font-weight="bold" text-anchor="middle" fill="#000" font-family="'Liberation Sans', Arial, sans-serif" transform="rotate(-90 718.3 798.2)">Intensity (a.u.)</text>
<polyline points="1416.5,1016 1418.5,1016 1420.5,1015.9 1422.5,1015.9 1424.5,1015.9 1426.5,1015.8 1428.5,1015.8 1430.5,1015.8 1432.5,1015.7 1434.5,1015.7 1436.5,1015.7 1438.5,1015.6 1440.5,1015.6 1442.5,1015.6 1444.5,1015.5 1446.5,1015.5 1448.5,1015.5 1450.5,1015.4 1452.5,1015.4 1454.5,1015.4 1456.5,1015.3 1458.5,1015.3 1460.5,1015.3 1462.5,1015.3 1464.5,1015.2 1466.5,1015.2 1468.5,1015.2 1470.5,1015.2 1472.5,1015.1 1474.5,1015.1 1476.5,1015.1 1478.5,1015.1 1480.5,1015.1 1482.5,1015.1 1484.5,1015 1486.5,1015 1488.5,1015 1490.5,1015 1492.5,1015 1494.5,1015 1496.5,1015 1498.5,1015 1500,1015 1500.5,1015 1502.5,1015 1504.5,1015 1506.5,1015 1508.5,1015 1510.5,1015 1512.5,1015 1514.5,1015 1516.5,1015 1518.5,1015 1520.5,1015 1522.5,1015 1524.5,1015 1526.5,1015 1528.5,1015 1530.5,1015 1532.5,1015 1534.5,1015 1536.5,1015 1538.5,1015 1540.5,1015 1542.5,1015.1 1544.5,1015.1 1546.5,1015.1 1548.5,1015.1 1550.5,1015.1 1552.5,1015.1 1554.5,1015.1 1556.5,1015.1 1558.5,1015.1 1560.5,1015.1 1562.5,1015.1 1564.5,1015.1 1566.5,1015.1 1568.5,1015.1 1570.5,1015.1 1572.5,1015.1 1574.5,1015.2 1576.5,1015.2 1578.5,1015.2 1580.5,1015.2 1582.5,1015.2 1584.5,1015.2 1586.5,1015.2 1588.5,1015.2 1590.5,1015.2 1592.5,1015.2 1594.5,1015.2 1596.5,1015.2 1598.5,1015.3 1600.5,1015.3 1602.5,1015.3 1604.5,1015.3 1606.5,1015.3 1608.5,1015.3 1610.5,1015.3 1612.5,1015.3 1614.5,1015.3 1616.5,1015.3 1618.5,1015.3 1620.5,1015.4 1622.5,1015.4 1624.5,1015.4 1626.5,1015.4 1628.5,1015.4 1630.5,1015.4 1632.5,1015.4 1634.5,1015.4 1636.5,1015.4 1638.5,1015.4 1640.5,1015.5 1642.5,1015.5 1644.5,1015.5 1646.5,1015.5 1648.5,1015.5 1650,1015.5 1650.5,1015.5 1652.5,1015.5 1654.5,1015.5 1656.5,1015.5 1658.5,1015.5 1660.5,1015.6 1662.5,1015.6 1664.5,1015.6 1666.5,1015.6 1668.5,1015.6 1670.5,1015.6 1672.5,1015.7 1674.5,1015.7 1676.5,1015.7 1678.5,1015.7 1680.5,1015.7 1682.5,1015.8 1684.5,1015.8 1686.5,1015.8 1688.5,1015.8 1690.5,1015.8 1692.5,1015.9 1694.5,1015.9 1696.5,1015.9 1698.5,1015.9 1700.5,1016 1702.5,1016 1704.5,1016 1706.5,1016 1708.5,1016.1 1710.5,1016.1 1712.5,1016.1 1714.5,1016.1 1716.5,1016.2 1718.5,1016.2 1720.5,1016.2 1722.5,1016.2 1724.5,1016.3 1726.5,1016.3 1728.5,1016.3 1730.5,1016.3 1732.5,1016.4 1734.5,1016.4 1736.5,1016.4 1738.5,1016.4 1740.5,1016.5 1742.5,1016.5 1744.5,1016.5 1746.5,1016.5 1748.5,1016.5 1750.5,1016.6 1752.5,1016.6 1754.5,1016.6 1756.5,1016.6 1758.5,1016.7 1760.5,1016.7 1762.5,1016.7 1764.5,1016.7 1766.5,1016.7 1768.5,1016.8 1770.5,1016.8 1772.5,1016.8 1774.5,1016.8 1776.5,1016.8 1778.5,1016.9 1780.5,1016.9 1782.5,1016.9 1784.5,1016.9 1786.5,1016.9 1788.5,1016.9 1790.5,1016.9 1792.5,1017 1794.5,1017 1796.5,1017 1798.5,1017 1800,1017 1800.5,1017 1802.5,1017 1804.5,1017 1806.5,1017 1808.5,1017 1810.5,1017 1812.5,1017.1 1814.5,1017.1 1816.5,1017.1 1818.5,1017.1 1820.5,1017.1 1822.5,1017.1 1824.5,1017.1 1826.5,1017.1 1828.5,1017.1 1830.5,1017.1 1832.5,1017.1 1834.5,1017.2 1836.5,1017.2 1838.5,1017.2 1840.5,1017.2 1842.5,1017.2 1844.5,1017.2 1846.5,1017.2 1848.5,1017.2 1850.5,1017.2 1852.5,1017.2 1854.5,1017.2 1856.5,1017.2 1858.5,1017.3 1860.5,1017.3 1862.5,1017.3 1864.5,1017.3 1866.5,1017.3 1868.5,1017.3 1870.5,1017.3 1872.5,1017.3 1874.5,1017.3 1876.5,1017.3 1878.5,1017.3 1880.5,1017.3 1882.5,1017.3 1884.5,1017.3 1886.5,1017.4 1888.5,1017.4 1890.5,1017.4 1892.5,1017.4 1894.5,1017.4 1896.5,1017.4 1898.5,1017.4 1900.5,1017.4 1902.5,1017.4 1904.5,1017.4 1906.5,1017.4 1908.5,1017.4 1910.5,1017.4 1912.5,1017.4 1914.5,1017.4 1916.5,1017.4 1918.5,1017.4 1920.5,1017.4 1922.5,1017.4 1924.5,1017.5 1926.5,1017.5 1928.5,1017.5 1930.5,1017.5 1932.5,1017.5 1934.5,1017.5 1936.5,1017.5 1938.5,1017.5 1940.5,1017.5 1942.5,1017.5 1944.5,1017.5 1946.5,1017.5 1948.5,1017.5 1950.5,1017.5 1952.5,1017.5 1954.5,1017.5 1956.5,1017.5 1958.5,1017.5 1960.5,1017.5 1962.5,1017.5 1964.5,1017.5 1966.5,1017.5 1968.5,1017.5 1970.5,1017.5 1971,1017.5" fill="none" stroke="#000" stroke-width="3.2" stroke-linejoin="round" stroke-linecap="round"/>
<polyline points="1416.5,1016 1418.5,1015.7 1420.5,1015.3 1422.5,1015 1424.5,1014.7 1426.5,1014.4 1428.5,1014.1 1430,1014 1430.5,1014 1432.5,1013.8 1434.5,1013.7 1436.5,1013.5 1438.5,1013.4 1440.5,1013.3 1442.5,1013.2 1444.5,1013 1446.5,1012.9 1448.5,1012.9 1450.5,1012.8 1452.5,1012.7 1454.5,1012.6 1456.5,1012.5 1458.5,1012.4 1460.5,1012.3 1462.5,1012.3 1464.5,1012.2 1466.5,1012.1 1468.5,1012 1470.5,1011.9 1472.5,1011.8 1474.5,1011.7 1474.6,1011.7 1476.5,1011.6 1478.5,1011.5 1480.5,1011.4 1482.5,1011.3 1484.5,1011.2 1486.5,1011.1 1488.5,1011 1490.5,1010.9 1492.5,1010.7 1494.5,1010.6 1496.5,1010.5 1498.5,1010.4 1500.5,1010.3 1502.5,1010.2 1504.5,1010.1 1506.5,1010 1508.5,1009.9 1510.5,1009.8 1512.5,1009.7 1514.5,1009.6 1516.5,1009.5 1518.5,1009.3 1520.5,1009.2 1522.5,1009.1 1524.5,1009 1526.5,1008.9 1528.5,1008.8 1530.5,1008.7 1532.5,1008.5 1534.5,1008.4 1536.5,1008.3 1538.5,1008.2 1540.5,1008.1 1542.5,1007.9 1544.5,1007.8 1546.5,1007.7 1548.5,1007.6 1550.5,1007.4 1552.5,1007.3 1554.5,1007.2 1555.4,1007.1 1556.5,1007 1558.5,1006.9 1560.5,1006.7 1562.5,1006.6 1564.5,1006.4 1566.5,1006.2 1568.5,1006 1570.5,1005.8 1572.5,1005.6 1574.5,1005.5 1576.5,1005.3 1578.5,1005.1 1580.5,1004.9 1582.5,1004.7 1584.5,1004.5 1586.5,1004.4 1588.5,1004.2 1590.5,1004.1 1592.5,1003.9 1594.5,1003.8 1596.5,1003.7 1598.5,1003.6 1600,1003.5 1600.5,1003.5 1602.5,1003.4 1604.5,1003.3 1606.5,1003.2 1608.5,1003.1 1610.5,1003.1 1612.5,1003 1614.5,1002.9 1616.5,1002.9 1618.5,1002.8 1620.5,1002.7 1622.5,1002.7 1624.5,1002.7 1626.5,1002.6 1628.5,1002.6 1630.5,1002.6 1630.8,1002.6 1632.5,1002.6 1634.5,1002.6 1636.5,1002.7 1638.5,1002.7 1640.5,1002.8 1642.5,1002.9 1644.5,1003 1645,1003 1646.5,1003.1 1648.5,1003.4 1650.5,1003.8 1652.5,1004.2 1653.7,1004.4 1654.5,1004.5 1656.5,1004.8 1658.5,1005.2 1660,1005.4 1660.5,1005.5 1662.5,1005.8 1664.5,1006.2 1666.5,1006.5 1668.5,1006.8 1670,1007 1670.5,1007.1 1672.5,1007.3 1674.5,1007.6 1676.5,1007.8 1678.5,1008.1 1680.5,1008.3 1682.5,1008.5 1684.5,1008.7 1686.5,1008.8 1688.5,1008.9 1690.5,1009 1691.2,1009 1692.5,1009 1694.5,1009 1696.5,1008.9 1698.5,1008.8 1700.5,1008.7 1702.5,1008.6 1704.5,1008.5 1706.5,1008.4 1708.5,1008.3 1710.5,1008.1 1712.5,1008 1714.5,1007.8 1716.5,1007.7 1718.5,1007.6 1720,1007.5 1720.5,1007.5 1722.5,1007.4 1724.5,1007.3 1726.5,1007.1 1728.5,1007 1730.5,1006.9 1732.5,1006.8 1734.5,1006.7 1736.5,1006.6 1738.5,1006.5 1740.5,1006.4 1742.5,1006.3 1744.5,1006.2 1746.5,1006.1 1748.5,1006 1750.5,1005.9 1752.5,1005.8 1754.5,1005.6 1756.5,1005.5 1758.5,1005.4 1760.5,1005.3 1762.5,1005.2 1764.5,1005.1 1766.5,1005 1768.5,1004.8 1770.5,1004.7 1772.5,1004.6 1774.5,1004.5 1776.5,1004.3 1778.5,1004.2 1780.5,1004.1 1782.5,1004 1784.5,1003.8 1786.5,1003.7 1788.5,1003.6 1790.5,1003.4 1792.5,1003.3 1793.6,1003.2 1794.5,1003.1 1796.5,1003 1798.5,1002.8 1800.5,1002.7 1802.5,1002.5 1804.5,1002.4 1806.5,1002.2 1808.5,1002 1810.5,1001.9 1812.5,1001.7 1814.5,1001.5 1816.5,1001.3 1818.5,1001.2 1820.5,1001 1822.5,1000.8 1824.5,1000.6 1826.5,1000.4 1828.5,1000.2 1830.5,1000 1832.5,999.8 1834.5,999.6 1836.5,999.4 1838.5,999.2 1840.5,999 1842.5,998.8 1844.5,998.6 1846.5,998.4 1848.5,998.2 1850,998 1850.5,997.9 1852.5,997.7 1854.5,997.4 1856.5,997.2 1858.5,996.8 1860.5,996.5 1862.5,996.2 1864.5,995.8 1866.5,995.5 1868.5,995.2 1870.5,994.8 1872.5,994.5 1874.5,994.1 1876.5,993.8 1878.5,993.5 1880.5,993.2 1882.5,992.9 1884.5,992.7 1886.5,992.5 1888.5,992.3 1890.5,992.2 1892.5,992.1 1894.5,992 1896,992 1896.5,992 1898.5,992 1900.5,992 1902.5,992.1 1904.5,992.1 1906.5,992.2 1908.5,992.3 1910.5,992.4 1912.5,992.5 1914.5,992.6 1916.5,992.7 1918.5,992.8 1920.5,993 1922.5,993.1 1924.5,993.3 1926.5,993.4 1928.5,993.6 1930.5,993.8 1932.5,994 1934.5,994.1 1936.2,994.3 1936.5,994.3 1938.5,994.6 1940.5,994.8 1942.5,995.2 1944.5,995.6 1946.5,996 1948.5,996.5 1950.5,997 1952.5,997.6 1954.5,998.2 1956.5,998.8 1958.5,999.5 1960.5,1000.1 1962.5,1000.8 1964.5,1001.6 1966.5,1002.3 1968.5,1003.1 1970.5,1003.8 1971,1004" fill="none" stroke="#f2926e" stroke-width="3.6" stroke-linejoin="round" stroke-linecap="round"/>
<polyline points="1416.5,1022 1418,1015 1418.5,1013.5 1420,1010.5 1420.5,1009.9 1422.5,1007.9 1424.5,1006.7 1425,1006.5 1426.5,1006 1428.5,1005.4 1430.5,1005 1432,1004.8 1432.5,1004.8 1434.5,1004.7 1436.5,1004.6 1438.5,1004.5 1440.5,1004.5 1442.3,1004.4 1442.5,1004.4 1444.5,1004.3 1446.5,1004.3 1448.5,1004.2 1450.5,1004.2 1452.5,1004.1 1454.5,1004.1 1456.5,1004 1458.5,1003.9 1460.5,1003.9 1462.5,1003.8 1464.5,1003.7 1466.5,1003.7 1468.5,1003.6 1470,1003.5 1470.5,1003.5 1472.5,1003.3 1474.5,1003.2 1476.5,1002.9 1478.5,1002.7 1480.5,1002.4 1482.5,1002.1 1484.5,1001.8 1486.5,1001.4 1488.5,1001.1 1490.5,1000.8 1492.5,1000.4 1494.5,1000.1 1496.5,999.7 1498.5,999.4 1500.5,999.1 1501.5,999 1502.5,998.9 1504.5,998.6 1506.5,998.3 1508.5,998.1 1510.5,997.8 1512.5,997.6 1514.5,997.3 1516.5,997.1 1518.5,996.9 1520.5,996.6 1522.5,996.4 1524.5,996.1 1526.5,995.9 1528.5,995.7 1530.5,995.4 1532.5,995.2 1534.5,994.9 1536.5,994.7 1538.5,994.5 1540.5,994.2 1542.5,994 1544.5,993.7 1546.5,993.5 1548.5,993.2 1550.5,993 1552.5,992.7 1554.5,992.4 1555.4,992.3 1556.5,992.1 1558.5,991.9 1560.5,991.6 1562.5,991.3 1564.5,991 1566.5,990.7 1568.5,990.3 1570.5,990 1572.5,989.7 1574.5,989.4 1576.5,989 1578.5,988.7 1580.5,988.4 1582.5,988 1584.5,987.7 1586.5,987.4 1588.5,987.1 1590.5,986.7 1592.5,986.4 1594.5,986.1 1596.5,985.8 1598.5,985.5 1600.5,985.3 1602.5,985 1604.5,984.7 1606.5,984.5 1608.5,984.3 1609.2,984.2 1610.5,984.1 1612.5,983.9 1614.5,983.6 1616.5,983.4 1618.5,983.3 1620.5,983.1 1622.5,982.9 1624.5,982.7 1626.5,982.5 1628.5,982.4 1630.5,982.2 1632.5,982 1634.5,981.9 1636.5,981.7 1638.5,981.6 1640,981.5 1640.5,981.5 1642.5,981.3 1644.5,981.2 1646.5,981.1 1648.5,981.1 1650.5,981 1652.5,980.9 1654.5,980.8 1656.5,980.7 1658.5,980.6 1660.5,980.4 1662.5,980.3 1663.1,980.2 1664.5,980 1666.5,979.7 1668.5,979.4 1670.5,978.9 1672.5,978.4 1674.5,977.8 1676.5,977.2 1678.5,976.6 1680.5,976 1682.5,975.4 1684.5,974.8 1684.6,974.8 1686.5,974.3 1688.5,973.7 1690.5,973 1692.5,972.3 1693.4,972 1694.5,971.6 1696.5,970.7 1698.5,969.8 1700.5,968.8 1702.5,967.7 1704.5,966.6 1706.5,965.4 1708.5,964.2 1710.5,962.9 1712.5,961.7 1714.5,960.3 1715,960 1716.5,959 1718.5,957.6 1720.5,956.1 1722.5,954.5 1724.5,952.9 1726.5,951.2 1728.5,949.5 1730.5,947.7 1732.5,945.9 1734.5,944.1 1736.5,942.2 1738.5,940.3 1740.2,938.6 1740.5,938.3 1742.5,936.3 1744.5,934.1 1746.5,931.9 1748.5,929.6 1750.5,927.2 1752.5,924.8 1754.5,922.3 1756.5,919.9 1758.5,917.4 1760.5,914.9 1762.5,912.5 1764.5,910.2 1766.5,907.9 1766.9,907.4 1768.5,905.6 1770.5,903.3 1772.5,900.9 1774.5,898.6 1776.5,896.2 1778.5,893.9 1780.5,891.7 1782.5,889.5 1784.5,887.4 1786.5,885.5 1788.5,883.6 1789.2,883 1790.5,881.9 1792.5,880.2 1794.5,878.6 1796.5,877 1798.5,875.5 1800.5,874 1802.5,872.6 1804.5,871.2 1806.5,870 1808.5,868.8 1810.5,867.8 1811.4,867.3 1812.5,866.8 1814.5,865.9 1816.5,865 1818.5,864.2 1820.5,863.5 1822.5,862.8 1824.5,862.2 1825,862 1826.5,861.6 1828.5,861 1830.5,860.6 1832.5,860.1 1834.5,859.6 1836.5,859 1838.2,858.4 1838.5,858.3 1840.5,857.2 1842.5,855.8 1844.5,854.2 1846.5,852.5 1847,852 1848.5,850.5 1850.5,848.2 1852.5,845.6 1854.5,842.8 1856,840.6 1856.5,839.9 1858.5,836.8 1860.5,833.5 1862.5,830.1 1864.5,826.6 1866.5,822.9 1868.5,819.1 1870.5,815.2 1872.5,811.3 1874.5,807.4 1876.5,803.5 1878.5,799.6 1880.5,795.8 1882.5,792 1882.7,791.6 1884.5,788.2 1886.5,784.5 1888.5,780.7 1890.5,776.9 1892.5,773.2 1894.5,769.4 1896.5,765.5 1898.5,761.7 1900.5,757.9 1902.5,754.1 1904.5,750.3 1906.5,746.4 1908.5,742.6 1910.5,738.8 1912.5,735 1914.5,731.1 1916.5,727.3 1918.5,723.5 1920.5,719.8 1922.5,716 1924.5,712.2 1926.5,708.5 1927.3,707 1928.5,704.8 1930.5,701 1932.5,697.3 1934.5,693.6 1936.5,689.9 1938.5,686.2 1940.5,682.5 1942.5,678.9 1944.5,675.2 1946.5,671.5 1948.5,667.8 1950.5,664.2 1952.5,660.5 1954.5,656.9 1956.5,653.2 1958.5,649.6 1960.5,646 1962.5,642.3 1964.5,638.7 1966.5,635.1 1968.5,631.5 1970.5,627.9 1971,627" fill="none" stroke="#73a9d8" stroke-width="3.6" stroke-linejoin="round" stroke-linecap="round"/>
<line x1="1431.4" y1="581.6" x2="1484.8" y2="581.6" stroke="#000" stroke-width="3.5"/>
<line x1="1431.4" y1="610.7" x2="1484.8" y2="610.7" stroke="#f2926e" stroke-width="3.5"/>
<line x1="1431.4" y1="639.1" x2="1484.8" y2="639.1" stroke="#73a9d8" stroke-width="3.5"/>
<text x="1491.4" y="589.3" font-size="23" font-weight="bold" text-anchor="start" fill="#000" font-family="'Liberation Sans', Arial, sans-serif">GR</text>
<text x="1491.4" y="618.3" font-size="23" font-weight="bold" text-anchor="start" fill="#000" font-family="'Liberation Sans', Arial, sans-serif"><tspan font-family="'Liberation Serif', 'Times New Roman', serif" font-weight="normal">α</tspan>-MnO<tspan font-size="17.0">2</tspan></text>
<text x="1491.4" y="647.1" font-size="22.6" font-weight="bold" text-anchor="start" fill="#000" font-family="'Liberation Sans', Arial, sans-serif">7.50% MnO<tspan font-size="16.3" font-weight="normal">2</tspan><tspan font-weight="normal">@</tspan>GR</text>
<rect x="1416.5" y="559" width="555" height="477" fill="none" stroke="#000" stroke-width="3"/>
<line x1="1416.5" y1="1036" x2="1416.5" y2="1046" stroke="#000" stroke-width="3"/>
<line x1="1555.2" y1="1036" x2="1555.2" y2="1046" stroke="#000" stroke-width="3"/>
<line x1="1694" y1="1036" x2="1694" y2="1046" stroke="#000" stroke-width="3"/>
<line x1="1832.8" y1="1036" x2="1832.8" y2="1046" stroke="#000" stroke-width="3"/>
<line x1="1971.5" y1="1036" x2="1971.5" y2="1046" stroke="#000" stroke-width="3"/>
<line x1="1485.9" y1="1036" x2="1485.9" y2="1042" stroke="#000" stroke-width="3"/>
<line x1="1624.6" y1="1036" x2="1624.6" y2="1042" stroke="#000" stroke-width="3"/>
<line x1="1763.4" y1="1036" x2="1763.4" y2="1042" stroke="#000" stroke-width="3"/>
<line x1="1902.1" y1="1036" x2="1902.1" y2="1042" stroke="#000" stroke-width="3"/>
<text x="1416.5" y="1075" font-size="27" font-weight="normal" text-anchor="middle" fill="#000" font-family="'Liberation Sans', Arial, sans-serif">0.0</text>
<text x="1555.2" y="1075" font-size="27" font-weight="normal" text-anchor="middle" fill="#000" font-family="'Liberation Sans', Arial, sans-serif">0.5</text>
<text x="1694" y="1075" font-size="27" font-weight="normal" text-anchor="middle" fill="#000" font-family="'Liberation Sans', Arial, sans-serif">1.0</text>
<text x="1832.8" y="1075" font-size="27" font-weight="normal" text-anchor="middle" fill="#000" font-family="'Liberation Sans', Arial, sans-serif">1.5</text>
<text x="1971.5" y="1075" font-size="27" font-weight="normal" text-anchor="middle" fill="#000" font-family="'Liberation Sans', Arial, sans-serif">2.0</text>
<line x1="1416.5" y1="1016" x2="1406.5" y2="1016" stroke="#000" stroke-width="3"/>
<line x1="1416.5" y1="914.8" x2="1406.5" y2="914.8" stroke="#000" stroke-width="3"/>
<line x1="1416.5" y1="813.6" x2="1406.5" y2="813.6" stroke="#000" stroke-width="3"/>
<line x1="1416.5" y1="712.4" x2="1406.5" y2="712.4" stroke="#000" stroke-width="3"/>
<line x1="1416.5" y1="611.2" x2="1406.5" y2="611.2" stroke="#000" stroke-width="3"/>
<line x1="1416.5" y1="965.4" x2="1410.5" y2="965.4" stroke="#000" stroke-width="3"/>
<line x1="1416.5" y1="864.2" x2="1410.5" y2="864.2" stroke="#000" stroke-width="3"/>
<line x1="1416.5" y1="763" x2="1410.5" y2="763" stroke="#000" stroke-width="3"/>
<line x1="1416.5" y1="661.8" x2="1410.5" y2="661.8" stroke="#000" stroke-width="3"/>
<text x="1399.7" y="1025.2" font-size="27" font-weight="normal" text-anchor="end" fill="#000" font-family="'Liberation Sans', Arial, sans-serif">0.0</text>
<text x="1399.7" y="924" font-size="27" font-weight="normal" text-anchor="end" fill="#000" font-family="'Liberation Sans', Arial, sans-serif">0.5</text>
<text x="1399.7" y="822.8" font-size="27" font-weight="normal" text-anchor="end" fill="#000" font-family="'Liberation Sans', Arial, sans-serif">1.0</text>
<text x="1399.7" y="721.6" font-size="27" font-weight="normal" text-anchor="end" fill="#000" font-family="'Liberation Sans', Arial, sans-serif">1.5</text>
<text x="1399.7" y="620.4" font-size="27" font-weight="normal" text-anchor="end" fill="#000" font-family="'Liberation Sans', Arial, sans-serif">2.0</text>
<text x="1694.5" y="1106.5" font-size="29.2" font-weight="bold" text-anchor="middle" fill="#000" font-family="'Liberation Sans', Arial, sans-serif">Voltage (V)</text>
<text x="1348.8" y="801.4" font-size="31.2" font-weight="bold" text-anchor="middle" fill="#000" font-family="'Liberation Sans', Arial, sans-serif" transform="rotate(-90 1348.8 801.4)">Current (mA)</text>
</svg>
</body></html>
